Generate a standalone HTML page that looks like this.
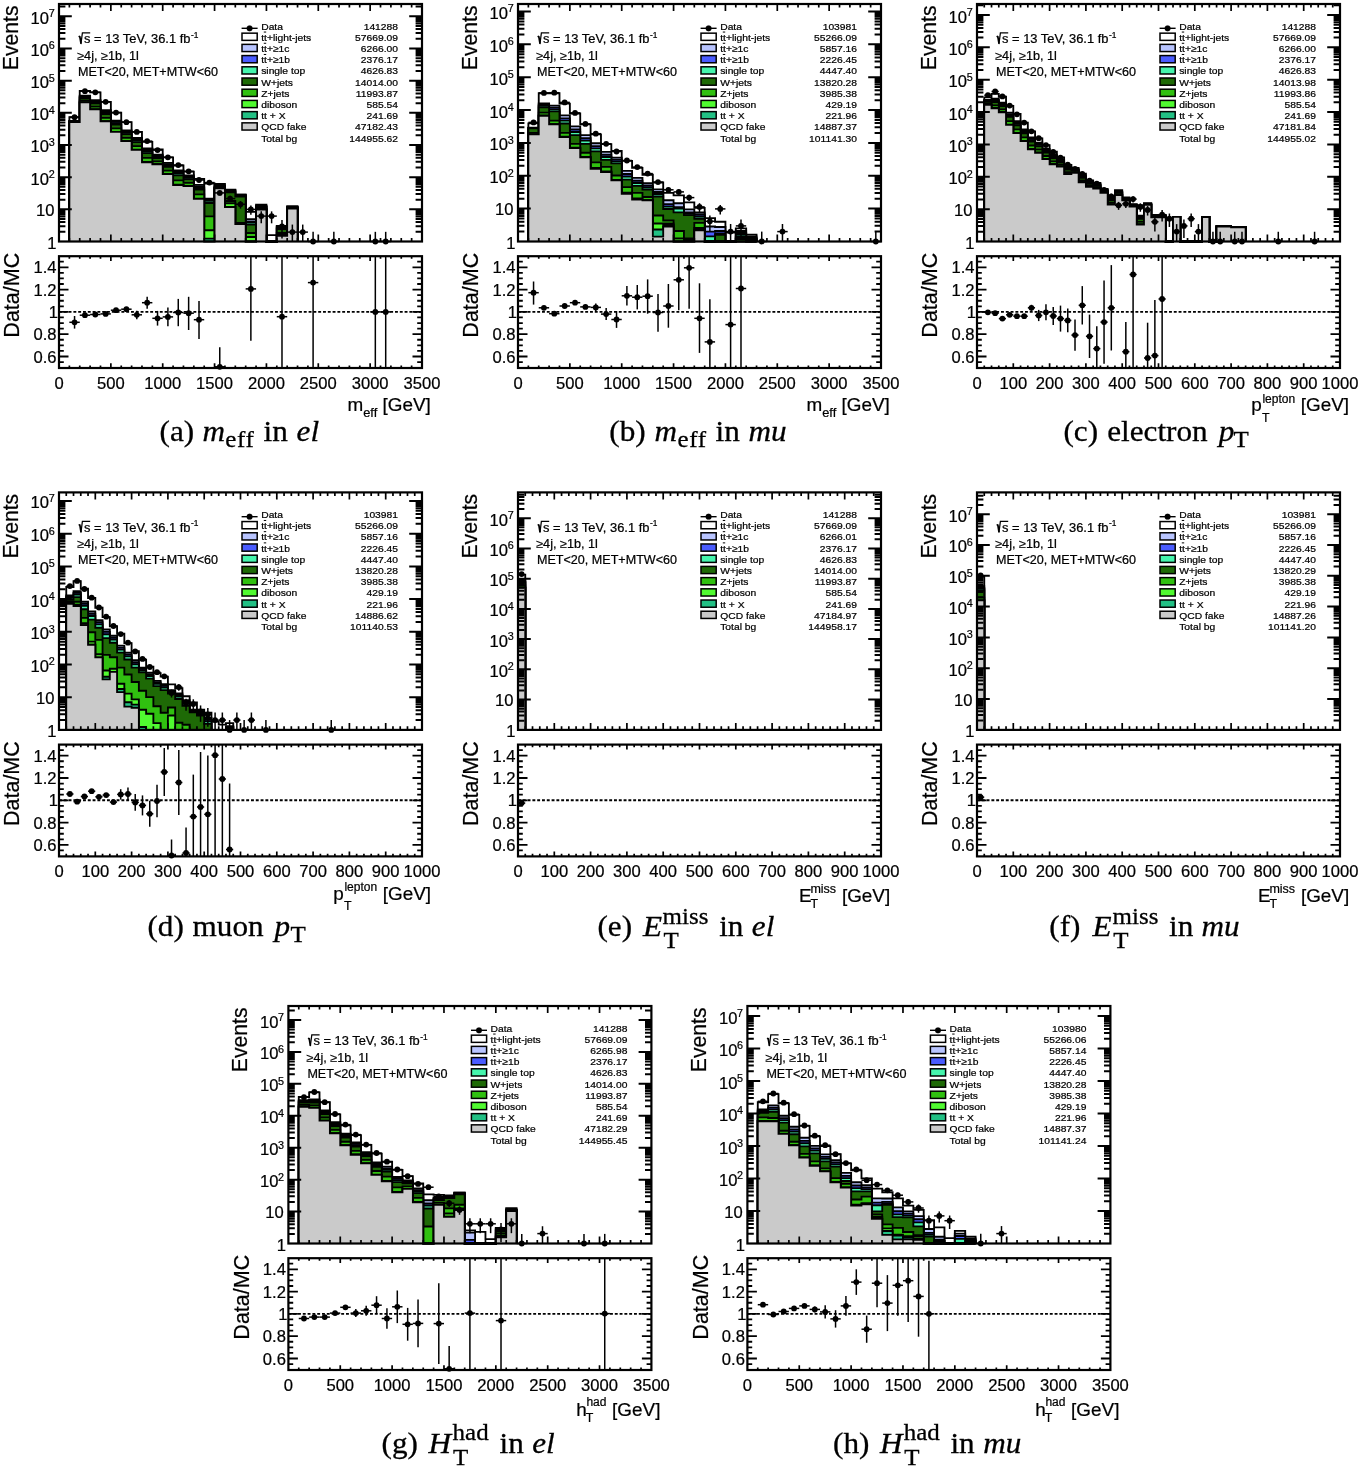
<!DOCTYPE html>
<html lang="en"><head><meta charset="utf-8"><title>Control region distributions</title>
<style>html,body{margin:0;padding:0;background:#fff}svg{display:block}</style></head>
<body>
<svg width="1358" height="1471" viewBox="0 0 1358 1471">
<rect width="1358" height="1471" fill="#fff"/>
<g transform="translate(0,0)">
<g stroke="#000" stroke-width="1.85" stroke-linejoin="miter">
<path d="M69.37 241.5 V117.2 H79.74 V90.9 H90.11 V92.4 H100.49 V101.9 H110.86 V112.6 H121.23 V122.1 H131.6 V131.9 H141.97 V141.8 H152.34 V149.3 H162.71 V157.4 H173.09 V165.5 H183.46 V171.6 H193.83 V178.8 H204.2 V183.5 H214.57 V184 H224.94 V189.7 H235.31 V194.6 H245.69 V211.8 H256.06 V204.7 H266.43 V235.1 H276.8 V225.8 H287.17 V206.2 H297.54 V241.5" fill="#ffffff"/>
<path d="M69.37 241.5 V121 H79.74 V95.6 H90.11 V100.2 H100.49 V110.2 H110.86 V120.6 H121.23 V130.5 H131.6 V138 H141.97 V148.4 H152.34 V154.7 H162.71 V162.8 H173.09 V170.3 H183.46 V175.5 H193.83 V184.8 H204.2 V198.6 H214.57 V185.5 H224.94 V190 H235.31 V194.6 H245.69 V219.2 H256.06 V206 H266.43 V241.5 H276.8 V226.2 H287.17 V207 H297.54 V241.5" fill="#b8c4ff"/>
<path d="M69.37 241.5 V121.22 H79.74 V96.45 H90.11 V101.3 H100.49 V111.52 H110.86 V121.94 H121.23 V131.76 H131.6 V139.4 H141.97 V150.02 H152.34 V155.84 H162.71 V164.14 H173.09 V172.03 H183.46 V176.75 H193.83 V186.45 H204.2 V200 H214.57 V185.92 H224.94 V190.8 H235.31 V195.2 H245.69 V221.6 H256.06 V206.5 H266.43 V241.5 H276.8 V227 H287.17 V207.26 H297.54 V241.5" fill="#4a5cff"/>
<path d="M69.37 241.5 V121.42 H79.74 V97.22 H90.11 V102.3 H100.49 V112.72 H110.86 V123.16 H121.23 V132.91 H131.6 V140.67 H141.97 V151.49 H152.34 V156.88 H162.71 V165.36 H173.09 V173.6 H183.46 V177.89 H193.83 V187.95 H204.2 V200.8 H214.57 V186.3 H224.94 V191.4 H235.31 V195.8 H245.69 V222.6 H256.06 V206.94 H266.43 V241.5 H276.8 V228 H287.17 V207.5 H297.54 V241.5" fill="#45f5ad"/>
<path d="M69.37 241.5 V121.64 H79.74 V98.06 H90.11 V103.4 H100.49 V114.04 H110.86 V124.5 H121.23 V134.18 H131.6 V142.06 H141.97 V153.1 H152.34 V158.03 H162.71 V166.7 H173.09 V175.32 H183.46 V179.15 H193.83 V189.6 H204.2 V203 H214.57 V186.72 H224.94 V192.2 H235.31 V196.5 H245.69 V224.6 H256.06 V207.44 H266.43 V241.5 H276.8 V229 H287.17 V207.77 H297.54 V241.5" fill="#1e6a06"/>
<path d="M69.37 241.5 V122.1 H79.74 V100.53 H90.11 V106.6 H100.49 V117.88 H110.86 V128.41 H121.23 V137.86 H131.6 V146.13 H141.97 V157.81 H152.34 V161.36 H162.71 V170.61 H173.09 V180.35 H183.46 V182.8 H193.83 V194.4 H204.2 V216.4 H214.57 V187.93 H224.94 V201 H235.31 V223 H245.69 V233 H256.06 V208.88 H266.43 V241.5 H276.8 V233 H287.17 V208.5 H297.54 V241.5" fill="#30c010"/>
<path d="M69.37 241.5 V122.1 H79.74 V102.4 H90.11 V109.3 H100.49 V121.24 H110.86 V131.82 H121.23 V141.08 H131.6 V149.68 H141.97 V161.92 H152.34 V164.2 H162.71 V174.02 H173.09 V184.74 H183.46 V185.99 H193.83 V198.6 H204.2 V230.2 H214.57 V188.4 H224.94 V203.2 H235.31 V224 H245.69 V237 H256.06 V209.6 H266.43 V241.5 H276.8 V235 H287.17 V208.5 H297.54 V241.5" fill="#50fa30"/>
<path d="M69.37 241.5 V122.1 H79.74 V102.4 H90.11 V109.3 H100.49 V121.3 H110.86 V131.9 H121.23 V141.1 H131.6 V149.8 H141.97 V162.2 H152.34 V164.2 H162.71 V174.1 H173.09 V185.1 H183.46 V186 H193.83 V198.9 H204.2 V238.6 H214.57 V188.4 H224.94 V207 H235.31 V224 H245.69 V241.5 H256.06 V209.6 H266.43 V241.5 H276.8 V235.9 H287.17 V208.5 H297.54 V241.5" fill="#22c084"/>
<path d="M69.37 241.5 V122.1 H79.74 V102.4 H90.11 V109.3 H100.49 V121.3 H110.86 V131.9 H121.23 V141.1 H131.6 V149.8 H141.97 V162.2 H152.34 V164.2 H162.71 V174.1 H173.09 V185.1 H183.46 V186 H193.83 V198.9 H204.2 V241.5 H214.57 V188.4 H224.94 V207 H235.31 V224 H245.69 V241.5 H256.06 V209.6 H266.43 V241.5 H276.8 V235.9 H287.17 V208.5 H297.54 V241.5" fill="#cacaca"/>
</g>
<g stroke="#000" stroke-width="1.5" fill="#000">
<path d="M69.36 117.2H79.76"/>
<circle cx="74.56" cy="117.2" r="2.9" stroke="none"/>
<path d="M79.73 91.2H90.13"/>
<circle cx="84.93" cy="91.2" r="2.9" stroke="none"/>
<path d="M90.1 92.3H100.5"/>
<circle cx="95.3" cy="92.3" r="2.9" stroke="none"/>
<path d="M100.47 101.8H110.87"/>
<circle cx="105.67" cy="101.8" r="2.9" stroke="none"/>
<path d="M110.84 112.6H121.24"/>
<circle cx="116.04" cy="112.6" r="2.9" stroke="none"/>
<path d="M121.21 122.2H131.61"/>
<circle cx="126.41" cy="122.2" r="2.9" stroke="none"/>
<path d="M131.59 131.9H141.99"/>
<circle cx="136.79" cy="131.9" r="2.9" stroke="none"/>
<path d="M141.96 141.1H152.36"/>
<circle cx="147.16" cy="141.1" r="2.9" stroke="none"/>
<path d="M152.33 150.1H162.73"/>
<circle cx="157.53" cy="150.1" r="2.9" stroke="none"/>
<path d="M162.7 157.3H173.1"/>
<circle cx="167.9" cy="157.3" r="2.9" stroke="none"/>
<path d="M178.27 164.22V166.04"/>
<path d="M173.07 165.1H183.47"/>
<circle cx="178.27" cy="165.1" r="2.9" stroke="none"/>
<path d="M188.64 170.21V172.48"/>
<path d="M183.44 171.3H193.84"/>
<circle cx="188.64" cy="171.3" r="2.9" stroke="none"/>
<path d="M199.01 178.53V181.64"/>
<path d="M193.81 180H204.21"/>
<circle cx="199.01" cy="180" r="2.9" stroke="none"/>
<path d="M209.39 181V184.41"/>
<path d="M204.19 182.6H214.59"/>
<circle cx="209.39" cy="182.6" r="2.9" stroke="none"/>
<path d="M219.76 190.64V195.6"/>
<path d="M214.56 192.9H224.96"/>
<circle cx="219.76" cy="192.9" r="2.9" stroke="none"/>
<path d="M230.13 195.87V201.99"/>
<path d="M224.93 198.6H235.33"/>
<circle cx="230.13" cy="198.6" r="2.9" stroke="none"/>
<path d="M240.5 201.03V208.59"/>
<path d="M235.3 204.3H245.7"/>
<circle cx="240.5" cy="204.3" r="2.9" stroke="none"/>
<path d="M250.87 205.55V214.73"/>
<path d="M245.67 209.4H256.07"/>
<circle cx="250.87" cy="209.4" r="2.9" stroke="none"/>
<path d="M261.24 211.37V223.31"/>
<path d="M256.04 216.1H266.44"/>
<circle cx="261.24" cy="216.1" r="2.9" stroke="none"/>
<path d="M271.61 211.37V223.31"/>
<path d="M266.41 216.1H276.81"/>
<circle cx="271.61" cy="216.1" r="2.9" stroke="none"/>
<path d="M281.99 219.99V238.6"/>
<path d="M276.79 226.4H287.19"/>
<circle cx="281.99" cy="226.4" r="2.9" stroke="none"/>
<path d="M292.36 224.57V241.5"/>
<path d="M287.16 232.1H297.56"/>
<circle cx="292.36" cy="232.1" r="2.9" stroke="none"/>
<path d="M302.73 224.57V241.5"/>
<path d="M297.53 232.1H307.93"/>
<circle cx="302.73" cy="232.1" r="2.9" stroke="none"/>
<path d="M313.1 231.82V241.5"/>
<path d="M307.9 241.5H318.3"/>
<circle cx="313.1" cy="241.5" r="2.9" stroke="none"/>
<path d="M333.84 231.82V241.5"/>
<path d="M328.64 241.5H339.04"/>
<circle cx="333.84" cy="241.5" r="2.9" stroke="none"/>
<path d="M375.33 231.82V241.5"/>
<path d="M370.13 241.5H380.53"/>
<circle cx="375.33" cy="241.5" r="2.9" stroke="none"/>
<path d="M385.7 231.82V241.5"/>
<path d="M380.5 241.5H390.9"/>
<circle cx="385.7" cy="241.5" r="2.9" stroke="none"/>
</g>
<g stroke="#000" fill="none" stroke-width="2">
<rect x="59" y="4" width="363" height="237.5" stroke-width="2.2"/>
<path d="M59 231.81h6.4 M422 231.81h-6.4 M59 226.14h6.4 M422 226.14h-6.4 M59 222.12h6.4 M422 222.12h-6.4 M59 219h6.4 M422 219h-6.4 M59 216.46h6.4 M422 216.46h-6.4 M59 214.3h6.4 M422 214.3h-6.4 M59 212.44h6.4 M422 212.44h-6.4 M59 210.79h6.4 M422 210.79h-6.4 M59 209.32h12.8 M422 209.32h-12.8 M59 199.64h6.4 M422 199.64h-6.4 M59 193.97h6.4 M422 193.97h-6.4 M59 189.95h6.4 M422 189.95h-6.4 M59 186.83h6.4 M422 186.83h-6.4 M59 184.29h6.4 M422 184.29h-6.4 M59 182.13h6.4 M422 182.13h-6.4 M59 180.27h6.4 M422 180.27h-6.4 M59 178.62h6.4 M422 178.62h-6.4 M59 177.15h12.8 M422 177.15h-12.8 M59 167.47h6.4 M422 167.47h-6.4 M59 161.8h6.4 M422 161.8h-6.4 M59 157.78h6.4 M422 157.78h-6.4 M59 154.66h6.4 M422 154.66h-6.4 M59 152.12h6.4 M422 152.12h-6.4 M59 149.96h6.4 M422 149.96h-6.4 M59 148.1h6.4 M422 148.1h-6.4 M59 146.45h6.4 M422 146.45h-6.4 M59 144.98h12.8 M422 144.98h-12.8 M59 135.3h6.4 M422 135.3h-6.4 M59 129.63h6.4 M422 129.63h-6.4 M59 125.61h6.4 M422 125.61h-6.4 M59 122.49h6.4 M422 122.49h-6.4 M59 119.95h6.4 M422 119.95h-6.4 M59 117.79h6.4 M422 117.79h-6.4 M59 115.93h6.4 M422 115.93h-6.4 M59 114.28h6.4 M422 114.28h-6.4 M59 112.81h12.8 M422 112.81h-12.8 M59 103.13h6.4 M422 103.13h-6.4 M59 97.46h6.4 M422 97.46h-6.4 M59 93.44h6.4 M422 93.44h-6.4 M59 90.32h6.4 M422 90.32h-6.4 M59 87.78h6.4 M422 87.78h-6.4 M59 85.62h6.4 M422 85.62h-6.4 M59 83.76h6.4 M422 83.76h-6.4 M59 82.11h6.4 M422 82.11h-6.4 M59 80.64h12.8 M422 80.64h-12.8 M59 70.96h6.4 M422 70.96h-6.4 M59 65.29h6.4 M422 65.29h-6.4 M59 61.27h6.4 M422 61.27h-6.4 M59 58.15h6.4 M422 58.15h-6.4 M59 55.61h6.4 M422 55.61h-6.4 M59 53.45h6.4 M422 53.45h-6.4 M59 51.59h6.4 M422 51.59h-6.4 M59 49.94h6.4 M422 49.94h-6.4 M59 48.47h12.8 M422 48.47h-12.8 M59 38.79h6.4 M422 38.79h-6.4 M59 33.12h6.4 M422 33.12h-6.4 M59 29.1h6.4 M422 29.1h-6.4 M59 25.98h6.4 M422 25.98h-6.4 M59 23.44h6.4 M422 23.44h-6.4 M59 21.28h6.4 M422 21.28h-6.4 M59 19.42h6.4 M422 19.42h-6.4 M59 17.77h6.4 M422 17.77h-6.4 M59 16.3h12.8 M422 16.3h-12.8 M59 6.62h6.4 M422 6.62h-6.4"/>
<path d="M69.37 4v3.6 M69.37 241.5v-3.6 M79.74 4v3.6 M79.74 241.5v-3.6 M90.11 4v3.6 M90.11 241.5v-3.6 M100.49 4v3.6 M100.49 241.5v-3.6 M110.86 4v7 M110.86 241.5v-7 M121.23 4v3.6 M121.23 241.5v-3.6 M131.6 4v3.6 M131.6 241.5v-3.6 M141.97 4v3.6 M141.97 241.5v-3.6 M152.34 4v3.6 M152.34 241.5v-3.6 M162.71 4v7 M162.71 241.5v-7 M173.09 4v3.6 M173.09 241.5v-3.6 M183.46 4v3.6 M183.46 241.5v-3.6 M193.83 4v3.6 M193.83 241.5v-3.6 M204.2 4v3.6 M204.2 241.5v-3.6 M214.57 4v7 M214.57 241.5v-7 M224.94 4v3.6 M224.94 241.5v-3.6 M235.31 4v3.6 M235.31 241.5v-3.6 M245.69 4v3.6 M245.69 241.5v-3.6 M256.06 4v3.6 M256.06 241.5v-3.6 M266.43 4v7 M266.43 241.5v-7 M276.8 4v3.6 M276.8 241.5v-3.6 M287.17 4v3.6 M287.17 241.5v-3.6 M297.54 4v3.6 M297.54 241.5v-3.6 M307.91 4v3.6 M307.91 241.5v-3.6 M318.29 4v7 M318.29 241.5v-7 M328.66 4v3.6 M328.66 241.5v-3.6 M339.03 4v3.6 M339.03 241.5v-3.6 M349.4 4v3.6 M349.4 241.5v-3.6 M359.77 4v3.6 M359.77 241.5v-3.6 M370.14 4v7 M370.14 241.5v-7 M380.51 4v3.6 M380.51 241.5v-3.6 M390.89 4v3.6 M390.89 241.5v-3.6 M401.26 4v3.6 M401.26 241.5v-3.6 M411.63 4v3.6 M411.63 241.5v-3.6" stroke-width="1.7"/>
</g>
<g stroke="#000" fill="none" stroke-width="2">
<path d="M59 311.9H422" stroke-dasharray="2.9 1.9" stroke-width="1.9"/>
</g>
<g stroke="#000" stroke-width="1.5" fill="#000">
<path d="M74.56 316V328.6"/>
<path d="M69.36 322.3H79.76"/>
<circle cx="74.56" cy="322.3" r="2.9" stroke="none"/>
<path d="M79.73 315.2H90.13"/>
<circle cx="84.93" cy="315.2" r="2.9" stroke="none"/>
<path d="M90.1 314.5H100.5"/>
<circle cx="95.3" cy="314.5" r="2.9" stroke="none"/>
<path d="M100.47 313.9H110.87"/>
<circle cx="105.67" cy="313.9" r="2.9" stroke="none"/>
<path d="M110.84 310.2H121.24"/>
<circle cx="116.04" cy="310.2" r="2.9" stroke="none"/>
<path d="M121.21 309.2H131.61"/>
<circle cx="126.41" cy="309.2" r="2.9" stroke="none"/>
<path d="M136.79 310.8V319.3"/>
<path d="M131.59 314.8H141.99"/>
<circle cx="136.79" cy="314.8" r="2.9" stroke="none"/>
<path d="M147.16 296.7V308.7"/>
<path d="M141.96 302.7H152.36"/>
<circle cx="147.16" cy="302.7" r="2.9" stroke="none"/>
<path d="M157.53 310.9V325.6"/>
<path d="M152.33 318.3H162.73"/>
<circle cx="157.53" cy="318.3" r="2.9" stroke="none"/>
<path d="M167.9 307.4V326.3"/>
<path d="M162.7 316.9H173.1"/>
<circle cx="167.9" cy="316.9" r="2.9" stroke="none"/>
<path d="M178.27 298.9V326.2"/>
<path d="M173.07 312.5H183.47"/>
<circle cx="178.27" cy="312.5" r="2.9" stroke="none"/>
<path d="M188.64 296.8V330"/>
<path d="M183.44 313.2H193.84"/>
<circle cx="188.64" cy="313.2" r="2.9" stroke="none"/>
<path d="M199.01 301.1V338.9"/>
<path d="M193.81 319.7H204.21"/>
<circle cx="199.01" cy="319.7" r="2.9" stroke="none"/>
<path d="M219.76 347.2V368"/>
<path d="M214.56 366.8H224.96"/>
<circle cx="219.76" cy="366.8" r="2.9" stroke="none"/>
<path d="M250.87 256.2V340.7"/>
<path d="M245.67 288.9H256.07"/>
<circle cx="250.87" cy="288.9" r="2.9" stroke="none"/>
<path d="M281.99 256.2V368"/>
<path d="M276.79 316.7H287.19"/>
<circle cx="281.99" cy="316.7" r="2.9" stroke="none"/>
<path d="M313.1 256.2V368"/>
<path d="M307.9 282.6H318.3"/>
<circle cx="313.1" cy="282.6" r="2.9" stroke="none"/>
<path d="M375.33 256.2V368"/>
<path d="M370.13 311.9H380.53"/>
<circle cx="375.33" cy="311.9" r="2.9" stroke="none"/>
<path d="M385.7 256.2V368"/>
<path d="M380.5 311.9H390.9"/>
<circle cx="385.7" cy="311.9" r="2.9" stroke="none"/>
</g>
<g stroke="#000" fill="none" stroke-width="2">
<rect x="59" y="256.2" width="363" height="111.8" stroke-width="2.2"/>
<path d="M69.37 256.2v2.6 M69.37 368v-2.6 M79.74 256.2v2.6 M79.74 368v-2.6 M90.11 256.2v2.6 M90.11 368v-2.6 M100.49 256.2v2.6 M100.49 368v-2.6 M110.86 256.2v4.8 M110.86 368v-4.8 M121.23 256.2v2.6 M121.23 368v-2.6 M131.6 256.2v2.6 M131.6 368v-2.6 M141.97 256.2v2.6 M141.97 368v-2.6 M152.34 256.2v2.6 M152.34 368v-2.6 M162.71 256.2v4.8 M162.71 368v-4.8 M173.09 256.2v2.6 M173.09 368v-2.6 M183.46 256.2v2.6 M183.46 368v-2.6 M193.83 256.2v2.6 M193.83 368v-2.6 M204.2 256.2v2.6 M204.2 368v-2.6 M214.57 256.2v4.8 M214.57 368v-4.8 M224.94 256.2v2.6 M224.94 368v-2.6 M235.31 256.2v2.6 M235.31 368v-2.6 M245.69 256.2v2.6 M245.69 368v-2.6 M256.06 256.2v2.6 M256.06 368v-2.6 M266.43 256.2v4.8 M266.43 368v-4.8 M276.8 256.2v2.6 M276.8 368v-2.6 M287.17 256.2v2.6 M287.17 368v-2.6 M297.54 256.2v2.6 M297.54 368v-2.6 M307.91 256.2v2.6 M307.91 368v-2.6 M318.29 256.2v4.8 M318.29 368v-4.8 M328.66 256.2v2.6 M328.66 368v-2.6 M339.03 256.2v2.6 M339.03 368v-2.6 M349.4 256.2v2.6 M349.4 368v-2.6 M359.77 256.2v2.6 M359.77 368v-2.6 M370.14 256.2v4.8 M370.14 368v-4.8 M380.51 256.2v2.6 M380.51 368v-2.6 M390.89 256.2v2.6 M390.89 368v-2.6 M401.26 256.2v2.6 M401.26 368v-2.6 M411.63 256.2v2.6 M411.63 368v-2.6" stroke-width="1.7"/>
<path d="M59 362.07h4.8 M422 362.07h-4.8 M59 356.5h9.5 M422 356.5h-9.5 M59 350.92h4.8 M422 350.92h-4.8 M59 345.35h4.8 M422 345.35h-4.8 M59 339.77h4.8 M422 339.77h-4.8 M59 334.2h9.5 M422 334.2h-9.5 M59 328.62h4.8 M422 328.62h-4.8 M59 323.05h4.8 M422 323.05h-4.8 M59 317.47h4.8 M422 317.47h-4.8 M59 311.9h9.5 M422 311.9h-9.5 M59 306.32h4.8 M422 306.32h-4.8 M59 300.75h4.8 M422 300.75h-4.8 M59 295.18h4.8 M422 295.18h-4.8 M59 289.6h9.5 M422 289.6h-9.5 M59 284.02h4.8 M422 284.02h-4.8 M59 278.45h4.8 M422 278.45h-4.8 M59 272.87h4.8 M422 272.87h-4.8 M59 267.3h9.5 M422 267.3h-9.5 M59 261.72h4.8 M422 261.72h-4.8" stroke-width="1.8"/>
</g>
<g font-family='"Liberation Sans", Arial, Helvetica, sans-serif' fill="#000" stroke="#000" stroke-width="0.22">
<text x="56.6" y="248.69" font-size="16.6" text-anchor="end">1</text>
<text x="54.4" y="216.02" font-size="16.6" text-anchor="end">10</text>
<text x="49.0" y="184.65" font-size="16.6" text-anchor="end">10</text>
<text x="48.7" y="178.05" font-size="10.8">2</text>
<text x="49.0" y="152.48" font-size="16.6" text-anchor="end">10</text>
<text x="48.7" y="145.88" font-size="10.8">3</text>
<text x="49.0" y="120.31" font-size="16.6" text-anchor="end">10</text>
<text x="48.7" y="113.71" font-size="10.8">4</text>
<text x="49.0" y="88.14" font-size="16.6" text-anchor="end">10</text>
<text x="48.7" y="81.54" font-size="10.8">5</text>
<text x="49.0" y="55.97" font-size="16.6" text-anchor="end">10</text>
<text x="48.7" y="49.37" font-size="10.8">6</text>
<text x="49.0" y="23.8" font-size="16.6" text-anchor="end">10</text>
<text x="48.7" y="17.2" font-size="10.8">7</text>
<text x="56.5" y="273.3" font-size="16.6" text-anchor="end">1.4</text>
<text x="56.5" y="295.6" font-size="16.6" text-anchor="end">1.2</text>
<text x="58.0" y="317.9" font-size="16.6" text-anchor="end">1</text>
<text x="56.5" y="340.2" font-size="16.6" text-anchor="end">0.8</text>
<text x="56.5" y="362.5" font-size="16.6" text-anchor="end">0.6</text>
<text x="59" y="388.7" font-size="16.6" text-anchor="middle">0</text>
<text x="110.86" y="388.7" font-size="16.6" text-anchor="middle">500</text>
<text x="162.71" y="388.7" font-size="16.6" text-anchor="middle">1000</text>
<text x="214.57" y="388.7" font-size="16.6" text-anchor="middle">1500</text>
<text x="266.43" y="388.7" font-size="16.6" text-anchor="middle">2000</text>
<text x="318.29" y="388.7" font-size="16.6" text-anchor="middle">2500</text>
<text x="370.14" y="388.7" font-size="16.6" text-anchor="middle">3000</text>
<text x="422" y="388.7" font-size="16.6" text-anchor="middle">3500</text>
<text transform="translate(17.7,5.4) rotate(-90)" font-size="21.2" text-anchor="end">Events</text>
<text transform="translate(19.1,252.8) rotate(-90)" font-size="21.5" text-anchor="end">Data/MC</text>
<text x="430.8" y="411.4" font-size="18.9" text-anchor="end">m<tspan font-size="12.8" dy="5.2">eff</tspan><tspan dy="-5.2"> [GeV]</tspan></text>
<path d="M78.7 37l1.1 -0.7l1.2 7.4" fill="none" stroke="#000" stroke-width="1.7" stroke-linejoin="bevel"/><path d="M80.9 44.2l1.5 -11.3h7.8" fill="none" stroke="#000" stroke-width="1.25"/>
<text x="84" y="43.4" font-size="11.9" textLength="106.4" lengthAdjust="spacingAndGlyphs">s = 13 TeV, 36.1 fb</text>
<text x="190.9" y="38" font-size="8.4">-1</text>
<text x="77.2" y="59.6" font-size="11.9" textLength="61.6" lengthAdjust="spacingAndGlyphs">≥4j, ≥1b, 1l</text>
<text x="78" y="75.6" font-size="11.9" textLength="140" lengthAdjust="spacingAndGlyphs">MET&lt;20, MET+MTW&lt;60</text>
<path d="M241.6 28.3H257.6" stroke="#000" stroke-width="1.4"/><circle cx="249.6" cy="28.3" r="2.9"/>
<text transform="translate(261.2,29.55) scale(1.09,1)" font-size="9.45">Data</text>
<text transform="translate(398,29.55) scale(1.09,1)" font-size="9.45" text-anchor="end">141288</text>
<rect x="242" y="33.16" width="15.2" height="7.2" fill="#ffffff" stroke="#000" stroke-width="1.5"/>
<text transform="translate(261.2,40.76) scale(1.09,1)" font-size="9.45">tt+light-jets</text>
<path d="M263.8 32.06h2.4" stroke="#000" stroke-width="1"/>
<text transform="translate(398,40.76) scale(1.09,1)" font-size="9.45" text-anchor="end">57669.09</text>
<rect x="242" y="44.37" width="15.2" height="7.2" fill="#b8c4ff" stroke="#000" stroke-width="1.5"/>
<text transform="translate(261.2,51.97) scale(1.09,1)" font-size="9.45">tt+≥1c</text>
<path d="M263.8 43.27h2.4" stroke="#000" stroke-width="1"/>
<text transform="translate(398,51.97) scale(1.09,1)" font-size="9.45" text-anchor="end">6266.00</text>
<rect x="242" y="55.58" width="15.2" height="7.2" fill="#4a5cff" stroke="#000" stroke-width="1.5"/>
<text transform="translate(261.2,63.18) scale(1.09,1)" font-size="9.45">tt+≥1b</text>
<path d="M263.8 54.48h2.4" stroke="#000" stroke-width="1"/>
<text transform="translate(398,63.18) scale(1.09,1)" font-size="9.45" text-anchor="end">2376.17</text>
<rect x="242" y="66.79" width="15.2" height="7.2" fill="#45f5ad" stroke="#000" stroke-width="1.5"/>
<text transform="translate(261.2,74.39) scale(1.09,1)" font-size="9.45">single top</text>
<text transform="translate(398,74.39) scale(1.09,1)" font-size="9.45" text-anchor="end">4626.83</text>
<rect x="242" y="78" width="15.2" height="7.2" fill="#1e6a06" stroke="#000" stroke-width="1.5"/>
<text transform="translate(261.2,85.6) scale(1.09,1)" font-size="9.45">W+jets</text>
<text transform="translate(398,85.6) scale(1.09,1)" font-size="9.45" text-anchor="end">14014.00</text>
<rect x="242" y="89.21" width="15.2" height="7.2" fill="#30c010" stroke="#000" stroke-width="1.5"/>
<text transform="translate(261.2,96.81) scale(1.09,1)" font-size="9.45">Z+jets</text>
<text transform="translate(398,96.81) scale(1.09,1)" font-size="9.45" text-anchor="end">11993.87</text>
<rect x="242" y="100.42" width="15.2" height="7.2" fill="#50fa30" stroke="#000" stroke-width="1.5"/>
<text transform="translate(261.2,108.02) scale(1.09,1)" font-size="9.45">diboson</text>
<text transform="translate(398,108.02) scale(1.09,1)" font-size="9.45" text-anchor="end">585.54</text>
<rect x="242" y="111.63" width="15.2" height="7.2" fill="#22c084" stroke="#000" stroke-width="1.5"/>
<text transform="translate(261.2,119.23) scale(1.09,1)" font-size="9.45">tt + X</text>
<text transform="translate(398,119.23) scale(1.09,1)" font-size="9.45" text-anchor="end">241.69</text>
<rect x="242" y="122.84" width="15.2" height="7.2" fill="#cacaca" stroke="#000" stroke-width="1.5"/>
<text transform="translate(261.2,130.44) scale(1.09,1)" font-size="9.45">QCD fake</text>
<text transform="translate(398,130.44) scale(1.09,1)" font-size="9.45" text-anchor="end">47182.43</text>
<text transform="translate(261.2,141.65) scale(1.09,1)" font-size="9.45">Total bg</text>
<text transform="translate(398,141.65) scale(1.09,1)" font-size="9.45" text-anchor="end">144955.62</text>
</g>
</g>
<g font-family='"Liberation Serif", "Times New Roman", Times, serif' fill="#000" stroke="#000" stroke-width="0.3"><text transform="translate(159.6,441.1) scale(1.04,1)" font-size="30.0">(a)</text><text transform="translate(202.6,441.1) scale(1.04,1)" font-size="30.0" font-style="italic">m</text><text transform="translate(225.2,447.4) scale(1.04,1)" font-size="24.0" letter-spacing="0.7">eff</text><text transform="translate(263.6,441.1) scale(1.04,1)" font-size="30.0">in</text><text transform="translate(296.6,441.1) scale(1.04,1)" font-size="30.0" font-style="italic">el</text></g>
<g transform="translate(459,0)">
<g stroke="#000" stroke-width="1.85" stroke-linejoin="miter">
<path d="M69.37 241.5 V123.3 H79.74 V93.2 H90.11 V93.2 H100.49 V103.6 H110.86 V113.5 H121.23 V124.4 H131.6 V134.3 H141.97 V144.1 H152.34 V151 H162.71 V160.8 H173.09 V167.8 H183.46 V174.7 H193.83 V182.5 H204.2 V192.8 H214.57 V195.4 H224.94 V202.4 H235.31 V207.8 H245.69 V218.1 H256.06 V221.7 H266.43 V232.5 H276.8 V228.4 H287.17 V234.6 H297.54 V241.5" fill="#ffffff"/>
<path d="M69.37 241.5 V127.6 H79.74 V103.3 H90.11 V105.6 H100.49 V115.4 H110.86 V126.4 H121.23 V135.1 H131.6 V143.2 H141.97 V151.9 H152.34 V157.6 H162.71 V170.9 H173.09 V177.9 H183.46 V183.1 H193.83 V189.3 H204.2 V200.2 H214.57 V203.2 H224.94 V209.4 H235.31 V212.5 H245.69 V226.5 H256.06 V227 H266.43 V241.5 H276.8 V231 H287.17 V236.5 H297.54 V241.5" fill="#b8c4ff"/>
<path d="M69.37 241.5 V127.89 H79.74 V104.78 H90.11 V107.69 H100.49 V118.32 H110.86 V129.53 H121.23 V138.23 H131.6 V146.12 H141.97 V154.78 H152.34 V159.69 H162.71 V174.03 H173.09 V180.78 H183.46 V185.4 H193.83 V192 H204.2 V204.2 H214.57 V207.2 H224.94 V212.4 H235.31 V214.5 H245.69 V231.6 H256.06 V231 H266.43 V241.5 H276.8 V233 H287.17 V238 H297.54 V241.5" fill="#4a5cff"/>
<path d="M69.37 241.5 V128.11 H79.74 V105.92 H90.11 V109.31 H100.49 V120.58 H110.86 V131.97 H121.23 V140.67 H131.6 V148.38 H141.97 V157.02 H152.34 V161.31 H162.71 V176.47 H173.09 V183.02 H183.46 V187.2 H193.83 V194 H204.2 V206.6 H214.57 V208.5 H224.94 V213.8 H235.31 V216.5 H245.69 V236.3 H256.06 V233.5 H266.43 V241.5 H276.8 V234.5 H287.17 V239 H297.54 V241.5" fill="#45f5ad"/>
<path d="M69.37 241.5 V128.4 H79.74 V107.4 H90.11 V111.4 H100.49 V123.5 H110.86 V135.1 H121.23 V143.8 H131.6 V151.3 H141.97 V159.9 H152.34 V163.4 H162.71 V179.6 H173.09 V185.9 H183.46 V189.5 H193.83 V196.5 H204.2 V209 H214.57 V212.4 H224.94 V215.1 H235.31 V218.7 H245.69 V241.5 H256.06 V234.8 H266.43 V241.5 H276.8 V236.5 H287.17 V240 H297.54 V241.5" fill="#1e6a06"/>
<path d="M69.37 241.5 V132.8 H79.74 V112.6 H90.11 V120.6 H100.49 V132.8 H110.86 V143.8 H121.23 V152.7 H131.6 V162.3 H141.97 V166.9 H152.34 V175.5 H162.71 V187.1 H173.09 V192.9 H183.46 V197 H193.83 V215.5 H204.2 V220.5 H214.57 V231 H224.94 V238.5 H235.31 V222.8 H245.69 V241.5 H256.06 V241.5 H266.43 V241.5 H276.8 V237.6 H287.17 V241.5 H297.54 V241.5" fill="#30c010"/>
<path d="M69.37 241.5 V134.4 H79.74 V115.6 H90.11 V124.12 H100.49 V136.7 H110.86 V147.7 H121.23 V156.82 H131.6 V167.93 H141.97 V171.47 H152.34 V179.85 H162.71 V192.72 H173.09 V198.53 H183.46 V200.15 H193.83 V223.5 H204.2 V223.5 H214.57 V238.5 H224.94 V240 H235.31 V228 H245.69 V241.5 H256.06 V241.5 H266.43 V241.5 H276.8 V239 H287.17 V241.5 H297.54 V241.5" fill="#50fa30"/>
<path d="M69.37 241.5 V134.4 H79.74 V115.7 H90.11 V124.4 H100.49 V137.1 H110.86 V148.1 H121.23 V157.3 H131.6 V168.9 H141.97 V172.1 H152.34 V180.4 H162.71 V193.7 H173.09 V199.5 H183.46 V200.3 H193.83 V229.5 H204.2 V225 H214.57 V241.5 H224.94 V241.5 H235.31 V230 H245.69 V241.5 H256.06 V241.5 H266.43 V241.5 H276.8 V241.5 H287.17 V241.5 H297.54 V241.5" fill="#22c084"/>
<path d="M69.37 241.5 V134.4 H79.74 V115.7 H90.11 V124.4 H100.49 V137.1 H110.86 V148.1 H121.23 V157.3 H131.6 V168.9 H141.97 V172.1 H152.34 V180.4 H162.71 V193.7 H173.09 V199.5 H183.46 V200.3 H193.83 V236.6 H204.2 V226.6 H214.57 V241.5 H224.94 V241.5 H235.31 V230.2 H245.69 V241.5 H256.06 V241.5 H266.43 V241.5 H276.8 V241.5 H287.17 V241.5 H297.54 V241.5" fill="#cacaca"/>
</g>
<g stroke="#000" stroke-width="1.5" fill="#000">
<path d="M69.36 122.4H79.76"/>
<circle cx="74.56" cy="122.4" r="2.9" stroke="none"/>
<path d="M79.73 92.9H90.13"/>
<circle cx="84.93" cy="92.9" r="2.9" stroke="none"/>
<path d="M90.1 92.7H100.5"/>
<circle cx="95.3" cy="92.7" r="2.9" stroke="none"/>
<path d="M100.47 102.4H110.87"/>
<circle cx="105.67" cy="102.4" r="2.9" stroke="none"/>
<path d="M110.84 112.9H121.24"/>
<circle cx="116.04" cy="112.9" r="2.9" stroke="none"/>
<path d="M121.21 123.9H131.61"/>
<circle cx="126.41" cy="123.9" r="2.9" stroke="none"/>
<path d="M131.59 133.7H141.99"/>
<circle cx="136.79" cy="133.7" r="2.9" stroke="none"/>
<path d="M141.96 143.8H152.36"/>
<circle cx="147.16" cy="143.8" r="2.9" stroke="none"/>
<path d="M152.33 151.5H162.73"/>
<circle cx="157.53" cy="151.5" r="2.9" stroke="none"/>
<path d="M167.9 159.69V161.36"/>
<path d="M162.7 160.5H173.1"/>
<circle cx="167.9" cy="160.5" r="2.9" stroke="none"/>
<path d="M178.27 166.09V168.19"/>
<path d="M173.07 167.1H183.47"/>
<circle cx="178.27" cy="167.1" r="2.9" stroke="none"/>
<path d="M188.64 172.34V174.99"/>
<path d="M183.44 173.6H193.84"/>
<circle cx="188.64" cy="173.6" r="2.9" stroke="none"/>
<path d="M199.01 180.42V184"/>
<path d="M193.81 182.1H204.21"/>
<circle cx="199.01" cy="182.1" r="2.9" stroke="none"/>
<path d="M209.39 187.64V192.34"/>
<path d="M204.19 189.8H214.59"/>
<circle cx="209.39" cy="189.8" r="2.9" stroke="none"/>
<path d="M219.76 189.59V194.66"/>
<path d="M214.56 191.9H224.96"/>
<circle cx="219.76" cy="191.9" r="2.9" stroke="none"/>
<path d="M230.13 194.83V201.05"/>
<path d="M224.93 197.6H235.33"/>
<circle cx="230.13" cy="197.6" r="2.9" stroke="none"/>
<path d="M240.5 203.19V211.94"/>
<path d="M235.3 206.9H245.7"/>
<circle cx="240.5" cy="206.9" r="2.9" stroke="none"/>
<path d="M250.87 215.59V230.98"/>
<path d="M245.67 221.3H256.07"/>
<circle cx="250.87" cy="221.3" r="2.9" stroke="none"/>
<path d="M261.24 204.95V214.38"/>
<path d="M256.04 208.9H266.44"/>
<circle cx="261.24" cy="208.9" r="2.9" stroke="none"/>
<path d="M271.61 223.97V241.5"/>
<path d="M266.41 231.6H276.81"/>
<circle cx="271.61" cy="231.6" r="2.9" stroke="none"/>
<path d="M281.99 219.38V238.24"/>
<path d="M276.79 225.9H287.19"/>
<circle cx="281.99" cy="225.9" r="2.9" stroke="none"/>
<path d="M302.73 231.61V241.5"/>
<path d="M297.53 241.5H307.93"/>
<circle cx="302.73" cy="241.5" r="2.9" stroke="none"/>
<path d="M323.47 223.97V241.5"/>
<path d="M318.27 231.6H328.67"/>
<circle cx="323.47" cy="231.6" r="2.9" stroke="none"/>
<path d="M416.81 231.61V241.5"/>
<path d="M411.61 241.5H422.01"/>
<circle cx="416.81" cy="241.5" r="2.9" stroke="none"/>
</g>
<g stroke="#000" fill="none" stroke-width="2">
<rect x="59" y="4" width="363" height="237.5" stroke-width="2.2"/>
<path d="M59 231.56h6.4 M422 231.56h-6.4 M59 225.78h6.4 M422 225.78h-6.4 M59 221.67h6.4 M422 221.67h-6.4 M59 218.49h6.4 M422 218.49h-6.4 M59 215.89h6.4 M422 215.89h-6.4 M59 213.69h6.4 M422 213.69h-6.4 M59 211.78h6.4 M422 211.78h-6.4 M59 210.1h6.4 M422 210.1h-6.4 M59 208.6h12.8 M422 208.6h-12.8 M59 198.71h6.4 M422 198.71h-6.4 M59 192.93h6.4 M422 192.93h-6.4 M59 188.82h6.4 M422 188.82h-6.4 M59 185.64h6.4 M422 185.64h-6.4 M59 183.04h6.4 M422 183.04h-6.4 M59 180.84h6.4 M422 180.84h-6.4 M59 178.93h6.4 M422 178.93h-6.4 M59 177.25h6.4 M422 177.25h-6.4 M59 175.75h12.8 M422 175.75h-12.8 M59 165.86h6.4 M422 165.86h-6.4 M59 160.08h6.4 M422 160.08h-6.4 M59 155.97h6.4 M422 155.97h-6.4 M59 152.79h6.4 M422 152.79h-6.4 M59 150.19h6.4 M422 150.19h-6.4 M59 147.99h6.4 M422 147.99h-6.4 M59 146.08h6.4 M422 146.08h-6.4 M59 144.4h6.4 M422 144.4h-6.4 M59 142.9h12.8 M422 142.9h-12.8 M59 133.01h6.4 M422 133.01h-6.4 M59 127.23h6.4 M422 127.23h-6.4 M59 123.12h6.4 M422 123.12h-6.4 M59 119.94h6.4 M422 119.94h-6.4 M59 117.34h6.4 M422 117.34h-6.4 M59 115.14h6.4 M422 115.14h-6.4 M59 113.23h6.4 M422 113.23h-6.4 M59 111.55h6.4 M422 111.55h-6.4 M59 110.05h12.8 M422 110.05h-12.8 M59 100.16h6.4 M422 100.16h-6.4 M59 94.38h6.4 M422 94.38h-6.4 M59 90.27h6.4 M422 90.27h-6.4 M59 87.09h6.4 M422 87.09h-6.4 M59 84.49h6.4 M422 84.49h-6.4 M59 82.29h6.4 M422 82.29h-6.4 M59 80.38h6.4 M422 80.38h-6.4 M59 78.7h6.4 M422 78.7h-6.4 M59 77.2h12.8 M422 77.2h-12.8 M59 67.31h6.4 M422 67.31h-6.4 M59 61.53h6.4 M422 61.53h-6.4 M59 57.42h6.4 M422 57.42h-6.4 M59 54.24h6.4 M422 54.24h-6.4 M59 51.64h6.4 M422 51.64h-6.4 M59 49.44h6.4 M422 49.44h-6.4 M59 47.53h6.4 M422 47.53h-6.4 M59 45.85h6.4 M422 45.85h-6.4 M59 44.35h12.8 M422 44.35h-12.8 M59 34.46h6.4 M422 34.46h-6.4 M59 28.68h6.4 M422 28.68h-6.4 M59 24.57h6.4 M422 24.57h-6.4 M59 21.39h6.4 M422 21.39h-6.4 M59 18.79h6.4 M422 18.79h-6.4 M59 16.59h6.4 M422 16.59h-6.4 M59 14.68h6.4 M422 14.68h-6.4 M59 13h6.4 M422 13h-6.4 M59 11.5h12.8 M422 11.5h-12.8"/>
<path d="M69.37 4v3.6 M69.37 241.5v-3.6 M79.74 4v3.6 M79.74 241.5v-3.6 M90.11 4v3.6 M90.11 241.5v-3.6 M100.49 4v3.6 M100.49 241.5v-3.6 M110.86 4v7 M110.86 241.5v-7 M121.23 4v3.6 M121.23 241.5v-3.6 M131.6 4v3.6 M131.6 241.5v-3.6 M141.97 4v3.6 M141.97 241.5v-3.6 M152.34 4v3.6 M152.34 241.5v-3.6 M162.71 4v7 M162.71 241.5v-7 M173.09 4v3.6 M173.09 241.5v-3.6 M183.46 4v3.6 M183.46 241.5v-3.6 M193.83 4v3.6 M193.83 241.5v-3.6 M204.2 4v3.6 M204.2 241.5v-3.6 M214.57 4v7 M214.57 241.5v-7 M224.94 4v3.6 M224.94 241.5v-3.6 M235.31 4v3.6 M235.31 241.5v-3.6 M245.69 4v3.6 M245.69 241.5v-3.6 M256.06 4v3.6 M256.06 241.5v-3.6 M266.43 4v7 M266.43 241.5v-7 M276.8 4v3.6 M276.8 241.5v-3.6 M287.17 4v3.6 M287.17 241.5v-3.6 M297.54 4v3.6 M297.54 241.5v-3.6 M307.91 4v3.6 M307.91 241.5v-3.6 M318.29 4v7 M318.29 241.5v-7 M328.66 4v3.6 M328.66 241.5v-3.6 M339.03 4v3.6 M339.03 241.5v-3.6 M349.4 4v3.6 M349.4 241.5v-3.6 M359.77 4v3.6 M359.77 241.5v-3.6 M370.14 4v7 M370.14 241.5v-7 M380.51 4v3.6 M380.51 241.5v-3.6 M390.89 4v3.6 M390.89 241.5v-3.6 M401.26 4v3.6 M401.26 241.5v-3.6 M411.63 4v3.6 M411.63 241.5v-3.6" stroke-width="1.7"/>
</g>
<g stroke="#000" fill="none" stroke-width="2">
<path d="M59 311.9H422" stroke-dasharray="2.9 1.9" stroke-width="1.9"/>
</g>
<g stroke="#000" stroke-width="1.5" fill="#000">
<path d="M74.56 281.5V304.6"/>
<path d="M69.36 292.7H79.76"/>
<circle cx="74.56" cy="292.7" r="2.9" stroke="none"/>
<path d="M79.73 307.8H90.13"/>
<circle cx="84.93" cy="307.8" r="2.9" stroke="none"/>
<path d="M90.1 313.7H100.5"/>
<circle cx="95.3" cy="313.7" r="2.9" stroke="none"/>
<path d="M100.47 306H110.87"/>
<circle cx="105.67" cy="306" r="2.9" stroke="none"/>
<path d="M110.84 302.7H121.24"/>
<circle cx="116.04" cy="302.7" r="2.9" stroke="none"/>
<path d="M121.21 306.9H131.61"/>
<circle cx="126.41" cy="306.9" r="2.9" stroke="none"/>
<path d="M136.79 303.4V311.4"/>
<path d="M131.59 307.4H141.99"/>
<circle cx="136.79" cy="307.4" r="2.9" stroke="none"/>
<path d="M147.16 308.1V320.1"/>
<path d="M141.96 314.1H152.36"/>
<circle cx="147.16" cy="314.1" r="2.9" stroke="none"/>
<path d="M157.53 311.1V327.9"/>
<path d="M152.33 319.5H162.73"/>
<circle cx="157.53" cy="319.5" r="2.9" stroke="none"/>
<path d="M167.9 286V305.6"/>
<path d="M162.7 295.8H173.1"/>
<circle cx="167.9" cy="295.8" r="2.9" stroke="none"/>
<path d="M178.27 285V309.4"/>
<path d="M173.07 297.2H183.47"/>
<circle cx="178.27" cy="297.2" r="2.9" stroke="none"/>
<path d="M188.64 279.4V313.7"/>
<path d="M183.44 296.2H193.84"/>
<circle cx="188.64" cy="296.2" r="2.9" stroke="none"/>
<path d="M199.01 294V331.8"/>
<path d="M193.81 312.5H204.21"/>
<circle cx="199.01" cy="312.5" r="2.9" stroke="none"/>
<path d="M209.39 284V327.7"/>
<path d="M204.19 306H214.59"/>
<circle cx="209.39" cy="306" r="2.9" stroke="none"/>
<path d="M219.76 256.2V310.2"/>
<path d="M214.56 279.8H224.96"/>
<circle cx="219.76" cy="279.8" r="2.9" stroke="none"/>
<path d="M230.13 256.2V308.8"/>
<path d="M224.93 267.8H235.33"/>
<circle cx="230.13" cy="267.8" r="2.9" stroke="none"/>
<path d="M240.5 283.3V352.9"/>
<path d="M235.3 318.3H245.7"/>
<circle cx="240.5" cy="318.3" r="2.9" stroke="none"/>
<path d="M250.87 299.2V368"/>
<path d="M245.67 341.9H256.07"/>
<circle cx="250.87" cy="341.9" r="2.9" stroke="none"/>
<path d="M271.61 256.2V368"/>
<path d="M266.41 324.6H276.81"/>
<circle cx="271.61" cy="324.6" r="2.9" stroke="none"/>
<path d="M281.99 256.2V368"/>
<path d="M276.79 288.5H287.19"/>
<circle cx="281.99" cy="288.5" r="2.9" stroke="none"/>
</g>
<g stroke="#000" fill="none" stroke-width="2">
<rect x="59" y="256.2" width="363" height="111.8" stroke-width="2.2"/>
<path d="M69.37 256.2v2.6 M69.37 368v-2.6 M79.74 256.2v2.6 M79.74 368v-2.6 M90.11 256.2v2.6 M90.11 368v-2.6 M100.49 256.2v2.6 M100.49 368v-2.6 M110.86 256.2v4.8 M110.86 368v-4.8 M121.23 256.2v2.6 M121.23 368v-2.6 M131.6 256.2v2.6 M131.6 368v-2.6 M141.97 256.2v2.6 M141.97 368v-2.6 M152.34 256.2v2.6 M152.34 368v-2.6 M162.71 256.2v4.8 M162.71 368v-4.8 M173.09 256.2v2.6 M173.09 368v-2.6 M183.46 256.2v2.6 M183.46 368v-2.6 M193.83 256.2v2.6 M193.83 368v-2.6 M204.2 256.2v2.6 M204.2 368v-2.6 M214.57 256.2v4.8 M214.57 368v-4.8 M224.94 256.2v2.6 M224.94 368v-2.6 M235.31 256.2v2.6 M235.31 368v-2.6 M245.69 256.2v2.6 M245.69 368v-2.6 M256.06 256.2v2.6 M256.06 368v-2.6 M266.43 256.2v4.8 M266.43 368v-4.8 M276.8 256.2v2.6 M276.8 368v-2.6 M287.17 256.2v2.6 M287.17 368v-2.6 M297.54 256.2v2.6 M297.54 368v-2.6 M307.91 256.2v2.6 M307.91 368v-2.6 M318.29 256.2v4.8 M318.29 368v-4.8 M328.66 256.2v2.6 M328.66 368v-2.6 M339.03 256.2v2.6 M339.03 368v-2.6 M349.4 256.2v2.6 M349.4 368v-2.6 M359.77 256.2v2.6 M359.77 368v-2.6 M370.14 256.2v4.8 M370.14 368v-4.8 M380.51 256.2v2.6 M380.51 368v-2.6 M390.89 256.2v2.6 M390.89 368v-2.6 M401.26 256.2v2.6 M401.26 368v-2.6 M411.63 256.2v2.6 M411.63 368v-2.6" stroke-width="1.7"/>
<path d="M59 362.07h4.8 M422 362.07h-4.8 M59 356.5h9.5 M422 356.5h-9.5 M59 350.92h4.8 M422 350.92h-4.8 M59 345.35h4.8 M422 345.35h-4.8 M59 339.77h4.8 M422 339.77h-4.8 M59 334.2h9.5 M422 334.2h-9.5 M59 328.62h4.8 M422 328.62h-4.8 M59 323.05h4.8 M422 323.05h-4.8 M59 317.47h4.8 M422 317.47h-4.8 M59 311.9h9.5 M422 311.9h-9.5 M59 306.32h4.8 M422 306.32h-4.8 M59 300.75h4.8 M422 300.75h-4.8 M59 295.18h4.8 M422 295.18h-4.8 M59 289.6h9.5 M422 289.6h-9.5 M59 284.02h4.8 M422 284.02h-4.8 M59 278.45h4.8 M422 278.45h-4.8 M59 272.87h4.8 M422 272.87h-4.8 M59 267.3h9.5 M422 267.3h-9.5 M59 261.72h4.8 M422 261.72h-4.8" stroke-width="1.8"/>
</g>
<g font-family='"Liberation Sans", Arial, Helvetica, sans-serif' fill="#000" stroke="#000" stroke-width="0.22">
<text x="56.6" y="248.65" font-size="16.6" text-anchor="end">1</text>
<text x="54.4" y="215.3" font-size="16.6" text-anchor="end">10</text>
<text x="49.0" y="183.25" font-size="16.6" text-anchor="end">10</text>
<text x="48.7" y="176.65" font-size="10.8">2</text>
<text x="49.0" y="150.4" font-size="16.6" text-anchor="end">10</text>
<text x="48.7" y="143.8" font-size="10.8">3</text>
<text x="49.0" y="117.55" font-size="16.6" text-anchor="end">10</text>
<text x="48.7" y="110.95" font-size="10.8">4</text>
<text x="49.0" y="84.7" font-size="16.6" text-anchor="end">10</text>
<text x="48.7" y="78.1" font-size="10.8">5</text>
<text x="49.0" y="51.85" font-size="16.6" text-anchor="end">10</text>
<text x="48.7" y="45.25" font-size="10.8">6</text>
<text x="49.0" y="19" font-size="16.6" text-anchor="end">10</text>
<text x="48.7" y="12.4" font-size="10.8">7</text>
<text x="56.5" y="273.3" font-size="16.6" text-anchor="end">1.4</text>
<text x="56.5" y="295.6" font-size="16.6" text-anchor="end">1.2</text>
<text x="58.0" y="317.9" font-size="16.6" text-anchor="end">1</text>
<text x="56.5" y="340.2" font-size="16.6" text-anchor="end">0.8</text>
<text x="56.5" y="362.5" font-size="16.6" text-anchor="end">0.6</text>
<text x="59" y="388.7" font-size="16.6" text-anchor="middle">0</text>
<text x="110.86" y="388.7" font-size="16.6" text-anchor="middle">500</text>
<text x="162.71" y="388.7" font-size="16.6" text-anchor="middle">1000</text>
<text x="214.57" y="388.7" font-size="16.6" text-anchor="middle">1500</text>
<text x="266.43" y="388.7" font-size="16.6" text-anchor="middle">2000</text>
<text x="318.29" y="388.7" font-size="16.6" text-anchor="middle">2500</text>
<text x="370.14" y="388.7" font-size="16.6" text-anchor="middle">3000</text>
<text x="422" y="388.7" font-size="16.6" text-anchor="middle">3500</text>
<text transform="translate(17.7,5.4) rotate(-90)" font-size="21.2" text-anchor="end">Events</text>
<text transform="translate(19.1,252.8) rotate(-90)" font-size="21.5" text-anchor="end">Data/MC</text>
<text x="430.8" y="411.4" font-size="18.9" text-anchor="end">m<tspan font-size="12.8" dy="5.2">eff</tspan><tspan dy="-5.2"> [GeV]</tspan></text>
<path d="M78.7 37l1.1 -0.7l1.2 7.4" fill="none" stroke="#000" stroke-width="1.7" stroke-linejoin="bevel"/><path d="M80.9 44.2l1.5 -11.3h7.8" fill="none" stroke="#000" stroke-width="1.25"/>
<text x="84" y="43.4" font-size="11.9" textLength="106.4" lengthAdjust="spacingAndGlyphs">s = 13 TeV, 36.1 fb</text>
<text x="190.9" y="38" font-size="8.4">-1</text>
<text x="77.2" y="59.6" font-size="11.9" textLength="61.6" lengthAdjust="spacingAndGlyphs">≥4j, ≥1b, 1l</text>
<text x="78" y="75.6" font-size="11.9" textLength="140" lengthAdjust="spacingAndGlyphs">MET&lt;20, MET+MTW&lt;60</text>
<path d="M241.6 28.3H257.6" stroke="#000" stroke-width="1.4"/><circle cx="249.6" cy="28.3" r="2.9"/>
<text transform="translate(261.2,29.55) scale(1.09,1)" font-size="9.45">Data</text>
<text transform="translate(398,29.55) scale(1.09,1)" font-size="9.45" text-anchor="end">103981</text>
<rect x="242" y="33.16" width="15.2" height="7.2" fill="#ffffff" stroke="#000" stroke-width="1.5"/>
<text transform="translate(261.2,40.76) scale(1.09,1)" font-size="9.45">tt+light-jets</text>
<path d="M263.8 32.06h2.4" stroke="#000" stroke-width="1"/>
<text transform="translate(398,40.76) scale(1.09,1)" font-size="9.45" text-anchor="end">55266.09</text>
<rect x="242" y="44.37" width="15.2" height="7.2" fill="#b8c4ff" stroke="#000" stroke-width="1.5"/>
<text transform="translate(261.2,51.97) scale(1.09,1)" font-size="9.45">tt+≥1c</text>
<path d="M263.8 43.27h2.4" stroke="#000" stroke-width="1"/>
<text transform="translate(398,51.97) scale(1.09,1)" font-size="9.45" text-anchor="end">5857.16</text>
<rect x="242" y="55.58" width="15.2" height="7.2" fill="#4a5cff" stroke="#000" stroke-width="1.5"/>
<text transform="translate(261.2,63.18) scale(1.09,1)" font-size="9.45">tt+≥1b</text>
<path d="M263.8 54.48h2.4" stroke="#000" stroke-width="1"/>
<text transform="translate(398,63.18) scale(1.09,1)" font-size="9.45" text-anchor="end">2226.45</text>
<rect x="242" y="66.79" width="15.2" height="7.2" fill="#45f5ad" stroke="#000" stroke-width="1.5"/>
<text transform="translate(261.2,74.39) scale(1.09,1)" font-size="9.45">single top</text>
<text transform="translate(398,74.39) scale(1.09,1)" font-size="9.45" text-anchor="end">4447.40</text>
<rect x="242" y="78" width="15.2" height="7.2" fill="#1e6a06" stroke="#000" stroke-width="1.5"/>
<text transform="translate(261.2,85.6) scale(1.09,1)" font-size="9.45">W+jets</text>
<text transform="translate(398,85.6) scale(1.09,1)" font-size="9.45" text-anchor="end">13820.28</text>
<rect x="242" y="89.21" width="15.2" height="7.2" fill="#30c010" stroke="#000" stroke-width="1.5"/>
<text transform="translate(261.2,96.81) scale(1.09,1)" font-size="9.45">Z+jets</text>
<text transform="translate(398,96.81) scale(1.09,1)" font-size="9.45" text-anchor="end">3985.38</text>
<rect x="242" y="100.42" width="15.2" height="7.2" fill="#50fa30" stroke="#000" stroke-width="1.5"/>
<text transform="translate(261.2,108.02) scale(1.09,1)" font-size="9.45">diboson</text>
<text transform="translate(398,108.02) scale(1.09,1)" font-size="9.45" text-anchor="end">429.19</text>
<rect x="242" y="111.63" width="15.2" height="7.2" fill="#22c084" stroke="#000" stroke-width="1.5"/>
<text transform="translate(261.2,119.23) scale(1.09,1)" font-size="9.45">tt + X</text>
<text transform="translate(398,119.23) scale(1.09,1)" font-size="9.45" text-anchor="end">221.96</text>
<rect x="242" y="122.84" width="15.2" height="7.2" fill="#cacaca" stroke="#000" stroke-width="1.5"/>
<text transform="translate(261.2,130.44) scale(1.09,1)" font-size="9.45">QCD fake</text>
<text transform="translate(398,130.44) scale(1.09,1)" font-size="9.45" text-anchor="end">14887.37</text>
<text transform="translate(261.2,141.65) scale(1.09,1)" font-size="9.45">Total bg</text>
<text transform="translate(398,141.65) scale(1.09,1)" font-size="9.45" text-anchor="end">101141.30</text>
</g>
</g>
<g font-family='"Liberation Serif", "Times New Roman", Times, serif' fill="#000" stroke="#000" stroke-width="0.3"><text transform="translate(609.3,441.1) scale(1.04,1)" font-size="30.0">(b)</text><text transform="translate(654.6,441.1) scale(1.04,1)" font-size="30.0" font-style="italic">m</text><text transform="translate(677.4,447.4) scale(1.04,1)" font-size="24.0" letter-spacing="0.7">eff</text><text transform="translate(715.6,441.1) scale(1.04,1)" font-size="30.0">in</text><text transform="translate(748.4,441.1) scale(1.04,1)" font-size="30.0" font-style="italic">mu</text></g>
<g transform="translate(918,0)">
<g stroke="#000" stroke-width="1.85" stroke-linejoin="miter">
<path d="M66.26 241.5 V97.3 H73.52 V93.8 H80.78 V96.7 H88.04 V105.9 H95.3 V114 H102.56 V122.7 H109.82 V131.4 H117.08 V138.3 H124.34 V145.2 H131.6 V151.6 H138.86 V157.4 H146.12 V164.9 H153.38 V167.8 H160.64 V173.6 H167.9 V180.5 H175.16 V182.8 H182.42 V188.9 H189.68 V195.9 H196.94 V190.2 H204.2 V197.4 H211.46 V204.1 H218.72 V205.2 H225.98 V203.1 H233.24 V214.9 H240.5 V214.9 H247.76 V241.5 H255.02 V216.9 H262.28 V241.5 H269.54 V241.5 H276.8 V241.5 H284.06 V217 H291.32 V241.5 H298.58 V226.5 H305.84 V226.5 H313.1 V227.2 H320.36 V227.2 H327.62 V241.5" fill="#ffffff"/>
<path d="M66.26 241.5 V100 H73.52 V98.7 H80.78 V102.7 H88.04 V112.6 H95.3 V121.2 H102.56 V129.3 H109.82 V137.4 H117.08 V142.6 H124.34 V149 H131.6 V154.7 H138.86 V159.9 H146.12 V166.9 H153.38 V169.2 H160.64 V175.5 H167.9 V181.9 H175.16 V184.2 H182.42 V190 H189.68 V197.5 H196.94 V191.5 H204.2 V198 H211.46 V204.6 H218.72 V215.6 H225.98 V203.6 H233.24 V215.5 H240.5 V215.5 H247.76 V241.5 H255.02 V216.9 H262.28 V241.5 H269.54 V241.5 H276.8 V241.5 H284.06 V217 H291.32 V241.5 H298.58 V226.5 H305.84 V226.5 H313.1 V227.2 H320.36 V227.2 H327.62 V241.5" fill="#b8c4ff"/>
<path d="M66.26 241.5 V100.62 H73.52 V99.84 H80.78 V103.84 H88.04 V114.05 H95.3 V122.6 H102.56 V130.7 H109.82 V138.8 H117.08 V143.81 H124.34 V150.2 H131.6 V155.84 H138.86 V160.74 H146.12 V167.79 H153.38 V169.71 H160.64 V176.34 H167.9 V182.54 H175.16 V184.77 H182.42 V190.42 H189.68 V198.37 H196.94 V192 H204.2 V198.35 H211.46 V204.91 H218.72 V216.68 H225.98 V203.84 H233.24 V215.8 H240.5 V215.8 H247.76 V241.5 H255.02 V216.9 H262.28 V241.5 H269.54 V241.5 H276.8 V241.5 H284.06 V217 H291.32 V241.5 H298.58 V226.5 H305.84 V226.5 H313.1 V227.2 H320.36 V227.2 H327.62 V241.5" fill="#4a5cff"/>
<path d="M66.26 241.5 V101.18 H73.52 V100.88 H80.78 V104.88 H88.04 V115.37 H95.3 V123.87 H102.56 V131.97 H109.82 V140.07 H117.08 V144.91 H124.34 V151.29 H131.6 V156.88 H138.86 V161.5 H146.12 V168.6 H153.38 V170.17 H160.64 V177.1 H167.9 V183.12 H175.16 V185.29 H182.42 V190.8 H189.68 V199.16 H196.94 V192.44 H204.2 V198.67 H211.46 V205.19 H218.72 V217.66 H225.98 V204.06 H233.24 V216.07 H240.5 V216.07 H247.76 V241.5 H255.02 V216.9 H262.28 V241.5 H269.54 V241.5 H276.8 V241.5 H284.06 V217 H291.32 V241.5 H298.58 V226.5 H305.84 V226.5 H313.1 V227.2 H320.36 V227.2 H327.62 V241.5" fill="#45f5ad"/>
<path d="M66.26 241.5 V101.79 H73.52 V102.03 H80.78 V106.03 H88.04 V116.82 H95.3 V125.26 H102.56 V133.36 H109.82 V141.46 H117.08 V146.12 H124.34 V152.49 H131.6 V158.03 H138.86 V162.33 H146.12 V169.49 H153.38 V170.67 H160.64 V177.93 H167.9 V183.76 H175.16 V185.86 H182.42 V191.22 H189.68 V200.03 H196.94 V192.94 H204.2 V199.02 H211.46 V205.5 H218.72 V218.74 H225.98 V204.3 H233.24 V216.36 H240.5 V216.36 H247.76 V241.5 H255.02 V216.9 H262.28 V241.5 H269.54 V241.5 H276.8 V241.5 H284.06 V217 H291.32 V241.5 H298.58 V226.5 H305.84 V226.5 H313.1 V227.2 H320.36 V227.2 H327.62 V241.5" fill="#1e6a06"/>
<path d="M66.26 241.5 V103.58 H73.52 V105.36 H80.78 V109.36 H88.04 V121.05 H95.3 V129.33 H102.56 V137.43 H109.82 V145.53 H117.08 V149.64 H124.34 V155.98 H131.6 V161.36 H138.86 V164.76 H146.12 V172.08 H153.38 V172.14 H160.64 V180.36 H167.9 V185.61 H175.16 V187.53 H182.42 V192.43 H189.68 V202.56 H196.94 V194.38 H204.2 V200.05 H211.46 V206.39 H218.72 V221.87 H225.98 V204.9 H233.24 V217.23 H240.5 V217.23 H247.76 V241.5 H255.02 V216.9 H262.28 V241.5 H269.54 V241.5 H276.8 V241.5 H284.06 V217 H291.32 V241.5 H298.58 V226.5 H305.84 V226.5 H313.1 V227.2 H320.36 V227.2 H327.62 V241.5" fill="#30c010"/>
<path d="M66.26 241.5 V104.7 H73.52 V108.2 H80.78 V112.2 H88.04 V124.74 H95.3 V132.88 H102.56 V140.98 H109.82 V149.08 H117.08 V152.7 H124.34 V159 H131.6 V164.2 H138.86 V166.6 H146.12 V174.1 H153.38 V172.9 H160.64 V182.2 H167.9 V186.8 H175.16 V188.5 H182.42 V192.9 H189.68 V204.5 H196.94 V195.1 H204.2 V200.3 H211.46 V206.5 H218.72 V224.5 H225.98 V204.9 H233.24 V217.3 H240.5 V217.3 H247.76 V241.5 H255.02 V216.9 H262.28 V241.5 H269.54 V241.5 H276.8 V241.5 H284.06 V217 H291.32 V241.5 H298.58 V226.5 H305.84 V226.5 H313.1 V227.2 H320.36 V227.2 H327.62 V241.5" fill="#50fa30"/>
<path d="M66.26 241.5 V104.7 H73.52 V108.2 H80.78 V112.2 H88.04 V124.9 H95.3 V133 H102.56 V141.1 H109.82 V149.2 H117.08 V152.7 H124.34 V159 H131.6 V164.2 H138.86 V166.6 H146.12 V174.1 H153.38 V172.9 H160.64 V182.2 H167.9 V186.8 H175.16 V188.5 H182.42 V192.9 H189.68 V204.5 H196.94 V195.1 H204.2 V200.3 H211.46 V206.5 H218.72 V224.5 H225.98 V204.9 H233.24 V217.3 H240.5 V217.3 H247.76 V241.5 H255.02 V216.9 H262.28 V241.5 H269.54 V241.5 H276.8 V241.5 H284.06 V217 H291.32 V241.5 H298.58 V226.5 H305.84 V226.5 H313.1 V227.2 H320.36 V227.2 H327.62 V241.5" fill="#22c084"/>
<path d="M66.26 241.5 V104.7 H73.52 V108.2 H80.78 V112.2 H88.04 V124.9 H95.3 V133 H102.56 V141.1 H109.82 V149.2 H117.08 V152.7 H124.34 V159 H131.6 V164.2 H138.86 V166.6 H146.12 V174.1 H153.38 V172.9 H160.64 V182.2 H167.9 V186.8 H175.16 V188.5 H182.42 V192.9 H189.68 V204.5 H196.94 V195.1 H204.2 V200.3 H211.46 V206.5 H218.72 V224.5 H225.98 V204.9 H233.24 V217.3 H240.5 V217.3 H247.76 V241.5 H255.02 V216.9 H262.28 V241.5 H269.54 V241.5 H276.8 V241.5 H284.06 V217 H291.32 V241.5 H298.58 V226.5 H305.84 V226.5 H313.1 V227.2 H320.36 V227.2 H327.62 V241.5" fill="#cacaca"/>
</g>
<g stroke="#000" stroke-width="1.5" fill="#000">
<path d="M66.29 95.2H73.49"/>
<circle cx="69.89" cy="95.2" r="2.9" stroke="none"/>
<path d="M73.55 91.5H80.75"/>
<circle cx="77.15" cy="91.5" r="2.9" stroke="none"/>
<path d="M80.81 96.4H88.01"/>
<circle cx="84.41" cy="96.4" r="2.9" stroke="none"/>
<path d="M88.07 105.6H95.27"/>
<circle cx="91.67" cy="105.6" r="2.9" stroke="none"/>
<path d="M95.33 114.3H102.53"/>
<circle cx="98.93" cy="114.3" r="2.9" stroke="none"/>
<path d="M102.59 122.6H109.79"/>
<circle cx="106.19" cy="122.6" r="2.9" stroke="none"/>
<path d="M109.85 131.3H117.05"/>
<circle cx="113.45" cy="131.3" r="2.9" stroke="none"/>
<path d="M117.11 138.2H124.31"/>
<circle cx="120.71" cy="138.2" r="2.9" stroke="none"/>
<path d="M124.37 145.1H131.57"/>
<circle cx="127.97" cy="145.1" r="2.9" stroke="none"/>
<path d="M131.63 151.9H138.83"/>
<circle cx="135.23" cy="151.9" r="2.9" stroke="none"/>
<path d="M142.49 156.91V158.33"/>
<path d="M138.89 157.6H146.09"/>
<circle cx="142.49" cy="157.6" r="2.9" stroke="none"/>
<path d="M149.75 163.72V165.54"/>
<path d="M146.15 164.6H153.35"/>
<circle cx="149.75" cy="164.6" r="2.9" stroke="none"/>
<path d="M157.01 167.78V169.9"/>
<path d="M153.41 168.8H160.61"/>
<circle cx="157.01" cy="168.8" r="2.9" stroke="none"/>
<path d="M164.27 172.59V175.12"/>
<path d="M160.67 173.8H167.87"/>
<circle cx="164.27" cy="173.8" r="2.9" stroke="none"/>
<path d="M171.53 179.17V182.42"/>
<path d="M167.93 180.7H175.13"/>
<circle cx="171.53" cy="180.7" r="2.9" stroke="none"/>
<path d="M178.79 181.91V185.52"/>
<path d="M175.19 183.6H182.39"/>
<circle cx="178.79" cy="183.6" r="2.9" stroke="none"/>
<path d="M186.05 187.91V192.45"/>
<path d="M182.45 190H189.65"/>
<circle cx="186.05" cy="190" r="2.9" stroke="none"/>
<path d="M193.31 193.73V199.44"/>
<path d="M189.71 196.3H196.91"/>
<circle cx="193.31" cy="196.3" r="2.9" stroke="none"/>
<path d="M200.57 201.88V209.84"/>
<path d="M196.97 205.3H204.17"/>
<circle cx="200.57" cy="205.3" r="2.9" stroke="none"/>
<path d="M207.83 200.54V208.06"/>
<path d="M204.23 203.8H211.43"/>
<circle cx="207.83" cy="203.8" r="2.9" stroke="none"/>
<path d="M215.09 196.29V202.61"/>
<path d="M211.49 199.1H218.69"/>
<circle cx="215.09" cy="199.1" r="2.9" stroke="none"/>
<path d="M222.35 203.3V211.75"/>
<path d="M218.75 206.9H225.95"/>
<circle cx="222.35" cy="206.9" r="2.9" stroke="none"/>
<path d="M229.61 206.03V215.55"/>
<path d="M226.01 210H233.21"/>
<circle cx="229.61" cy="210" r="2.9" stroke="none"/>
<path d="M236.87 216.14V231.43"/>
<path d="M233.27 221.8H240.47"/>
<circle cx="236.87" cy="221.8" r="2.9" stroke="none"/>
<path d="M244.13 210.03V221.41"/>
<path d="M240.53 214.6H247.73"/>
<circle cx="244.13" cy="214.6" r="2.9" stroke="none"/>
<path d="M251.39 213.53V226.96"/>
<path d="M247.79 218.7H254.99"/>
<circle cx="251.39" cy="218.7" r="2.9" stroke="none"/>
<path d="M258.65 224.12V241.5"/>
<path d="M255.05 231.6H262.25"/>
<circle cx="258.65" cy="231.6" r="2.9" stroke="none"/>
<path d="M265.91 219.52V237.89"/>
<path d="M262.31 225.9H269.51"/>
<circle cx="265.91" cy="225.9" r="2.9" stroke="none"/>
<path d="M273.17 213.53V226.96"/>
<path d="M269.57 218.7H276.77"/>
<circle cx="273.17" cy="218.7" r="2.9" stroke="none"/>
<path d="M280.43 224.12V241.5"/>
<path d="M276.83 231.6H284.03"/>
<circle cx="280.43" cy="231.6" r="2.9" stroke="none"/>
<path d="M294.95 231.76V241.5"/>
<path d="M291.35 241.5H298.55"/>
<circle cx="294.95" cy="241.5" r="2.9" stroke="none"/>
<path d="M302.21 231.76V241.5"/>
<path d="M298.61 241.5H305.81"/>
<circle cx="302.21" cy="241.5" r="2.9" stroke="none"/>
<path d="M316.73 231.76V241.5"/>
<path d="M313.13 241.5H320.33"/>
<circle cx="316.73" cy="241.5" r="2.9" stroke="none"/>
<path d="M323.99 231.76V241.5"/>
<path d="M320.39 241.5H327.59"/>
<circle cx="323.99" cy="241.5" r="2.9" stroke="none"/>
<path d="M360.29 231.76V241.5"/>
<path d="M356.69 241.5H363.89"/>
<circle cx="360.29" cy="241.5" r="2.9" stroke="none"/>
<path d="M396.59 231.76V241.5"/>
<path d="M392.99 241.5H400.19"/>
<circle cx="396.59" cy="241.5" r="2.9" stroke="none"/>
</g>
<g stroke="#000" fill="none" stroke-width="2">
<rect x="59" y="4" width="363" height="237.5" stroke-width="2.2"/>
<path d="M59 231.78h6.4 M422 231.78h-6.4 M59 226.08h6.4 M422 226.08h-6.4 M59 222.04h6.4 M422 222.04h-6.4 M59 218.9h6.4 M422 218.9h-6.4 M59 216.34h6.4 M422 216.34h-6.4 M59 214.17h6.4 M422 214.17h-6.4 M59 212.3h6.4 M422 212.3h-6.4 M59 210.64h6.4 M422 210.64h-6.4 M59 209.16h12.8 M422 209.16h-12.8 M59 199.42h6.4 M422 199.42h-6.4 M59 193.72h6.4 M422 193.72h-6.4 M59 189.68h6.4 M422 189.68h-6.4 M59 186.54h6.4 M422 186.54h-6.4 M59 183.98h6.4 M422 183.98h-6.4 M59 181.81h6.4 M422 181.81h-6.4 M59 179.94h6.4 M422 179.94h-6.4 M59 178.28h6.4 M422 178.28h-6.4 M59 176.8h12.8 M422 176.8h-12.8 M59 167.06h6.4 M422 167.06h-6.4 M59 161.36h6.4 M422 161.36h-6.4 M59 157.32h6.4 M422 157.32h-6.4 M59 154.18h6.4 M422 154.18h-6.4 M59 151.62h6.4 M422 151.62h-6.4 M59 149.45h6.4 M422 149.45h-6.4 M59 147.58h6.4 M422 147.58h-6.4 M59 145.92h6.4 M422 145.92h-6.4 M59 144.44h12.8 M422 144.44h-12.8 M59 134.7h6.4 M422 134.7h-6.4 M59 129h6.4 M422 129h-6.4 M59 124.96h6.4 M422 124.96h-6.4 M59 121.82h6.4 M422 121.82h-6.4 M59 119.26h6.4 M422 119.26h-6.4 M59 117.09h6.4 M422 117.09h-6.4 M59 115.22h6.4 M422 115.22h-6.4 M59 113.56h6.4 M422 113.56h-6.4 M59 112.08h12.8 M422 112.08h-12.8 M59 102.34h6.4 M422 102.34h-6.4 M59 96.64h6.4 M422 96.64h-6.4 M59 92.6h6.4 M422 92.6h-6.4 M59 89.46h6.4 M422 89.46h-6.4 M59 86.9h6.4 M422 86.9h-6.4 M59 84.73h6.4 M422 84.73h-6.4 M59 82.86h6.4 M422 82.86h-6.4 M59 81.2h6.4 M422 81.2h-6.4 M59 79.72h12.8 M422 79.72h-12.8 M59 69.98h6.4 M422 69.98h-6.4 M59 64.28h6.4 M422 64.28h-6.4 M59 60.24h6.4 M422 60.24h-6.4 M59 57.1h6.4 M422 57.1h-6.4 M59 54.54h6.4 M422 54.54h-6.4 M59 52.37h6.4 M422 52.37h-6.4 M59 50.5h6.4 M422 50.5h-6.4 M59 48.84h6.4 M422 48.84h-6.4 M59 47.36h12.8 M422 47.36h-12.8 M59 37.62h6.4 M422 37.62h-6.4 M59 31.92h6.4 M422 31.92h-6.4 M59 27.88h6.4 M422 27.88h-6.4 M59 24.74h6.4 M422 24.74h-6.4 M59 22.18h6.4 M422 22.18h-6.4 M59 20.01h6.4 M422 20.01h-6.4 M59 18.14h6.4 M422 18.14h-6.4 M59 16.48h6.4 M422 16.48h-6.4 M59 15h12.8 M422 15h-12.8 M59 5.26h6.4 M422 5.26h-6.4"/>
<path d="M66.26 4v3.6 M66.26 241.5v-3.6 M73.52 4v3.6 M73.52 241.5v-3.6 M80.78 4v3.6 M80.78 241.5v-3.6 M88.04 4v3.6 M88.04 241.5v-3.6 M95.3 4v7 M95.3 241.5v-7 M102.56 4v3.6 M102.56 241.5v-3.6 M109.82 4v3.6 M109.82 241.5v-3.6 M117.08 4v3.6 M117.08 241.5v-3.6 M124.34 4v3.6 M124.34 241.5v-3.6 M131.6 4v7 M131.6 241.5v-7 M138.86 4v3.6 M138.86 241.5v-3.6 M146.12 4v3.6 M146.12 241.5v-3.6 M153.38 4v3.6 M153.38 241.5v-3.6 M160.64 4v3.6 M160.64 241.5v-3.6 M167.9 4v7 M167.9 241.5v-7 M175.16 4v3.6 M175.16 241.5v-3.6 M182.42 4v3.6 M182.42 241.5v-3.6 M189.68 4v3.6 M189.68 241.5v-3.6 M196.94 4v3.6 M196.94 241.5v-3.6 M204.2 4v7 M204.2 241.5v-7 M211.46 4v3.6 M211.46 241.5v-3.6 M218.72 4v3.6 M218.72 241.5v-3.6 M225.98 4v3.6 M225.98 241.5v-3.6 M233.24 4v3.6 M233.24 241.5v-3.6 M240.5 4v7 M240.5 241.5v-7 M247.76 4v3.6 M247.76 241.5v-3.6 M255.02 4v3.6 M255.02 241.5v-3.6 M262.28 4v3.6 M262.28 241.5v-3.6 M269.54 4v3.6 M269.54 241.5v-3.6 M276.8 4v7 M276.8 241.5v-7 M284.06 4v3.6 M284.06 241.5v-3.6 M291.32 4v3.6 M291.32 241.5v-3.6 M298.58 4v3.6 M298.58 241.5v-3.6 M305.84 4v3.6 M305.84 241.5v-3.6 M313.1 4v7 M313.1 241.5v-7 M320.36 4v3.6 M320.36 241.5v-3.6 M327.62 4v3.6 M327.62 241.5v-3.6 M334.88 4v3.6 M334.88 241.5v-3.6 M342.14 4v3.6 M342.14 241.5v-3.6 M349.4 4v7 M349.4 241.5v-7 M356.66 4v3.6 M356.66 241.5v-3.6 M363.92 4v3.6 M363.92 241.5v-3.6 M371.18 4v3.6 M371.18 241.5v-3.6 M378.44 4v3.6 M378.44 241.5v-3.6 M385.7 4v7 M385.7 241.5v-7 M392.96 4v3.6 M392.96 241.5v-3.6 M400.22 4v3.6 M400.22 241.5v-3.6 M407.48 4v3.6 M407.48 241.5v-3.6 M414.74 4v3.6 M414.74 241.5v-3.6" stroke-width="1.7"/>
</g>
<g stroke="#000" fill="none" stroke-width="2">
<path d="M59 311.9H422" stroke-dasharray="2.9 1.9" stroke-width="1.9"/>
</g>
<g stroke="#000" stroke-width="1.5" fill="#000">
<path d="M66.29 312.3H73.49"/>
<circle cx="69.89" cy="312.3" r="2.9" stroke="none"/>
<path d="M73.55 313.2H80.75"/>
<circle cx="77.15" cy="313.2" r="2.9" stroke="none"/>
<path d="M80.81 318.6H88.01"/>
<circle cx="84.41" cy="318.6" r="2.9" stroke="none"/>
<path d="M88.07 314.8H95.27"/>
<circle cx="91.67" cy="314.8" r="2.9" stroke="none"/>
<path d="M95.33 316.2H102.53"/>
<circle cx="98.93" cy="316.2" r="2.9" stroke="none"/>
<path d="M102.59 316.2H109.79"/>
<circle cx="106.19" cy="316.2" r="2.9" stroke="none"/>
<path d="M113.45 304.8V310.8"/>
<path d="M109.85 307.8H117.05"/>
<circle cx="113.45" cy="307.8" r="2.9" stroke="none"/>
<path d="M120.71 309.9V321.1"/>
<path d="M117.11 315.5H124.31"/>
<circle cx="120.71" cy="315.5" r="2.9" stroke="none"/>
<path d="M127.97 304.3V320.3"/>
<path d="M124.37 312.3H131.57"/>
<circle cx="127.97" cy="312.3" r="2.9" stroke="none"/>
<path d="M135.23 307.1V324.9"/>
<path d="M131.63 316H138.83"/>
<circle cx="135.23" cy="316" r="2.9" stroke="none"/>
<path d="M142.49 305.6V331.6"/>
<path d="M138.89 318.6H146.09"/>
<circle cx="142.49" cy="318.6" r="2.9" stroke="none"/>
<path d="M149.75 308.5V332.3"/>
<path d="M146.15 320.4H153.35"/>
<circle cx="149.75" cy="320.4" r="2.9" stroke="none"/>
<path d="M157.01 319.4V350.8"/>
<path d="M153.41 335.1H160.61"/>
<circle cx="157.01" cy="335.1" r="2.9" stroke="none"/>
<path d="M164.27 286.1V324.5"/>
<path d="M160.67 305.3H167.87"/>
<circle cx="164.27" cy="305.3" r="2.9" stroke="none"/>
<path d="M171.53 314.6V358"/>
<path d="M167.93 336.3H175.13"/>
<circle cx="171.53" cy="336.3" r="2.9" stroke="none"/>
<path d="M178.79 326.2V368"/>
<path d="M175.19 348.6H182.39"/>
<circle cx="178.79" cy="348.6" r="2.9" stroke="none"/>
<path d="M186.05 280.5V363.7"/>
<path d="M182.45 322.1H189.65"/>
<circle cx="186.05" cy="322.1" r="2.9" stroke="none"/>
<path d="M193.31 265.1V350.5"/>
<path d="M189.71 307.8H196.91"/>
<circle cx="193.31" cy="307.8" r="2.9" stroke="none"/>
<path d="M207.83 322V368"/>
<path d="M204.23 351.7H211.43"/>
<circle cx="207.83" cy="351.7" r="2.9" stroke="none"/>
<path d="M215.09 256.2V368"/>
<path d="M211.49 274.5H218.69"/>
<circle cx="215.09" cy="274.5" r="2.9" stroke="none"/>
<path d="M229.61 322.7V368"/>
<path d="M226.01 358H233.21"/>
<circle cx="229.61" cy="358" r="2.9" stroke="none"/>
<path d="M236.87 300.1V368"/>
<path d="M233.27 355.6H240.47"/>
<circle cx="236.87" cy="355.6" r="2.9" stroke="none"/>
<path d="M244.13 256.2V368"/>
<path d="M240.53 299H247.73"/>
<circle cx="244.13" cy="299" r="2.9" stroke="none"/>
</g>
<g stroke="#000" fill="none" stroke-width="2">
<rect x="59" y="256.2" width="363" height="111.8" stroke-width="2.2"/>
<path d="M66.26 256.2v2.6 M66.26 368v-2.6 M73.52 256.2v2.6 M73.52 368v-2.6 M80.78 256.2v2.6 M80.78 368v-2.6 M88.04 256.2v2.6 M88.04 368v-2.6 M95.3 256.2v4.8 M95.3 368v-4.8 M102.56 256.2v2.6 M102.56 368v-2.6 M109.82 256.2v2.6 M109.82 368v-2.6 M117.08 256.2v2.6 M117.08 368v-2.6 M124.34 256.2v2.6 M124.34 368v-2.6 M131.6 256.2v4.8 M131.6 368v-4.8 M138.86 256.2v2.6 M138.86 368v-2.6 M146.12 256.2v2.6 M146.12 368v-2.6 M153.38 256.2v2.6 M153.38 368v-2.6 M160.64 256.2v2.6 M160.64 368v-2.6 M167.9 256.2v4.8 M167.9 368v-4.8 M175.16 256.2v2.6 M175.16 368v-2.6 M182.42 256.2v2.6 M182.42 368v-2.6 M189.68 256.2v2.6 M189.68 368v-2.6 M196.94 256.2v2.6 M196.94 368v-2.6 M204.2 256.2v4.8 M204.2 368v-4.8 M211.46 256.2v2.6 M211.46 368v-2.6 M218.72 256.2v2.6 M218.72 368v-2.6 M225.98 256.2v2.6 M225.98 368v-2.6 M233.24 256.2v2.6 M233.24 368v-2.6 M240.5 256.2v4.8 M240.5 368v-4.8 M247.76 256.2v2.6 M247.76 368v-2.6 M255.02 256.2v2.6 M255.02 368v-2.6 M262.28 256.2v2.6 M262.28 368v-2.6 M269.54 256.2v2.6 M269.54 368v-2.6 M276.8 256.2v4.8 M276.8 368v-4.8 M284.06 256.2v2.6 M284.06 368v-2.6 M291.32 256.2v2.6 M291.32 368v-2.6 M298.58 256.2v2.6 M298.58 368v-2.6 M305.84 256.2v2.6 M305.84 368v-2.6 M313.1 256.2v4.8 M313.1 368v-4.8 M320.36 256.2v2.6 M320.36 368v-2.6 M327.62 256.2v2.6 M327.62 368v-2.6 M334.88 256.2v2.6 M334.88 368v-2.6 M342.14 256.2v2.6 M342.14 368v-2.6 M349.4 256.2v4.8 M349.4 368v-4.8 M356.66 256.2v2.6 M356.66 368v-2.6 M363.92 256.2v2.6 M363.92 368v-2.6 M371.18 256.2v2.6 M371.18 368v-2.6 M378.44 256.2v2.6 M378.44 368v-2.6 M385.7 256.2v4.8 M385.7 368v-4.8 M392.96 256.2v2.6 M392.96 368v-2.6 M400.22 256.2v2.6 M400.22 368v-2.6 M407.48 256.2v2.6 M407.48 368v-2.6 M414.74 256.2v2.6 M414.74 368v-2.6" stroke-width="1.7"/>
<path d="M59 362.07h4.8 M422 362.07h-4.8 M59 356.5h9.5 M422 356.5h-9.5 M59 350.92h4.8 M422 350.92h-4.8 M59 345.35h4.8 M422 345.35h-4.8 M59 339.77h4.8 M422 339.77h-4.8 M59 334.2h9.5 M422 334.2h-9.5 M59 328.62h4.8 M422 328.62h-4.8 M59 323.05h4.8 M422 323.05h-4.8 M59 317.47h4.8 M422 317.47h-4.8 M59 311.9h9.5 M422 311.9h-9.5 M59 306.32h4.8 M422 306.32h-4.8 M59 300.75h4.8 M422 300.75h-4.8 M59 295.18h4.8 M422 295.18h-4.8 M59 289.6h9.5 M422 289.6h-9.5 M59 284.02h4.8 M422 284.02h-4.8 M59 278.45h4.8 M422 278.45h-4.8 M59 272.87h4.8 M422 272.87h-4.8 M59 267.3h9.5 M422 267.3h-9.5 M59 261.72h4.8 M422 261.72h-4.8" stroke-width="1.8"/>
</g>
<g font-family='"Liberation Sans", Arial, Helvetica, sans-serif' fill="#000" stroke="#000" stroke-width="0.22">
<text x="56.6" y="248.72" font-size="16.6" text-anchor="end">1</text>
<text x="54.4" y="215.86" font-size="16.6" text-anchor="end">10</text>
<text x="49.0" y="184.3" font-size="16.6" text-anchor="end">10</text>
<text x="48.7" y="177.7" font-size="10.8">2</text>
<text x="49.0" y="151.94" font-size="16.6" text-anchor="end">10</text>
<text x="48.7" y="145.34" font-size="10.8">3</text>
<text x="49.0" y="119.58" font-size="16.6" text-anchor="end">10</text>
<text x="48.7" y="112.98" font-size="10.8">4</text>
<text x="49.0" y="87.22" font-size="16.6" text-anchor="end">10</text>
<text x="48.7" y="80.62" font-size="10.8">5</text>
<text x="49.0" y="54.86" font-size="16.6" text-anchor="end">10</text>
<text x="48.7" y="48.26" font-size="10.8">6</text>
<text x="49.0" y="22.5" font-size="16.6" text-anchor="end">10</text>
<text x="48.7" y="15.9" font-size="10.8">7</text>
<text x="56.5" y="273.3" font-size="16.6" text-anchor="end">1.4</text>
<text x="56.5" y="295.6" font-size="16.6" text-anchor="end">1.2</text>
<text x="58.0" y="317.9" font-size="16.6" text-anchor="end">1</text>
<text x="56.5" y="340.2" font-size="16.6" text-anchor="end">0.8</text>
<text x="56.5" y="362.5" font-size="16.6" text-anchor="end">0.6</text>
<text x="59" y="388.7" font-size="16.6" text-anchor="middle">0</text>
<text x="95.3" y="388.7" font-size="16.6" text-anchor="middle">100</text>
<text x="131.6" y="388.7" font-size="16.6" text-anchor="middle">200</text>
<text x="167.9" y="388.7" font-size="16.6" text-anchor="middle">300</text>
<text x="204.2" y="388.7" font-size="16.6" text-anchor="middle">400</text>
<text x="240.5" y="388.7" font-size="16.6" text-anchor="middle">500</text>
<text x="276.8" y="388.7" font-size="16.6" text-anchor="middle">600</text>
<text x="313.1" y="388.7" font-size="16.6" text-anchor="middle">700</text>
<text x="349.4" y="388.7" font-size="16.6" text-anchor="middle">800</text>
<text x="385.7" y="388.7" font-size="16.6" text-anchor="middle">900</text>
<text x="422" y="388.7" font-size="16.6" text-anchor="middle">1000</text>
<text transform="translate(17.7,5.4) rotate(-90)" font-size="21.2" text-anchor="end">Events</text>
<text transform="translate(19.1,252.8) rotate(-90)" font-size="21.5" text-anchor="end">Data/MC</text>
<text x="333.2" y="411.3" font-size="18.9">p</text><text x="344.4" y="402.6" font-size="12">lepton</text><text x="344.1" y="421.8" font-size="12.4">T</text><text x="431" y="411.3" font-size="18.9" text-anchor="end">[GeV]</text>
<path d="M78.7 37l1.1 -0.7l1.2 7.4" fill="none" stroke="#000" stroke-width="1.7" stroke-linejoin="bevel"/><path d="M80.9 44.2l1.5 -11.3h7.8" fill="none" stroke="#000" stroke-width="1.25"/>
<text x="84" y="43.4" font-size="11.9" textLength="106.4" lengthAdjust="spacingAndGlyphs">s = 13 TeV, 36.1 fb</text>
<text x="190.9" y="38" font-size="8.4">-1</text>
<text x="77.2" y="59.6" font-size="11.9" textLength="61.6" lengthAdjust="spacingAndGlyphs">≥4j, ≥1b, 1l</text>
<text x="78" y="75.6" font-size="11.9" textLength="140" lengthAdjust="spacingAndGlyphs">MET&lt;20, MET+MTW&lt;60</text>
<path d="M241.6 28.3H257.6" stroke="#000" stroke-width="1.4"/><circle cx="249.6" cy="28.3" r="2.9"/>
<text transform="translate(261.2,29.55) scale(1.09,1)" font-size="9.45">Data</text>
<text transform="translate(398,29.55) scale(1.09,1)" font-size="9.45" text-anchor="end">141288</text>
<rect x="242" y="33.16" width="15.2" height="7.2" fill="#ffffff" stroke="#000" stroke-width="1.5"/>
<text transform="translate(261.2,40.76) scale(1.09,1)" font-size="9.45">tt+light-jets</text>
<path d="M263.8 32.06h2.4" stroke="#000" stroke-width="1"/>
<text transform="translate(398,40.76) scale(1.09,1)" font-size="9.45" text-anchor="end">57669.09</text>
<rect x="242" y="44.37" width="15.2" height="7.2" fill="#b8c4ff" stroke="#000" stroke-width="1.5"/>
<text transform="translate(261.2,51.97) scale(1.09,1)" font-size="9.45">tt+≥1c</text>
<path d="M263.8 43.27h2.4" stroke="#000" stroke-width="1"/>
<text transform="translate(398,51.97) scale(1.09,1)" font-size="9.45" text-anchor="end">6266.00</text>
<rect x="242" y="55.58" width="15.2" height="7.2" fill="#4a5cff" stroke="#000" stroke-width="1.5"/>
<text transform="translate(261.2,63.18) scale(1.09,1)" font-size="9.45">tt+≥1b</text>
<path d="M263.8 54.48h2.4" stroke="#000" stroke-width="1"/>
<text transform="translate(398,63.18) scale(1.09,1)" font-size="9.45" text-anchor="end">2376.17</text>
<rect x="242" y="66.79" width="15.2" height="7.2" fill="#45f5ad" stroke="#000" stroke-width="1.5"/>
<text transform="translate(261.2,74.39) scale(1.09,1)" font-size="9.45">single top</text>
<text transform="translate(398,74.39) scale(1.09,1)" font-size="9.45" text-anchor="end">4626.83</text>
<rect x="242" y="78" width="15.2" height="7.2" fill="#1e6a06" stroke="#000" stroke-width="1.5"/>
<text transform="translate(261.2,85.6) scale(1.09,1)" font-size="9.45">W+jets</text>
<text transform="translate(398,85.6) scale(1.09,1)" font-size="9.45" text-anchor="end">14013.98</text>
<rect x="242" y="89.21" width="15.2" height="7.2" fill="#30c010" stroke="#000" stroke-width="1.5"/>
<text transform="translate(261.2,96.81) scale(1.09,1)" font-size="9.45">Z+jets</text>
<text transform="translate(398,96.81) scale(1.09,1)" font-size="9.45" text-anchor="end">11993.86</text>
<rect x="242" y="100.42" width="15.2" height="7.2" fill="#50fa30" stroke="#000" stroke-width="1.5"/>
<text transform="translate(261.2,108.02) scale(1.09,1)" font-size="9.45">diboson</text>
<text transform="translate(398,108.02) scale(1.09,1)" font-size="9.45" text-anchor="end">585.54</text>
<rect x="242" y="111.63" width="15.2" height="7.2" fill="#22c084" stroke="#000" stroke-width="1.5"/>
<text transform="translate(261.2,119.23) scale(1.09,1)" font-size="9.45">tt + X</text>
<text transform="translate(398,119.23) scale(1.09,1)" font-size="9.45" text-anchor="end">241.69</text>
<rect x="242" y="122.84" width="15.2" height="7.2" fill="#cacaca" stroke="#000" stroke-width="1.5"/>
<text transform="translate(261.2,130.44) scale(1.09,1)" font-size="9.45">QCD fake</text>
<text transform="translate(398,130.44) scale(1.09,1)" font-size="9.45" text-anchor="end">47181.84</text>
<text transform="translate(261.2,141.65) scale(1.09,1)" font-size="9.45">Total bg</text>
<text transform="translate(398,141.65) scale(1.09,1)" font-size="9.45" text-anchor="end">144955.02</text>
</g>
</g>
<g font-family='"Liberation Serif", "Times New Roman", Times, serif' fill="#000" stroke="#000" stroke-width="0.3"><text transform="translate(1063.4,441.1) scale(1.04,1)" font-size="30.0">(c)</text><text transform="translate(1107.2,441.1) scale(1.04,1)" font-size="30.0">electron</text><text transform="translate(1218.8,441.1) scale(1.04,1)" font-size="30.0" font-style="italic">p</text><text transform="translate(1233.6,447.4) scale(1.04,1)" font-size="24.0">T</text></g>
<g transform="translate(0,488.4)">
<g stroke="#000" stroke-width="1.85" stroke-linejoin="miter">
<path d="M66.26 241.5 V98.6 H73.52 V92.8 H80.78 V100.3 H88.04 V109.6 H95.3 V119.4 H102.56 V128.7 H109.82 V137.9 H117.08 V145.4 H124.34 V154.7 H131.6 V162.8 H138.86 V171.4 H146.12 V178.4 H153.38 V184.7 H160.64 V188.2 H167.9 V196 H175.16 V199.9 H182.42 V207.9 H189.68 V214.1 H196.94 V221.3 H204.2 V224.4 H211.46 V233.1 H218.72 V236.2 H225.98 V234.7 H233.24 V241.5" fill="#ffffff"/>
<path d="M66.26 241.5 V107 H73.52 V102.9 H80.78 V113.3 H88.04 V123.1 H95.3 V131.8 H102.56 V141.1 H109.82 V147.4 H117.08 V157.2 H124.34 V164.2 H131.6 V171.7 H138.86 V179.2 H146.12 V184.4 H153.38 V192.5 H160.64 V195.9 H167.9 V201.7 H175.16 V205.1 H182.42 V211.9 H189.68 V221.4 H196.94 V224.6 H204.2 V229.6 H211.46 V241.5 H218.72 V241.5 H225.98 V237.8 H233.24 V241.5" fill="#b8c4ff"/>
<path d="M66.26 241.5 V108.23 H73.52 V104.52 H80.78 V115.4 H88.04 V125.37 H95.3 V133.9 H102.56 V143.51 H109.82 V149.33 H117.08 V159.16 H124.34 V166.13 H131.6 V173.8 H138.86 V180.49 H146.12 V186.02 H153.38 V193.96 H160.64 V197.52 H167.9 V202.68 H175.16 V206.64 H182.42 V213.41 H189.68 V222.13 H196.94 V225.3 H204.2 V231.2 H211.46 V241.5 H218.72 V241.5 H225.98 V238.6 H233.24 V241.5" fill="#4a5cff"/>
<path d="M66.26 241.5 V109.42 H73.52 V106.09 H80.78 V117.43 H88.04 V127.56 H95.3 V135.93 H102.56 V145.83 H109.82 V151.2 H117.08 V161.05 H124.34 V168 H131.6 V175.83 H138.86 V181.73 H146.12 V187.59 H153.38 V195.36 H160.64 V199.09 H167.9 V203.62 H175.16 V208.12 H182.42 V214.87 H189.68 V222.83 H196.94 V225.98 H204.2 V232.74 H211.46 V241.5 H218.72 V241.5 H225.98 V239.4 H233.24 V241.5" fill="#45f5ad"/>
<path d="M66.26 241.5 V111.4 H73.52 V108.7 H80.78 V120.8 H88.04 V131.2 H95.3 V139.3 H102.56 V149.7 H109.82 V154.3 H117.08 V164.2 H124.34 V171.1 H131.6 V179.2 H138.86 V183.8 H146.12 V190.2 H153.38 V197.7 H160.64 V201.7 H167.9 V205.2 H175.16 V210.6 H182.42 V217.3 H189.68 V224 H196.94 V227.1 H204.2 V235.3 H211.46 V241.5 H218.72 V241.5 H225.98 V241.5 H233.24 V241.5" fill="#1e6a06"/>
<path d="M66.26 241.5 V113.3 H73.52 V113.3 H80.78 V129.5 H88.04 V143.9 H95.3 V151.5 H102.56 V166.5 H109.82 V168.8 H117.08 V179.2 H124.34 V186.1 H131.6 V193.6 H138.86 V202.3 H146.12 V208.7 H153.38 V217.9 H160.64 V224.3 H167.9 V219.1 H175.16 V234.3 H182.42 V236.4 H189.68 V241.5 H196.94 V241.5 H204.2 V241.5 H211.46 V241.5 H218.72 V241.5 H225.98 V241.5 H233.24 V241.5" fill="#30c010"/>
<path d="M66.26 241.5 V114.2 H73.52 V116.2 H80.78 V134.7 H88.04 V153.2 H95.3 V165.9 H102.56 V182.1 H109.82 V180.3 H117.08 V195.4 H124.34 V205.2 H131.6 V211 H138.86 V221.4 H146.12 V225.4 H153.38 V234.7 H160.64 V241.5 H167.9 V227.1 H175.16 V241.5 H182.42 V241.5 H189.68 V241.5 H196.94 V241.5 H204.2 V241.5 H211.46 V241.5 H218.72 V241.5 H225.98 V241.5 H233.24 V241.5" fill="#50fa30"/>
<path d="M66.26 241.5 V115.3 H73.52 V117.6 H80.78 V136.7 H88.04 V156.3 H95.3 V169 H102.56 V188.4 H109.82 V183.5 H117.08 V200.6 H124.34 V213.9 H131.6 V216.2 H138.86 V238.6 H146.12 V241.5 H153.38 V241.5 H160.64 V241.5 H167.9 V241.5 H175.16 V241.5 H182.42 V241.5 H189.68 V241.5 H196.94 V241.5 H204.2 V241.5 H211.46 V241.5 H218.72 V241.5 H225.98 V241.5 H233.24 V241.5" fill="#22c084"/>
<path d="M66.26 241.5 V115.3 H73.52 V117.6 H80.78 V136.7 H88.04 V156.3 H95.3 V169 H102.56 V191 H109.82 V183.5 H117.08 V203.7 H124.34 V218.2 H131.6 V219.3 H138.86 V241.5 H146.12 V241.5 H153.38 V241.5 H160.64 V241.5 H167.9 V241.5 H175.16 V241.5 H182.42 V241.5 H189.68 V241.5 H196.94 V241.5 H204.2 V241.5 H211.46 V241.5 H218.72 V241.5 H225.98 V241.5 H233.24 V241.5" fill="#cacaca"/>
</g>
<g stroke="#000" stroke-width="1.5" fill="#000">
<path d="M66.29 97.7H73.49"/>
<circle cx="69.89" cy="97.7" r="2.9" stroke="none"/>
<path d="M73.55 92.5H80.75"/>
<circle cx="77.15" cy="92.5" r="2.9" stroke="none"/>
<path d="M80.81 100.6H88.01"/>
<circle cx="84.41" cy="100.6" r="2.9" stroke="none"/>
<path d="M88.07 109.3H95.27"/>
<circle cx="91.67" cy="109.3" r="2.9" stroke="none"/>
<path d="M95.33 119.1H102.53"/>
<circle cx="98.93" cy="119.1" r="2.9" stroke="none"/>
<path d="M102.59 128.3H109.79"/>
<circle cx="106.19" cy="128.3" r="2.9" stroke="none"/>
<path d="M109.85 137.6H117.05"/>
<circle cx="113.45" cy="137.6" r="2.9" stroke="none"/>
<path d="M117.11 145.7H124.31"/>
<circle cx="120.71" cy="145.7" r="2.9" stroke="none"/>
<path d="M124.37 154.3H131.57"/>
<circle cx="127.97" cy="154.3" r="2.9" stroke="none"/>
<path d="M135.23 162.13V163.92"/>
<path d="M131.63 163H138.83"/>
<circle cx="135.23" cy="163" r="2.9" stroke="none"/>
<path d="M142.49 169.38V171.72"/>
<path d="M138.89 170.5H146.09"/>
<circle cx="142.49" cy="170.5" r="2.9" stroke="none"/>
<path d="M149.75 177.13V180.24"/>
<path d="M146.15 178.6H153.35"/>
<circle cx="149.75" cy="178.6" r="2.9" stroke="none"/>
<path d="M157.01 182.05V185.8"/>
<path d="M153.41 183.8H160.61"/>
<circle cx="157.01" cy="183.8" r="2.9" stroke="none"/>
<path d="M164.27 185.9V190.23"/>
<path d="M160.67 187.9H167.87"/>
<circle cx="164.27" cy="187.9" r="2.9" stroke="none"/>
<path d="M171.53 201.17V209.12"/>
<path d="M167.93 204.6H175.13"/>
<circle cx="171.53" cy="204.6" r="2.9" stroke="none"/>
<path d="M178.79 195.86V202.26"/>
<path d="M175.19 198.7H182.39"/>
<circle cx="178.79" cy="198.7" r="2.9" stroke="none"/>
<path d="M186.05 210.46V222.36"/>
<path d="M182.45 215.2H189.65"/>
<circle cx="186.05" cy="215.2" r="2.9" stroke="none"/>
<path d="M193.31 210.89V223.03"/>
<path d="M189.71 215.7H196.91"/>
<circle cx="193.31" cy="215.7" r="2.9" stroke="none"/>
<path d="M200.57 217.04V233.46"/>
<path d="M196.97 223H204.17"/>
<circle cx="200.57" cy="223" r="2.9" stroke="none"/>
<path d="M207.83 219.51V238.3"/>
<path d="M204.23 226H211.43"/>
<circle cx="207.83" cy="226" r="2.9" stroke="none"/>
<path d="M215.09 224.1V241.5"/>
<path d="M211.49 231.7H218.69"/>
<circle cx="215.09" cy="231.7" r="2.9" stroke="none"/>
<path d="M222.35 224.1V241.5"/>
<path d="M218.75 231.7H225.95"/>
<circle cx="222.35" cy="231.7" r="2.9" stroke="none"/>
<path d="M229.61 231.66V241.5"/>
<path d="M226.01 241.5H233.21"/>
<circle cx="229.61" cy="241.5" r="2.9" stroke="none"/>
<path d="M236.87 224.1V241.5"/>
<path d="M233.27 231.7H240.47"/>
<circle cx="236.87" cy="231.7" r="2.9" stroke="none"/>
<path d="M244.13 231.66V241.5"/>
<path d="M240.53 241.5H247.73"/>
<circle cx="244.13" cy="241.5" r="2.9" stroke="none"/>
<path d="M251.39 224.1V241.5"/>
<path d="M247.79 231.7H254.99"/>
<circle cx="251.39" cy="231.7" r="2.9" stroke="none"/>
<path d="M265.91 231.66V241.5"/>
<path d="M262.31 241.5H269.51"/>
<circle cx="265.91" cy="241.5" r="2.9" stroke="none"/>
<path d="M331.25 231.66V241.5"/>
<path d="M327.65 241.5H334.85"/>
<circle cx="331.25" cy="241.5" r="2.9" stroke="none"/>
</g>
<g stroke="#000" fill="none" stroke-width="2">
<rect x="59" y="4" width="363" height="237.5" stroke-width="2.2"/>
<path d="M59 231.66h6.4 M422 231.66h-6.4 M59 225.9h6.4 M422 225.9h-6.4 M59 221.81h6.4 M422 221.81h-6.4 M59 218.64h6.4 M422 218.64h-6.4 M59 216.05h6.4 M422 216.05h-6.4 M59 213.87h6.4 M422 213.87h-6.4 M59 211.97h6.4 M422 211.97h-6.4 M59 210.3h6.4 M422 210.3h-6.4 M59 208.8h12.8 M422 208.8h-12.8 M59 198.96h6.4 M422 198.96h-6.4 M59 193.2h6.4 M422 193.2h-6.4 M59 189.11h6.4 M422 189.11h-6.4 M59 185.94h6.4 M422 185.94h-6.4 M59 183.35h6.4 M422 183.35h-6.4 M59 181.17h6.4 M422 181.17h-6.4 M59 179.27h6.4 M422 179.27h-6.4 M59 177.6h6.4 M422 177.6h-6.4 M59 176.1h12.8 M422 176.1h-12.8 M59 166.26h6.4 M422 166.26h-6.4 M59 160.5h6.4 M422 160.5h-6.4 M59 156.41h6.4 M422 156.41h-6.4 M59 153.24h6.4 M422 153.24h-6.4 M59 150.65h6.4 M422 150.65h-6.4 M59 148.47h6.4 M422 148.47h-6.4 M59 146.57h6.4 M422 146.57h-6.4 M59 144.9h6.4 M422 144.9h-6.4 M59 143.4h12.8 M422 143.4h-12.8 M59 133.56h6.4 M422 133.56h-6.4 M59 127.8h6.4 M422 127.8h-6.4 M59 123.71h6.4 M422 123.71h-6.4 M59 120.54h6.4 M422 120.54h-6.4 M59 117.95h6.4 M422 117.95h-6.4 M59 115.77h6.4 M422 115.77h-6.4 M59 113.87h6.4 M422 113.87h-6.4 M59 112.2h6.4 M422 112.2h-6.4 M59 110.7h12.8 M422 110.7h-12.8 M59 100.86h6.4 M422 100.86h-6.4 M59 95.1h6.4 M422 95.1h-6.4 M59 91.01h6.4 M422 91.01h-6.4 M59 87.84h6.4 M422 87.84h-6.4 M59 85.25h6.4 M422 85.25h-6.4 M59 83.07h6.4 M422 83.07h-6.4 M59 81.17h6.4 M422 81.17h-6.4 M59 79.5h6.4 M422 79.5h-6.4 M59 78h12.8 M422 78h-12.8 M59 68.16h6.4 M422 68.16h-6.4 M59 62.4h6.4 M422 62.4h-6.4 M59 58.31h6.4 M422 58.31h-6.4 M59 55.14h6.4 M422 55.14h-6.4 M59 52.55h6.4 M422 52.55h-6.4 M59 50.37h6.4 M422 50.37h-6.4 M59 48.47h6.4 M422 48.47h-6.4 M59 46.8h6.4 M422 46.8h-6.4 M59 45.3h12.8 M422 45.3h-12.8 M59 35.46h6.4 M422 35.46h-6.4 M59 29.7h6.4 M422 29.7h-6.4 M59 25.61h6.4 M422 25.61h-6.4 M59 22.44h6.4 M422 22.44h-6.4 M59 19.85h6.4 M422 19.85h-6.4 M59 17.67h6.4 M422 17.67h-6.4 M59 15.77h6.4 M422 15.77h-6.4 M59 14.1h6.4 M422 14.1h-6.4 M59 12.6h12.8 M422 12.6h-12.8"/>
<path d="M66.26 4v3.6 M66.26 241.5v-3.6 M73.52 4v3.6 M73.52 241.5v-3.6 M80.78 4v3.6 M80.78 241.5v-3.6 M88.04 4v3.6 M88.04 241.5v-3.6 M95.3 4v7 M95.3 241.5v-7 M102.56 4v3.6 M102.56 241.5v-3.6 M109.82 4v3.6 M109.82 241.5v-3.6 M117.08 4v3.6 M117.08 241.5v-3.6 M124.34 4v3.6 M124.34 241.5v-3.6 M131.6 4v7 M131.6 241.5v-7 M138.86 4v3.6 M138.86 241.5v-3.6 M146.12 4v3.6 M146.12 241.5v-3.6 M153.38 4v3.6 M153.38 241.5v-3.6 M160.64 4v3.6 M160.64 241.5v-3.6 M167.9 4v7 M167.9 241.5v-7 M175.16 4v3.6 M175.16 241.5v-3.6 M182.42 4v3.6 M182.42 241.5v-3.6 M189.68 4v3.6 M189.68 241.5v-3.6 M196.94 4v3.6 M196.94 241.5v-3.6 M204.2 4v7 M204.2 241.5v-7 M211.46 4v3.6 M211.46 241.5v-3.6 M218.72 4v3.6 M218.72 241.5v-3.6 M225.98 4v3.6 M225.98 241.5v-3.6 M233.24 4v3.6 M233.24 241.5v-3.6 M240.5 4v7 M240.5 241.5v-7 M247.76 4v3.6 M247.76 241.5v-3.6 M255.02 4v3.6 M255.02 241.5v-3.6 M262.28 4v3.6 M262.28 241.5v-3.6 M269.54 4v3.6 M269.54 241.5v-3.6 M276.8 4v7 M276.8 241.5v-7 M284.06 4v3.6 M284.06 241.5v-3.6 M291.32 4v3.6 M291.32 241.5v-3.6 M298.58 4v3.6 M298.58 241.5v-3.6 M305.84 4v3.6 M305.84 241.5v-3.6 M313.1 4v7 M313.1 241.5v-7 M320.36 4v3.6 M320.36 241.5v-3.6 M327.62 4v3.6 M327.62 241.5v-3.6 M334.88 4v3.6 M334.88 241.5v-3.6 M342.14 4v3.6 M342.14 241.5v-3.6 M349.4 4v7 M349.4 241.5v-7 M356.66 4v3.6 M356.66 241.5v-3.6 M363.92 4v3.6 M363.92 241.5v-3.6 M371.18 4v3.6 M371.18 241.5v-3.6 M378.44 4v3.6 M378.44 241.5v-3.6 M385.7 4v7 M385.7 241.5v-7 M392.96 4v3.6 M392.96 241.5v-3.6 M400.22 4v3.6 M400.22 241.5v-3.6 M407.48 4v3.6 M407.48 241.5v-3.6 M414.74 4v3.6 M414.74 241.5v-3.6" stroke-width="1.7"/>
</g>
<g stroke="#000" fill="none" stroke-width="2">
<path d="M59 311.9H422" stroke-dasharray="2.9 1.9" stroke-width="1.9"/>
</g>
<g stroke="#000" stroke-width="1.5" fill="#000">
<path d="M66.29 305.6H73.49"/>
<circle cx="69.89" cy="305.6" r="2.9" stroke="none"/>
<path d="M73.55 313.3H80.75"/>
<circle cx="77.15" cy="313.3" r="2.9" stroke="none"/>
<path d="M80.81 308.1H88.01"/>
<circle cx="84.41" cy="308.1" r="2.9" stroke="none"/>
<path d="M88.07 302.8H95.27"/>
<circle cx="91.67" cy="302.8" r="2.9" stroke="none"/>
<path d="M95.33 308.4H102.53"/>
<circle cx="98.93" cy="308.4" r="2.9" stroke="none"/>
<path d="M102.59 306.7H109.79"/>
<circle cx="106.19" cy="306.7" r="2.9" stroke="none"/>
<path d="M109.85 313.7H117.05"/>
<circle cx="113.45" cy="313.7" r="2.9" stroke="none"/>
<path d="M120.71 300.8V311.2"/>
<path d="M117.11 306H124.31"/>
<circle cx="120.71" cy="306" r="2.9" stroke="none"/>
<path d="M127.97 299.1V312.1"/>
<path d="M124.37 305.6H131.57"/>
<circle cx="127.97" cy="305.6" r="2.9" stroke="none"/>
<path d="M135.23 305.6V322.4"/>
<path d="M131.63 314H138.83"/>
<circle cx="135.23" cy="314" r="2.9" stroke="none"/>
<path d="M142.49 307V327"/>
<path d="M138.89 317H146.09"/>
<circle cx="142.49" cy="317" r="2.9" stroke="none"/>
<path d="M149.75 312.4V338.4"/>
<path d="M146.15 325.4H153.35"/>
<circle cx="149.75" cy="325.4" r="2.9" stroke="none"/>
<path d="M157.01 296.4V328.8"/>
<path d="M153.41 312.6H160.61"/>
<circle cx="157.01" cy="312.6" r="2.9" stroke="none"/>
<path d="M164.27 259.6V307.6"/>
<path d="M160.67 283.6H167.87"/>
<circle cx="164.27" cy="283.6" r="2.9" stroke="none"/>
<path d="M171.53 351.1V368"/>
<path d="M167.93 367.1H175.13"/>
<circle cx="171.53" cy="367.1" r="2.9" stroke="none"/>
<path d="M178.79 261.7V326.5"/>
<path d="M175.19 294.1H182.39"/>
<circle cx="178.79" cy="294.1" r="2.9" stroke="none"/>
<path d="M186.05 339.1V368"/>
<path d="M182.45 364.6H189.65"/>
<circle cx="186.05" cy="364.6" r="2.9" stroke="none"/>
<path d="M193.31 286.2V368"/>
<path d="M189.71 328.2H196.91"/>
<circle cx="193.31" cy="328.2" r="2.9" stroke="none"/>
<path d="M200.57 263.6V368"/>
<path d="M196.97 318.6H204.17"/>
<circle cx="200.57" cy="318.6" r="2.9" stroke="none"/>
<path d="M207.83 267.1V368"/>
<path d="M204.23 325.9H211.43"/>
<circle cx="207.83" cy="325.9" r="2.9" stroke="none"/>
<path d="M215.09 256.2V368"/>
<path d="M211.49 266.8H218.69"/>
<circle cx="215.09" cy="266.8" r="2.9" stroke="none"/>
<path d="M222.35 256.2V368"/>
<path d="M218.75 290.6H225.95"/>
<circle cx="222.35" cy="290.6" r="2.9" stroke="none"/>
<path d="M229.61 295.1V368"/>
<path d="M226.01 361.1H233.21"/>
<circle cx="229.61" cy="361.1" r="2.9" stroke="none"/>
</g>
<g stroke="#000" fill="none" stroke-width="2">
<rect x="59" y="256.2" width="363" height="111.8" stroke-width="2.2"/>
<path d="M66.26 256.2v2.6 M66.26 368v-2.6 M73.52 256.2v2.6 M73.52 368v-2.6 M80.78 256.2v2.6 M80.78 368v-2.6 M88.04 256.2v2.6 M88.04 368v-2.6 M95.3 256.2v4.8 M95.3 368v-4.8 M102.56 256.2v2.6 M102.56 368v-2.6 M109.82 256.2v2.6 M109.82 368v-2.6 M117.08 256.2v2.6 M117.08 368v-2.6 M124.34 256.2v2.6 M124.34 368v-2.6 M131.6 256.2v4.8 M131.6 368v-4.8 M138.86 256.2v2.6 M138.86 368v-2.6 M146.12 256.2v2.6 M146.12 368v-2.6 M153.38 256.2v2.6 M153.38 368v-2.6 M160.64 256.2v2.6 M160.64 368v-2.6 M167.9 256.2v4.8 M167.9 368v-4.8 M175.16 256.2v2.6 M175.16 368v-2.6 M182.42 256.2v2.6 M182.42 368v-2.6 M189.68 256.2v2.6 M189.68 368v-2.6 M196.94 256.2v2.6 M196.94 368v-2.6 M204.2 256.2v4.8 M204.2 368v-4.8 M211.46 256.2v2.6 M211.46 368v-2.6 M218.72 256.2v2.6 M218.72 368v-2.6 M225.98 256.2v2.6 M225.98 368v-2.6 M233.24 256.2v2.6 M233.24 368v-2.6 M240.5 256.2v4.8 M240.5 368v-4.8 M247.76 256.2v2.6 M247.76 368v-2.6 M255.02 256.2v2.6 M255.02 368v-2.6 M262.28 256.2v2.6 M262.28 368v-2.6 M269.54 256.2v2.6 M269.54 368v-2.6 M276.8 256.2v4.8 M276.8 368v-4.8 M284.06 256.2v2.6 M284.06 368v-2.6 M291.32 256.2v2.6 M291.32 368v-2.6 M298.58 256.2v2.6 M298.58 368v-2.6 M305.84 256.2v2.6 M305.84 368v-2.6 M313.1 256.2v4.8 M313.1 368v-4.8 M320.36 256.2v2.6 M320.36 368v-2.6 M327.62 256.2v2.6 M327.62 368v-2.6 M334.88 256.2v2.6 M334.88 368v-2.6 M342.14 256.2v2.6 M342.14 368v-2.6 M349.4 256.2v4.8 M349.4 368v-4.8 M356.66 256.2v2.6 M356.66 368v-2.6 M363.92 256.2v2.6 M363.92 368v-2.6 M371.18 256.2v2.6 M371.18 368v-2.6 M378.44 256.2v2.6 M378.44 368v-2.6 M385.7 256.2v4.8 M385.7 368v-4.8 M392.96 256.2v2.6 M392.96 368v-2.6 M400.22 256.2v2.6 M400.22 368v-2.6 M407.48 256.2v2.6 M407.48 368v-2.6 M414.74 256.2v2.6 M414.74 368v-2.6" stroke-width="1.7"/>
<path d="M59 362.07h4.8 M422 362.07h-4.8 M59 356.5h9.5 M422 356.5h-9.5 M59 350.92h4.8 M422 350.92h-4.8 M59 345.35h4.8 M422 345.35h-4.8 M59 339.77h4.8 M422 339.77h-4.8 M59 334.2h9.5 M422 334.2h-9.5 M59 328.62h4.8 M422 328.62h-4.8 M59 323.05h4.8 M422 323.05h-4.8 M59 317.47h4.8 M422 317.47h-4.8 M59 311.9h9.5 M422 311.9h-9.5 M59 306.32h4.8 M422 306.32h-4.8 M59 300.75h4.8 M422 300.75h-4.8 M59 295.18h4.8 M422 295.18h-4.8 M59 289.6h9.5 M422 289.6h-9.5 M59 284.02h4.8 M422 284.02h-4.8 M59 278.45h4.8 M422 278.45h-4.8 M59 272.87h4.8 M422 272.87h-4.8 M59 267.3h9.5 M422 267.3h-9.5 M59 261.72h4.8 M422 261.72h-4.8" stroke-width="1.8"/>
</g>
<g font-family='"Liberation Sans", Arial, Helvetica, sans-serif' fill="#000" stroke="#000" stroke-width="0.22">
<text x="56.6" y="248.7" font-size="16.6" text-anchor="end">1</text>
<text x="54.4" y="215.5" font-size="16.6" text-anchor="end">10</text>
<text x="49.0" y="183.6" font-size="16.6" text-anchor="end">10</text>
<text x="48.7" y="177" font-size="10.8">2</text>
<text x="49.0" y="150.9" font-size="16.6" text-anchor="end">10</text>
<text x="48.7" y="144.3" font-size="10.8">3</text>
<text x="49.0" y="118.2" font-size="16.6" text-anchor="end">10</text>
<text x="48.7" y="111.6" font-size="10.8">4</text>
<text x="49.0" y="85.5" font-size="16.6" text-anchor="end">10</text>
<text x="48.7" y="78.9" font-size="10.8">5</text>
<text x="49.0" y="52.8" font-size="16.6" text-anchor="end">10</text>
<text x="48.7" y="46.2" font-size="10.8">6</text>
<text x="49.0" y="20.1" font-size="16.6" text-anchor="end">10</text>
<text x="48.7" y="13.5" font-size="10.8">7</text>
<text x="56.5" y="273.3" font-size="16.6" text-anchor="end">1.4</text>
<text x="56.5" y="295.6" font-size="16.6" text-anchor="end">1.2</text>
<text x="58.0" y="317.9" font-size="16.6" text-anchor="end">1</text>
<text x="56.5" y="340.2" font-size="16.6" text-anchor="end">0.8</text>
<text x="56.5" y="362.5" font-size="16.6" text-anchor="end">0.6</text>
<text x="59" y="388.7" font-size="16.6" text-anchor="middle">0</text>
<text x="95.3" y="388.7" font-size="16.6" text-anchor="middle">100</text>
<text x="131.6" y="388.7" font-size="16.6" text-anchor="middle">200</text>
<text x="167.9" y="388.7" font-size="16.6" text-anchor="middle">300</text>
<text x="204.2" y="388.7" font-size="16.6" text-anchor="middle">400</text>
<text x="240.5" y="388.7" font-size="16.6" text-anchor="middle">500</text>
<text x="276.8" y="388.7" font-size="16.6" text-anchor="middle">600</text>
<text x="313.1" y="388.7" font-size="16.6" text-anchor="middle">700</text>
<text x="349.4" y="388.7" font-size="16.6" text-anchor="middle">800</text>
<text x="385.7" y="388.7" font-size="16.6" text-anchor="middle">900</text>
<text x="422" y="388.7" font-size="16.6" text-anchor="middle">1000</text>
<text transform="translate(17.7,5.4) rotate(-90)" font-size="21.2" text-anchor="end">Events</text>
<text transform="translate(19.1,252.8) rotate(-90)" font-size="21.5" text-anchor="end">Data/MC</text>
<text x="333.2" y="411.3" font-size="18.9">p</text><text x="344.4" y="402.6" font-size="12">lepton</text><text x="344.1" y="421.8" font-size="12.4">T</text><text x="431" y="411.3" font-size="18.9" text-anchor="end">[GeV]</text>
<path d="M78.7 37l1.1 -0.7l1.2 7.4" fill="none" stroke="#000" stroke-width="1.7" stroke-linejoin="bevel"/><path d="M80.9 44.2l1.5 -11.3h7.8" fill="none" stroke="#000" stroke-width="1.25"/>
<text x="84" y="43.4" font-size="11.9" textLength="106.4" lengthAdjust="spacingAndGlyphs">s = 13 TeV, 36.1 fb</text>
<text x="190.9" y="38" font-size="8.4">-1</text>
<text x="77.2" y="59.6" font-size="11.9" textLength="61.6" lengthAdjust="spacingAndGlyphs">≥4j, ≥1b, 1l</text>
<text x="78" y="75.6" font-size="11.9" textLength="140" lengthAdjust="spacingAndGlyphs">MET&lt;20, MET+MTW&lt;60</text>
<path d="M241.6 28.3H257.6" stroke="#000" stroke-width="1.4"/><circle cx="249.6" cy="28.3" r="2.9"/>
<text transform="translate(261.2,29.55) scale(1.09,1)" font-size="9.45">Data</text>
<text transform="translate(398,29.55) scale(1.09,1)" font-size="9.45" text-anchor="end">103981</text>
<rect x="242" y="33.16" width="15.2" height="7.2" fill="#ffffff" stroke="#000" stroke-width="1.5"/>
<text transform="translate(261.2,40.76) scale(1.09,1)" font-size="9.45">tt+light-jets</text>
<path d="M263.8 32.06h2.4" stroke="#000" stroke-width="1"/>
<text transform="translate(398,40.76) scale(1.09,1)" font-size="9.45" text-anchor="end">55266.09</text>
<rect x="242" y="44.37" width="15.2" height="7.2" fill="#b8c4ff" stroke="#000" stroke-width="1.5"/>
<text transform="translate(261.2,51.97) scale(1.09,1)" font-size="9.45">tt+≥1c</text>
<path d="M263.8 43.27h2.4" stroke="#000" stroke-width="1"/>
<text transform="translate(398,51.97) scale(1.09,1)" font-size="9.45" text-anchor="end">5857.16</text>
<rect x="242" y="55.58" width="15.2" height="7.2" fill="#4a5cff" stroke="#000" stroke-width="1.5"/>
<text transform="translate(261.2,63.18) scale(1.09,1)" font-size="9.45">tt+≥1b</text>
<path d="M263.8 54.48h2.4" stroke="#000" stroke-width="1"/>
<text transform="translate(398,63.18) scale(1.09,1)" font-size="9.45" text-anchor="end">2226.45</text>
<rect x="242" y="66.79" width="15.2" height="7.2" fill="#45f5ad" stroke="#000" stroke-width="1.5"/>
<text transform="translate(261.2,74.39) scale(1.09,1)" font-size="9.45">single top</text>
<text transform="translate(398,74.39) scale(1.09,1)" font-size="9.45" text-anchor="end">4447.40</text>
<rect x="242" y="78" width="15.2" height="7.2" fill="#1e6a06" stroke="#000" stroke-width="1.5"/>
<text transform="translate(261.2,85.6) scale(1.09,1)" font-size="9.45">W+jets</text>
<text transform="translate(398,85.6) scale(1.09,1)" font-size="9.45" text-anchor="end">13820.28</text>
<rect x="242" y="89.21" width="15.2" height="7.2" fill="#30c010" stroke="#000" stroke-width="1.5"/>
<text transform="translate(261.2,96.81) scale(1.09,1)" font-size="9.45">Z+jets</text>
<text transform="translate(398,96.81) scale(1.09,1)" font-size="9.45" text-anchor="end">3985.38</text>
<rect x="242" y="100.42" width="15.2" height="7.2" fill="#50fa30" stroke="#000" stroke-width="1.5"/>
<text transform="translate(261.2,108.02) scale(1.09,1)" font-size="9.45">diboson</text>
<text transform="translate(398,108.02) scale(1.09,1)" font-size="9.45" text-anchor="end">429.19</text>
<rect x="242" y="111.63" width="15.2" height="7.2" fill="#22c084" stroke="#000" stroke-width="1.5"/>
<text transform="translate(261.2,119.23) scale(1.09,1)" font-size="9.45">tt + X</text>
<text transform="translate(398,119.23) scale(1.09,1)" font-size="9.45" text-anchor="end">221.96</text>
<rect x="242" y="122.84" width="15.2" height="7.2" fill="#cacaca" stroke="#000" stroke-width="1.5"/>
<text transform="translate(261.2,130.44) scale(1.09,1)" font-size="9.45">QCD fake</text>
<text transform="translate(398,130.44) scale(1.09,1)" font-size="9.45" text-anchor="end">14886.62</text>
<text transform="translate(261.2,141.65) scale(1.09,1)" font-size="9.45">Total bg</text>
<text transform="translate(398,141.65) scale(1.09,1)" font-size="9.45" text-anchor="end">101140.53</text>
</g>
</g>
<g font-family='"Liberation Serif", "Times New Roman", Times, serif' fill="#000" stroke="#000" stroke-width="0.3"><text transform="translate(147.4,935.6) scale(1.04,1)" font-size="30.0">(d)</text><text transform="translate(192.6,935.6) scale(1.04,1)" font-size="30.0">muon</text><text transform="translate(274.6,935.6) scale(1.04,1)" font-size="30.0" font-style="italic">p</text><text transform="translate(290.4,941.9) scale(1.04,1)" font-size="24.0">T</text></g>
<g transform="translate(459,488.4)">
<g stroke="#000" stroke-width="1.85" stroke-linejoin="miter">
<path d="M59 241.5 V86.29 H66.26 V241.5" fill="#ffffff"/>
<path d="M59 241.5 V92.04 H66.26 V241.5" fill="#b8c4ff"/>
<path d="M59 241.5 V93.02 H66.26 V241.5" fill="#4a5cff"/>
<path d="M59 241.5 V93.41 H66.26 V241.5" fill="#45f5ad"/>
<path d="M59 241.5 V94.21 H66.26 V241.5" fill="#1e6a06"/>
<path d="M59 241.5 V96.97 H66.26 V241.5" fill="#30c010"/>
<path d="M59 241.5 V99.22 H66.26 V241.5" fill="#50fa30"/>
<path d="M59 241.5 V99.22 H66.26 V241.5" fill="#22c084"/>
<path d="M59 241.5 V99.22 H66.26 V241.5" fill="#cacaca"/>
</g>
<g stroke="#000" stroke-width="1.5" fill="#000">
<circle cx="62.63" cy="85.72" r="2.9" stroke="none"/>
</g>
<g stroke="#000" fill="none" stroke-width="2">
<rect x="59" y="4" width="363" height="237.5" stroke-width="2.2"/>
<path d="M59 232.31h6.4 M422 232.31h-6.4 M59 226.99h6.4 M422 226.99h-6.4 M59 223.21h6.4 M422 223.21h-6.4 M59 220.28h6.4 M422 220.28h-6.4 M59 217.89h6.4 M422 217.89h-6.4 M59 215.86h6.4 M422 215.86h-6.4 M59 214.11h6.4 M422 214.11h-6.4 M59 212.56h6.4 M422 212.56h-6.4 M59 211.18h12.8 M422 211.18h-12.8 M59 202.08h6.4 M422 202.08h-6.4 M59 196.76h6.4 M422 196.76h-6.4 M59 192.98h6.4 M422 192.98h-6.4 M59 190.05h6.4 M422 190.05h-6.4 M59 187.66h6.4 M422 187.66h-6.4 M59 185.63h6.4 M422 185.63h-6.4 M59 183.88h6.4 M422 183.88h-6.4 M59 182.33h6.4 M422 182.33h-6.4 M59 180.95h12.8 M422 180.95h-12.8 M59 171.85h6.4 M422 171.85h-6.4 M59 166.53h6.4 M422 166.53h-6.4 M59 162.75h6.4 M422 162.75h-6.4 M59 159.82h6.4 M422 159.82h-6.4 M59 157.43h6.4 M422 157.43h-6.4 M59 155.4h6.4 M422 155.4h-6.4 M59 153.65h6.4 M422 153.65h-6.4 M59 152.1h6.4 M422 152.1h-6.4 M59 150.72h12.8 M422 150.72h-12.8 M59 141.62h6.4 M422 141.62h-6.4 M59 136.3h6.4 M422 136.3h-6.4 M59 132.52h6.4 M422 132.52h-6.4 M59 129.59h6.4 M422 129.59h-6.4 M59 127.2h6.4 M422 127.2h-6.4 M59 125.17h6.4 M422 125.17h-6.4 M59 123.42h6.4 M422 123.42h-6.4 M59 121.87h6.4 M422 121.87h-6.4 M59 120.49h12.8 M422 120.49h-12.8 M59 111.39h6.4 M422 111.39h-6.4 M59 106.07h6.4 M422 106.07h-6.4 M59 102.29h6.4 M422 102.29h-6.4 M59 99.36h6.4 M422 99.36h-6.4 M59 96.97h6.4 M422 96.97h-6.4 M59 94.94h6.4 M422 94.94h-6.4 M59 93.19h6.4 M422 93.19h-6.4 M59 91.64h6.4 M422 91.64h-6.4 M59 90.26h12.8 M422 90.26h-12.8 M59 81.16h6.4 M422 81.16h-6.4 M59 75.84h6.4 M422 75.84h-6.4 M59 72.06h6.4 M422 72.06h-6.4 M59 69.13h6.4 M422 69.13h-6.4 M59 66.74h6.4 M422 66.74h-6.4 M59 64.71h6.4 M422 64.71h-6.4 M59 62.96h6.4 M422 62.96h-6.4 M59 61.41h6.4 M422 61.41h-6.4 M59 60.03h12.8 M422 60.03h-12.8 M59 50.93h6.4 M422 50.93h-6.4 M59 45.61h6.4 M422 45.61h-6.4 M59 41.83h6.4 M422 41.83h-6.4 M59 38.9h6.4 M422 38.9h-6.4 M59 36.51h6.4 M422 36.51h-6.4 M59 34.48h6.4 M422 34.48h-6.4 M59 32.73h6.4 M422 32.73h-6.4 M59 31.18h6.4 M422 31.18h-6.4 M59 29.8h12.8 M422 29.8h-12.8 M59 20.7h6.4 M422 20.7h-6.4 M59 15.38h6.4 M422 15.38h-6.4 M59 11.6h6.4 M422 11.6h-6.4 M59 8.67h6.4 M422 8.67h-6.4 M59 6.28h6.4 M422 6.28h-6.4"/>
<path d="M66.26 4v3.6 M66.26 241.5v-3.6 M73.52 4v3.6 M73.52 241.5v-3.6 M80.78 4v3.6 M80.78 241.5v-3.6 M88.04 4v3.6 M88.04 241.5v-3.6 M95.3 4v7 M95.3 241.5v-7 M102.56 4v3.6 M102.56 241.5v-3.6 M109.82 4v3.6 M109.82 241.5v-3.6 M117.08 4v3.6 M117.08 241.5v-3.6 M124.34 4v3.6 M124.34 241.5v-3.6 M131.6 4v7 M131.6 241.5v-7 M138.86 4v3.6 M138.86 241.5v-3.6 M146.12 4v3.6 M146.12 241.5v-3.6 M153.38 4v3.6 M153.38 241.5v-3.6 M160.64 4v3.6 M160.64 241.5v-3.6 M167.9 4v7 M167.9 241.5v-7 M175.16 4v3.6 M175.16 241.5v-3.6 M182.42 4v3.6 M182.42 241.5v-3.6 M189.68 4v3.6 M189.68 241.5v-3.6 M196.94 4v3.6 M196.94 241.5v-3.6 M204.2 4v7 M204.2 241.5v-7 M211.46 4v3.6 M211.46 241.5v-3.6 M218.72 4v3.6 M218.72 241.5v-3.6 M225.98 4v3.6 M225.98 241.5v-3.6 M233.24 4v3.6 M233.24 241.5v-3.6 M240.5 4v7 M240.5 241.5v-7 M247.76 4v3.6 M247.76 241.5v-3.6 M255.02 4v3.6 M255.02 241.5v-3.6 M262.28 4v3.6 M262.28 241.5v-3.6 M269.54 4v3.6 M269.54 241.5v-3.6 M276.8 4v7 M276.8 241.5v-7 M284.06 4v3.6 M284.06 241.5v-3.6 M291.32 4v3.6 M291.32 241.5v-3.6 M298.58 4v3.6 M298.58 241.5v-3.6 M305.84 4v3.6 M305.84 241.5v-3.6 M313.1 4v7 M313.1 241.5v-7 M320.36 4v3.6 M320.36 241.5v-3.6 M327.62 4v3.6 M327.62 241.5v-3.6 M334.88 4v3.6 M334.88 241.5v-3.6 M342.14 4v3.6 M342.14 241.5v-3.6 M349.4 4v7 M349.4 241.5v-7 M356.66 4v3.6 M356.66 241.5v-3.6 M363.92 4v3.6 M363.92 241.5v-3.6 M371.18 4v3.6 M371.18 241.5v-3.6 M378.44 4v3.6 M378.44 241.5v-3.6 M385.7 4v7 M385.7 241.5v-7 M392.96 4v3.6 M392.96 241.5v-3.6 M400.22 4v3.6 M400.22 241.5v-3.6 M407.48 4v3.6 M407.48 241.5v-3.6 M414.74 4v3.6 M414.74 241.5v-3.6" stroke-width="1.7"/>
</g>
<g stroke="#000" fill="none" stroke-width="2">
<path d="M59 311.9H422" stroke-dasharray="2.9 1.9" stroke-width="1.9"/>
</g>
<g stroke="#000" stroke-width="1.5" fill="#000">
<path d="M59.03 314.72H66.23"/>
<circle cx="62.63" cy="314.72" r="2.9" stroke="none"/>
</g>
<g stroke="#000" fill="none" stroke-width="2">
<rect x="59" y="256.2" width="363" height="111.8" stroke-width="2.2"/>
<path d="M66.26 256.2v2.6 M66.26 368v-2.6 M73.52 256.2v2.6 M73.52 368v-2.6 M80.78 256.2v2.6 M80.78 368v-2.6 M88.04 256.2v2.6 M88.04 368v-2.6 M95.3 256.2v4.8 M95.3 368v-4.8 M102.56 256.2v2.6 M102.56 368v-2.6 M109.82 256.2v2.6 M109.82 368v-2.6 M117.08 256.2v2.6 M117.08 368v-2.6 M124.34 256.2v2.6 M124.34 368v-2.6 M131.6 256.2v4.8 M131.6 368v-4.8 M138.86 256.2v2.6 M138.86 368v-2.6 M146.12 256.2v2.6 M146.12 368v-2.6 M153.38 256.2v2.6 M153.38 368v-2.6 M160.64 256.2v2.6 M160.64 368v-2.6 M167.9 256.2v4.8 M167.9 368v-4.8 M175.16 256.2v2.6 M175.16 368v-2.6 M182.42 256.2v2.6 M182.42 368v-2.6 M189.68 256.2v2.6 M189.68 368v-2.6 M196.94 256.2v2.6 M196.94 368v-2.6 M204.2 256.2v4.8 M204.2 368v-4.8 M211.46 256.2v2.6 M211.46 368v-2.6 M218.72 256.2v2.6 M218.72 368v-2.6 M225.98 256.2v2.6 M225.98 368v-2.6 M233.24 256.2v2.6 M233.24 368v-2.6 M240.5 256.2v4.8 M240.5 368v-4.8 M247.76 256.2v2.6 M247.76 368v-2.6 M255.02 256.2v2.6 M255.02 368v-2.6 M262.28 256.2v2.6 M262.28 368v-2.6 M269.54 256.2v2.6 M269.54 368v-2.6 M276.8 256.2v4.8 M276.8 368v-4.8 M284.06 256.2v2.6 M284.06 368v-2.6 M291.32 256.2v2.6 M291.32 368v-2.6 M298.58 256.2v2.6 M298.58 368v-2.6 M305.84 256.2v2.6 M305.84 368v-2.6 M313.1 256.2v4.8 M313.1 368v-4.8 M320.36 256.2v2.6 M320.36 368v-2.6 M327.62 256.2v2.6 M327.62 368v-2.6 M334.88 256.2v2.6 M334.88 368v-2.6 M342.14 256.2v2.6 M342.14 368v-2.6 M349.4 256.2v4.8 M349.4 368v-4.8 M356.66 256.2v2.6 M356.66 368v-2.6 M363.92 256.2v2.6 M363.92 368v-2.6 M371.18 256.2v2.6 M371.18 368v-2.6 M378.44 256.2v2.6 M378.44 368v-2.6 M385.7 256.2v4.8 M385.7 368v-4.8 M392.96 256.2v2.6 M392.96 368v-2.6 M400.22 256.2v2.6 M400.22 368v-2.6 M407.48 256.2v2.6 M407.48 368v-2.6 M414.74 256.2v2.6 M414.74 368v-2.6" stroke-width="1.7"/>
<path d="M59 362.07h4.8 M422 362.07h-4.8 M59 356.5h9.5 M422 356.5h-9.5 M59 350.92h4.8 M422 350.92h-4.8 M59 345.35h4.8 M422 345.35h-4.8 M59 339.77h4.8 M422 339.77h-4.8 M59 334.2h9.5 M422 334.2h-9.5 M59 328.62h4.8 M422 328.62h-4.8 M59 323.05h4.8 M422 323.05h-4.8 M59 317.47h4.8 M422 317.47h-4.8 M59 311.9h9.5 M422 311.9h-9.5 M59 306.32h4.8 M422 306.32h-4.8 M59 300.75h4.8 M422 300.75h-4.8 M59 295.18h4.8 M422 295.18h-4.8 M59 289.6h9.5 M422 289.6h-9.5 M59 284.02h4.8 M422 284.02h-4.8 M59 278.45h4.8 M422 278.45h-4.8 M59 272.87h4.8 M422 272.87h-4.8 M59 267.3h9.5 M422 267.3h-9.5 M59 261.72h4.8 M422 261.72h-4.8" stroke-width="1.8"/>
</g>
<g font-family='"Liberation Sans", Arial, Helvetica, sans-serif' fill="#000" stroke="#000" stroke-width="0.22">
<text x="56.6" y="248.61" font-size="16.6" text-anchor="end">1</text>
<text x="54.4" y="217.88" font-size="16.6" text-anchor="end">10</text>
<text x="49.0" y="188.45" font-size="16.6" text-anchor="end">10</text>
<text x="48.7" y="181.85" font-size="10.8">2</text>
<text x="49.0" y="158.22" font-size="16.6" text-anchor="end">10</text>
<text x="48.7" y="151.62" font-size="10.8">3</text>
<text x="49.0" y="127.99" font-size="16.6" text-anchor="end">10</text>
<text x="48.7" y="121.39" font-size="10.8">4</text>
<text x="49.0" y="97.76" font-size="16.6" text-anchor="end">10</text>
<text x="48.7" y="91.16" font-size="10.8">5</text>
<text x="49.0" y="67.53" font-size="16.6" text-anchor="end">10</text>
<text x="48.7" y="60.93" font-size="10.8">6</text>
<text x="49.0" y="37.3" font-size="16.6" text-anchor="end">10</text>
<text x="48.7" y="30.7" font-size="10.8">7</text>
<text x="56.5" y="273.3" font-size="16.6" text-anchor="end">1.4</text>
<text x="56.5" y="295.6" font-size="16.6" text-anchor="end">1.2</text>
<text x="58.0" y="317.9" font-size="16.6" text-anchor="end">1</text>
<text x="56.5" y="340.2" font-size="16.6" text-anchor="end">0.8</text>
<text x="56.5" y="362.5" font-size="16.6" text-anchor="end">0.6</text>
<text x="59" y="388.7" font-size="16.6" text-anchor="middle">0</text>
<text x="95.3" y="388.7" font-size="16.6" text-anchor="middle">100</text>
<text x="131.6" y="388.7" font-size="16.6" text-anchor="middle">200</text>
<text x="167.9" y="388.7" font-size="16.6" text-anchor="middle">300</text>
<text x="204.2" y="388.7" font-size="16.6" text-anchor="middle">400</text>
<text x="240.5" y="388.7" font-size="16.6" text-anchor="middle">500</text>
<text x="276.8" y="388.7" font-size="16.6" text-anchor="middle">600</text>
<text x="313.1" y="388.7" font-size="16.6" text-anchor="middle">700</text>
<text x="349.4" y="388.7" font-size="16.6" text-anchor="middle">800</text>
<text x="385.7" y="388.7" font-size="16.6" text-anchor="middle">900</text>
<text x="422" y="388.7" font-size="16.6" text-anchor="middle">1000</text>
<text transform="translate(17.7,5.4) rotate(-90)" font-size="21.2" text-anchor="end">Events</text>
<text transform="translate(19.1,252.8) rotate(-90)" font-size="21.5" text-anchor="end">Data/MC</text>
<text x="339.9" y="413.2" font-size="18.9">E</text><text x="351.4" y="404.3" font-size="12.5">miss</text><text x="351.5" y="419.7" font-size="12.4">T</text><text x="431.2" y="413.2" font-size="18.9" text-anchor="end">[GeV]</text>
<path d="M78.7 37l1.1 -0.7l1.2 7.4" fill="none" stroke="#000" stroke-width="1.7" stroke-linejoin="bevel"/><path d="M80.9 44.2l1.5 -11.3h7.8" fill="none" stroke="#000" stroke-width="1.25"/>
<text x="84" y="43.4" font-size="11.9" textLength="106.4" lengthAdjust="spacingAndGlyphs">s = 13 TeV, 36.1 fb</text>
<text x="190.9" y="38" font-size="8.4">-1</text>
<text x="77.2" y="59.6" font-size="11.9" textLength="61.6" lengthAdjust="spacingAndGlyphs">≥4j, ≥1b, 1l</text>
<text x="78" y="75.6" font-size="11.9" textLength="140" lengthAdjust="spacingAndGlyphs">MET&lt;20, MET+MTW&lt;60</text>
<path d="M241.6 28.3H257.6" stroke="#000" stroke-width="1.4"/><circle cx="249.6" cy="28.3" r="2.9"/>
<text transform="translate(261.2,29.55) scale(1.09,1)" font-size="9.45">Data</text>
<text transform="translate(398,29.55) scale(1.09,1)" font-size="9.45" text-anchor="end">141288</text>
<rect x="242" y="33.16" width="15.2" height="7.2" fill="#ffffff" stroke="#000" stroke-width="1.5"/>
<text transform="translate(261.2,40.76) scale(1.09,1)" font-size="9.45">tt+light-jets</text>
<path d="M263.8 32.06h2.4" stroke="#000" stroke-width="1"/>
<text transform="translate(398,40.76) scale(1.09,1)" font-size="9.45" text-anchor="end">57669.09</text>
<rect x="242" y="44.37" width="15.2" height="7.2" fill="#b8c4ff" stroke="#000" stroke-width="1.5"/>
<text transform="translate(261.2,51.97) scale(1.09,1)" font-size="9.45">tt+≥1c</text>
<path d="M263.8 43.27h2.4" stroke="#000" stroke-width="1"/>
<text transform="translate(398,51.97) scale(1.09,1)" font-size="9.45" text-anchor="end">6266.01</text>
<rect x="242" y="55.58" width="15.2" height="7.2" fill="#4a5cff" stroke="#000" stroke-width="1.5"/>
<text transform="translate(261.2,63.18) scale(1.09,1)" font-size="9.45">tt+≥1b</text>
<path d="M263.8 54.48h2.4" stroke="#000" stroke-width="1"/>
<text transform="translate(398,63.18) scale(1.09,1)" font-size="9.45" text-anchor="end">2376.17</text>
<rect x="242" y="66.79" width="15.2" height="7.2" fill="#45f5ad" stroke="#000" stroke-width="1.5"/>
<text transform="translate(261.2,74.39) scale(1.09,1)" font-size="9.45">single top</text>
<text transform="translate(398,74.39) scale(1.09,1)" font-size="9.45" text-anchor="end">4626.83</text>
<rect x="242" y="78" width="15.2" height="7.2" fill="#1e6a06" stroke="#000" stroke-width="1.5"/>
<text transform="translate(261.2,85.6) scale(1.09,1)" font-size="9.45">W+jets</text>
<text transform="translate(398,85.6) scale(1.09,1)" font-size="9.45" text-anchor="end">14014.00</text>
<rect x="242" y="89.21" width="15.2" height="7.2" fill="#30c010" stroke="#000" stroke-width="1.5"/>
<text transform="translate(261.2,96.81) scale(1.09,1)" font-size="9.45">Z+jets</text>
<text transform="translate(398,96.81) scale(1.09,1)" font-size="9.45" text-anchor="end">11993.87</text>
<rect x="242" y="100.42" width="15.2" height="7.2" fill="#50fa30" stroke="#000" stroke-width="1.5"/>
<text transform="translate(261.2,108.02) scale(1.09,1)" font-size="9.45">diboson</text>
<text transform="translate(398,108.02) scale(1.09,1)" font-size="9.45" text-anchor="end">585.54</text>
<rect x="242" y="111.63" width="15.2" height="7.2" fill="#22c084" stroke="#000" stroke-width="1.5"/>
<text transform="translate(261.2,119.23) scale(1.09,1)" font-size="9.45">tt + X</text>
<text transform="translate(398,119.23) scale(1.09,1)" font-size="9.45" text-anchor="end">241.69</text>
<rect x="242" y="122.84" width="15.2" height="7.2" fill="#cacaca" stroke="#000" stroke-width="1.5"/>
<text transform="translate(261.2,130.44) scale(1.09,1)" font-size="9.45">QCD fake</text>
<text transform="translate(398,130.44) scale(1.09,1)" font-size="9.45" text-anchor="end">47184.97</text>
<text transform="translate(261.2,141.65) scale(1.09,1)" font-size="9.45">Total bg</text>
<text transform="translate(398,141.65) scale(1.09,1)" font-size="9.45" text-anchor="end">144958.17</text>
</g>
</g>
<g font-family='"Liberation Serif", "Times New Roman", Times, serif' fill="#000" stroke="#000" stroke-width="0.3"><text transform="translate(597.4,936.0) scale(1.04,1)" font-size="30.0">(e)</text><text transform="translate(643.0,936.0) scale(1.04,1)" font-size="30.0" font-style="italic">E</text><text transform="translate(662.6,923.5) scale(1.04,1)" font-size="24.0">miss</text><text transform="translate(663.4,948.2) scale(1.04,1)" font-size="24.0">T</text><text transform="translate(719.2,936.0) scale(1.04,1)" font-size="30.0">in</text><text transform="translate(751.8,936.0) scale(1.04,1)" font-size="30.0" font-style="italic">el</text></g>
<g transform="translate(918,488.4)">
<g stroke="#000" stroke-width="1.85" stroke-linejoin="miter">
<path d="M59 241.5 V88.15 H66.26 V241.5" fill="#ffffff"/>
<path d="M59 241.5 V97.82 H66.26 V241.5" fill="#b8c4ff"/>
<path d="M59 241.5 V99.65 H66.26 V241.5" fill="#4a5cff"/>
<path d="M59 241.5 V100.42 H66.26 V241.5" fill="#45f5ad"/>
<path d="M59 241.5 V102.09 H66.26 V241.5" fill="#1e6a06"/>
<path d="M59 241.5 V109.25 H66.26 V241.5" fill="#30c010"/>
<path d="M59 241.5 V111.98 H66.26 V241.5" fill="#50fa30"/>
<path d="M59 241.5 V111.98 H66.26 V241.5" fill="#22c084"/>
<path d="M59 241.5 V111.98 H66.26 V241.5" fill="#cacaca"/>
</g>
<g stroke="#000" stroke-width="1.5" fill="#000">
<circle cx="62.63" cy="86.88" r="2.9" stroke="none"/>
</g>
<g stroke="#000" fill="none" stroke-width="2">
<rect x="59" y="4" width="363" height="237.5" stroke-width="2.2"/>
<path d="M59 232.13h6.4 M422 232.13h-6.4 M59 226.7h6.4 M422 226.7h-6.4 M59 222.86h6.4 M422 222.86h-6.4 M59 219.87h6.4 M422 219.87h-6.4 M59 217.43h6.4 M422 217.43h-6.4 M59 215.37h6.4 M422 215.37h-6.4 M59 213.58h6.4 M422 213.58h-6.4 M59 212.01h6.4 M422 212.01h-6.4 M59 210.6h12.8 M422 210.6h-12.8 M59 201.33h6.4 M422 201.33h-6.4 M59 195.9h6.4 M422 195.9h-6.4 M59 192.06h6.4 M422 192.06h-6.4 M59 189.07h6.4 M422 189.07h-6.4 M59 186.63h6.4 M422 186.63h-6.4 M59 184.57h6.4 M422 184.57h-6.4 M59 182.78h6.4 M422 182.78h-6.4 M59 181.21h6.4 M422 181.21h-6.4 M59 179.8h12.8 M422 179.8h-12.8 M59 170.53h6.4 M422 170.53h-6.4 M59 165.1h6.4 M422 165.1h-6.4 M59 161.26h6.4 M422 161.26h-6.4 M59 158.27h6.4 M422 158.27h-6.4 M59 155.83h6.4 M422 155.83h-6.4 M59 153.77h6.4 M422 153.77h-6.4 M59 151.98h6.4 M422 151.98h-6.4 M59 150.41h6.4 M422 150.41h-6.4 M59 149h12.8 M422 149h-12.8 M59 139.73h6.4 M422 139.73h-6.4 M59 134.3h6.4 M422 134.3h-6.4 M59 130.46h6.4 M422 130.46h-6.4 M59 127.47h6.4 M422 127.47h-6.4 M59 125.03h6.4 M422 125.03h-6.4 M59 122.97h6.4 M422 122.97h-6.4 M59 121.18h6.4 M422 121.18h-6.4 M59 119.61h6.4 M422 119.61h-6.4 M59 118.2h12.8 M422 118.2h-12.8 M59 108.93h6.4 M422 108.93h-6.4 M59 103.5h6.4 M422 103.5h-6.4 M59 99.66h6.4 M422 99.66h-6.4 M59 96.67h6.4 M422 96.67h-6.4 M59 94.23h6.4 M422 94.23h-6.4 M59 92.17h6.4 M422 92.17h-6.4 M59 90.38h6.4 M422 90.38h-6.4 M59 88.81h6.4 M422 88.81h-6.4 M59 87.4h12.8 M422 87.4h-12.8 M59 78.13h6.4 M422 78.13h-6.4 M59 72.7h6.4 M422 72.7h-6.4 M59 68.86h6.4 M422 68.86h-6.4 M59 65.87h6.4 M422 65.87h-6.4 M59 63.43h6.4 M422 63.43h-6.4 M59 61.37h6.4 M422 61.37h-6.4 M59 59.58h6.4 M422 59.58h-6.4 M59 58.01h6.4 M422 58.01h-6.4 M59 56.6h12.8 M422 56.6h-12.8 M59 47.33h6.4 M422 47.33h-6.4 M59 41.9h6.4 M422 41.9h-6.4 M59 38.06h6.4 M422 38.06h-6.4 M59 35.07h6.4 M422 35.07h-6.4 M59 32.63h6.4 M422 32.63h-6.4 M59 30.57h6.4 M422 30.57h-6.4 M59 28.78h6.4 M422 28.78h-6.4 M59 27.21h6.4 M422 27.21h-6.4 M59 25.8h12.8 M422 25.8h-12.8 M59 16.53h6.4 M422 16.53h-6.4 M59 11.1h6.4 M422 11.1h-6.4 M59 7.26h6.4 M422 7.26h-6.4"/>
<path d="M66.26 4v3.6 M66.26 241.5v-3.6 M73.52 4v3.6 M73.52 241.5v-3.6 M80.78 4v3.6 M80.78 241.5v-3.6 M88.04 4v3.6 M88.04 241.5v-3.6 M95.3 4v7 M95.3 241.5v-7 M102.56 4v3.6 M102.56 241.5v-3.6 M109.82 4v3.6 M109.82 241.5v-3.6 M117.08 4v3.6 M117.08 241.5v-3.6 M124.34 4v3.6 M124.34 241.5v-3.6 M131.6 4v7 M131.6 241.5v-7 M138.86 4v3.6 M138.86 241.5v-3.6 M146.12 4v3.6 M146.12 241.5v-3.6 M153.38 4v3.6 M153.38 241.5v-3.6 M160.64 4v3.6 M160.64 241.5v-3.6 M167.9 4v7 M167.9 241.5v-7 M175.16 4v3.6 M175.16 241.5v-3.6 M182.42 4v3.6 M182.42 241.5v-3.6 M189.68 4v3.6 M189.68 241.5v-3.6 M196.94 4v3.6 M196.94 241.5v-3.6 M204.2 4v7 M204.2 241.5v-7 M211.46 4v3.6 M211.46 241.5v-3.6 M218.72 4v3.6 M218.72 241.5v-3.6 M225.98 4v3.6 M225.98 241.5v-3.6 M233.24 4v3.6 M233.24 241.5v-3.6 M240.5 4v7 M240.5 241.5v-7 M247.76 4v3.6 M247.76 241.5v-3.6 M255.02 4v3.6 M255.02 241.5v-3.6 M262.28 4v3.6 M262.28 241.5v-3.6 M269.54 4v3.6 M269.54 241.5v-3.6 M276.8 4v7 M276.8 241.5v-7 M284.06 4v3.6 M284.06 241.5v-3.6 M291.32 4v3.6 M291.32 241.5v-3.6 M298.58 4v3.6 M298.58 241.5v-3.6 M305.84 4v3.6 M305.84 241.5v-3.6 M313.1 4v7 M313.1 241.5v-7 M320.36 4v3.6 M320.36 241.5v-3.6 M327.62 4v3.6 M327.62 241.5v-3.6 M334.88 4v3.6 M334.88 241.5v-3.6 M342.14 4v3.6 M342.14 241.5v-3.6 M349.4 4v7 M349.4 241.5v-7 M356.66 4v3.6 M356.66 241.5v-3.6 M363.92 4v3.6 M363.92 241.5v-3.6 M371.18 4v3.6 M371.18 241.5v-3.6 M378.44 4v3.6 M378.44 241.5v-3.6 M385.7 4v7 M385.7 241.5v-7 M392.96 4v3.6 M392.96 241.5v-3.6 M400.22 4v3.6 M400.22 241.5v-3.6 M407.48 4v3.6 M407.48 241.5v-3.6 M414.74 4v3.6 M414.74 241.5v-3.6" stroke-width="1.7"/>
</g>
<g stroke="#000" fill="none" stroke-width="2">
<path d="M59 311.9H422" stroke-dasharray="2.9 1.9" stroke-width="1.9"/>
</g>
<g stroke="#000" stroke-width="1.5" fill="#000">
<path d="M59.03 308.77H66.23"/>
<circle cx="62.63" cy="308.77" r="2.9" stroke="none"/>
</g>
<g stroke="#000" fill="none" stroke-width="2">
<rect x="59" y="256.2" width="363" height="111.8" stroke-width="2.2"/>
<path d="M66.26 256.2v2.6 M66.26 368v-2.6 M73.52 256.2v2.6 M73.52 368v-2.6 M80.78 256.2v2.6 M80.78 368v-2.6 M88.04 256.2v2.6 M88.04 368v-2.6 M95.3 256.2v4.8 M95.3 368v-4.8 M102.56 256.2v2.6 M102.56 368v-2.6 M109.82 256.2v2.6 M109.82 368v-2.6 M117.08 256.2v2.6 M117.08 368v-2.6 M124.34 256.2v2.6 M124.34 368v-2.6 M131.6 256.2v4.8 M131.6 368v-4.8 M138.86 256.2v2.6 M138.86 368v-2.6 M146.12 256.2v2.6 M146.12 368v-2.6 M153.38 256.2v2.6 M153.38 368v-2.6 M160.64 256.2v2.6 M160.64 368v-2.6 M167.9 256.2v4.8 M167.9 368v-4.8 M175.16 256.2v2.6 M175.16 368v-2.6 M182.42 256.2v2.6 M182.42 368v-2.6 M189.68 256.2v2.6 M189.68 368v-2.6 M196.94 256.2v2.6 M196.94 368v-2.6 M204.2 256.2v4.8 M204.2 368v-4.8 M211.46 256.2v2.6 M211.46 368v-2.6 M218.72 256.2v2.6 M218.72 368v-2.6 M225.98 256.2v2.6 M225.98 368v-2.6 M233.24 256.2v2.6 M233.24 368v-2.6 M240.5 256.2v4.8 M240.5 368v-4.8 M247.76 256.2v2.6 M247.76 368v-2.6 M255.02 256.2v2.6 M255.02 368v-2.6 M262.28 256.2v2.6 M262.28 368v-2.6 M269.54 256.2v2.6 M269.54 368v-2.6 M276.8 256.2v4.8 M276.8 368v-4.8 M284.06 256.2v2.6 M284.06 368v-2.6 M291.32 256.2v2.6 M291.32 368v-2.6 M298.58 256.2v2.6 M298.58 368v-2.6 M305.84 256.2v2.6 M305.84 368v-2.6 M313.1 256.2v4.8 M313.1 368v-4.8 M320.36 256.2v2.6 M320.36 368v-2.6 M327.62 256.2v2.6 M327.62 368v-2.6 M334.88 256.2v2.6 M334.88 368v-2.6 M342.14 256.2v2.6 M342.14 368v-2.6 M349.4 256.2v4.8 M349.4 368v-4.8 M356.66 256.2v2.6 M356.66 368v-2.6 M363.92 256.2v2.6 M363.92 368v-2.6 M371.18 256.2v2.6 M371.18 368v-2.6 M378.44 256.2v2.6 M378.44 368v-2.6 M385.7 256.2v4.8 M385.7 368v-4.8 M392.96 256.2v2.6 M392.96 368v-2.6 M400.22 256.2v2.6 M400.22 368v-2.6 M407.48 256.2v2.6 M407.48 368v-2.6 M414.74 256.2v2.6 M414.74 368v-2.6" stroke-width="1.7"/>
<path d="M59 362.07h4.8 M422 362.07h-4.8 M59 356.5h9.5 M422 356.5h-9.5 M59 350.92h4.8 M422 350.92h-4.8 M59 345.35h4.8 M422 345.35h-4.8 M59 339.77h4.8 M422 339.77h-4.8 M59 334.2h9.5 M422 334.2h-9.5 M59 328.62h4.8 M422 328.62h-4.8 M59 323.05h4.8 M422 323.05h-4.8 M59 317.47h4.8 M422 317.47h-4.8 M59 311.9h9.5 M422 311.9h-9.5 M59 306.32h4.8 M422 306.32h-4.8 M59 300.75h4.8 M422 300.75h-4.8 M59 295.18h4.8 M422 295.18h-4.8 M59 289.6h9.5 M422 289.6h-9.5 M59 284.02h4.8 M422 284.02h-4.8 M59 278.45h4.8 M422 278.45h-4.8 M59 272.87h4.8 M422 272.87h-4.8 M59 267.3h9.5 M422 267.3h-9.5 M59 261.72h4.8 M422 261.72h-4.8" stroke-width="1.8"/>
</g>
<g font-family='"Liberation Sans", Arial, Helvetica, sans-serif' fill="#000" stroke="#000" stroke-width="0.22">
<text x="56.6" y="248.6" font-size="16.6" text-anchor="end">1</text>
<text x="54.4" y="217.3" font-size="16.6" text-anchor="end">10</text>
<text x="49.0" y="187.3" font-size="16.6" text-anchor="end">10</text>
<text x="48.7" y="180.7" font-size="10.8">2</text>
<text x="49.0" y="156.5" font-size="16.6" text-anchor="end">10</text>
<text x="48.7" y="149.9" font-size="10.8">3</text>
<text x="49.0" y="125.7" font-size="16.6" text-anchor="end">10</text>
<text x="48.7" y="119.1" font-size="10.8">4</text>
<text x="49.0" y="94.9" font-size="16.6" text-anchor="end">10</text>
<text x="48.7" y="88.3" font-size="10.8">5</text>
<text x="49.0" y="64.1" font-size="16.6" text-anchor="end">10</text>
<text x="48.7" y="57.5" font-size="10.8">6</text>
<text x="49.0" y="33.3" font-size="16.6" text-anchor="end">10</text>
<text x="48.7" y="26.7" font-size="10.8">7</text>
<text x="56.5" y="273.3" font-size="16.6" text-anchor="end">1.4</text>
<text x="56.5" y="295.6" font-size="16.6" text-anchor="end">1.2</text>
<text x="58.0" y="317.9" font-size="16.6" text-anchor="end">1</text>
<text x="56.5" y="340.2" font-size="16.6" text-anchor="end">0.8</text>
<text x="56.5" y="362.5" font-size="16.6" text-anchor="end">0.6</text>
<text x="59" y="388.7" font-size="16.6" text-anchor="middle">0</text>
<text x="95.3" y="388.7" font-size="16.6" text-anchor="middle">100</text>
<text x="131.6" y="388.7" font-size="16.6" text-anchor="middle">200</text>
<text x="167.9" y="388.7" font-size="16.6" text-anchor="middle">300</text>
<text x="204.2" y="388.7" font-size="16.6" text-anchor="middle">400</text>
<text x="240.5" y="388.7" font-size="16.6" text-anchor="middle">500</text>
<text x="276.8" y="388.7" font-size="16.6" text-anchor="middle">600</text>
<text x="313.1" y="388.7" font-size="16.6" text-anchor="middle">700</text>
<text x="349.4" y="388.7" font-size="16.6" text-anchor="middle">800</text>
<text x="385.7" y="388.7" font-size="16.6" text-anchor="middle">900</text>
<text x="422" y="388.7" font-size="16.6" text-anchor="middle">1000</text>
<text transform="translate(17.7,5.4) rotate(-90)" font-size="21.2" text-anchor="end">Events</text>
<text transform="translate(19.1,252.8) rotate(-90)" font-size="21.5" text-anchor="end">Data/MC</text>
<text x="339.9" y="413.2" font-size="18.9">E</text><text x="351.4" y="404.3" font-size="12.5">miss</text><text x="351.5" y="419.7" font-size="12.4">T</text><text x="431.2" y="413.2" font-size="18.9" text-anchor="end">[GeV]</text>
<path d="M78.7 37l1.1 -0.7l1.2 7.4" fill="none" stroke="#000" stroke-width="1.7" stroke-linejoin="bevel"/><path d="M80.9 44.2l1.5 -11.3h7.8" fill="none" stroke="#000" stroke-width="1.25"/>
<text x="84" y="43.4" font-size="11.9" textLength="106.4" lengthAdjust="spacingAndGlyphs">s = 13 TeV, 36.1 fb</text>
<text x="190.9" y="38" font-size="8.4">-1</text>
<text x="77.2" y="59.6" font-size="11.9" textLength="61.6" lengthAdjust="spacingAndGlyphs">≥4j, ≥1b, 1l</text>
<text x="78" y="75.6" font-size="11.9" textLength="140" lengthAdjust="spacingAndGlyphs">MET&lt;20, MET+MTW&lt;60</text>
<path d="M241.6 28.3H257.6" stroke="#000" stroke-width="1.4"/><circle cx="249.6" cy="28.3" r="2.9"/>
<text transform="translate(261.2,29.55) scale(1.09,1)" font-size="9.45">Data</text>
<text transform="translate(398,29.55) scale(1.09,1)" font-size="9.45" text-anchor="end">103981</text>
<rect x="242" y="33.16" width="15.2" height="7.2" fill="#ffffff" stroke="#000" stroke-width="1.5"/>
<text transform="translate(261.2,40.76) scale(1.09,1)" font-size="9.45">tt+light-jets</text>
<path d="M263.8 32.06h2.4" stroke="#000" stroke-width="1"/>
<text transform="translate(398,40.76) scale(1.09,1)" font-size="9.45" text-anchor="end">55266.09</text>
<rect x="242" y="44.37" width="15.2" height="7.2" fill="#b8c4ff" stroke="#000" stroke-width="1.5"/>
<text transform="translate(261.2,51.97) scale(1.09,1)" font-size="9.45">tt+≥1c</text>
<path d="M263.8 43.27h2.4" stroke="#000" stroke-width="1"/>
<text transform="translate(398,51.97) scale(1.09,1)" font-size="9.45" text-anchor="end">5857.16</text>
<rect x="242" y="55.58" width="15.2" height="7.2" fill="#4a5cff" stroke="#000" stroke-width="1.5"/>
<text transform="translate(261.2,63.18) scale(1.09,1)" font-size="9.45">tt+≥1b</text>
<path d="M263.8 54.48h2.4" stroke="#000" stroke-width="1"/>
<text transform="translate(398,63.18) scale(1.09,1)" font-size="9.45" text-anchor="end">2226.45</text>
<rect x="242" y="66.79" width="15.2" height="7.2" fill="#45f5ad" stroke="#000" stroke-width="1.5"/>
<text transform="translate(261.2,74.39) scale(1.09,1)" font-size="9.45">single top</text>
<text transform="translate(398,74.39) scale(1.09,1)" font-size="9.45" text-anchor="end">4447.40</text>
<rect x="242" y="78" width="15.2" height="7.2" fill="#1e6a06" stroke="#000" stroke-width="1.5"/>
<text transform="translate(261.2,85.6) scale(1.09,1)" font-size="9.45">W+jets</text>
<text transform="translate(398,85.6) scale(1.09,1)" font-size="9.45" text-anchor="end">13820.29</text>
<rect x="242" y="89.21" width="15.2" height="7.2" fill="#30c010" stroke="#000" stroke-width="1.5"/>
<text transform="translate(261.2,96.81) scale(1.09,1)" font-size="9.45">Z+jets</text>
<text transform="translate(398,96.81) scale(1.09,1)" font-size="9.45" text-anchor="end">3985.38</text>
<rect x="242" y="100.42" width="15.2" height="7.2" fill="#50fa30" stroke="#000" stroke-width="1.5"/>
<text transform="translate(261.2,108.02) scale(1.09,1)" font-size="9.45">diboson</text>
<text transform="translate(398,108.02) scale(1.09,1)" font-size="9.45" text-anchor="end">429.19</text>
<rect x="242" y="111.63" width="15.2" height="7.2" fill="#22c084" stroke="#000" stroke-width="1.5"/>
<text transform="translate(261.2,119.23) scale(1.09,1)" font-size="9.45">tt + X</text>
<text transform="translate(398,119.23) scale(1.09,1)" font-size="9.45" text-anchor="end">221.96</text>
<rect x="242" y="122.84" width="15.2" height="7.2" fill="#cacaca" stroke="#000" stroke-width="1.5"/>
<text transform="translate(261.2,130.44) scale(1.09,1)" font-size="9.45">QCD fake</text>
<text transform="translate(398,130.44) scale(1.09,1)" font-size="9.45" text-anchor="end">14887.26</text>
<text transform="translate(261.2,141.65) scale(1.09,1)" font-size="9.45">Total bg</text>
<text transform="translate(398,141.65) scale(1.09,1)" font-size="9.45" text-anchor="end">101141.20</text>
</g>
</g>
<g font-family='"Liberation Serif", "Times New Roman", Times, serif' fill="#000" stroke="#000" stroke-width="0.3"><text transform="translate(1049.3,936.0) scale(1.04,1)" font-size="30.0">(f)</text><text transform="translate(1092.6,936.0) scale(1.04,1)" font-size="30.0" font-style="italic">E</text><text transform="translate(1112.6,923.5) scale(1.04,1)" font-size="24.0">miss</text><text transform="translate(1113.2,948.2) scale(1.04,1)" font-size="24.0">T</text><text transform="translate(1169.0,936.0) scale(1.04,1)" font-size="30.0">in</text><text transform="translate(1201.6,936.0) scale(1.04,1)" font-size="30.0" font-style="italic">mu</text></g>
<g transform="translate(229.4,1002)">
<g stroke="#000" stroke-width="1.85" stroke-linejoin="miter">
<path d="M69.37 241.5 V95 H79.74 V90.3 H90.11 V100.2 H100.49 V112.3 H110.86 V123.3 H121.23 V133.1 H131.6 V142.9 H141.97 V151.6 H152.34 V159.7 H162.71 V167.8 H173.09 V174.1 H183.46 V181.3 H193.83 V192.3 H204.2 V192.8 H214.57 V193.3 H224.94 V190.6 H235.31 V228.4 H245.69 V229.9 H256.06 V237.1 H266.43 V225.8 H276.8 V206.2 H287.17 V241.5" fill="#ffffff"/>
<path d="M69.37 241.5 V98.1 H79.74 V97.5 H90.11 V108.5 H100.49 V120.1 H110.86 V131.6 H121.23 V140.3 H131.6 V150.1 H141.97 V160.5 H152.34 V164.6 H162.71 V175 H173.09 V178.4 H183.46 V186.5 H193.83 V198.2 H204.2 V195.5 H214.57 V193.8 H224.94 V190.6 H235.31 V230.6 H245.69 V241.5 H256.06 V241.5 H266.43 V226.2 H276.8 V207.3 H287.17 V241.5" fill="#b8c4ff"/>
<path d="M69.37 241.5 V98.92 H79.74 V98.52 H90.11 V109.71 H100.49 V121.43 H110.86 V133 H121.23 V141.76 H131.6 V151.44 H141.97 V161.96 H152.34 V166.32 H162.71 V176.77 H173.09 V179.42 H183.46 V188.11 H193.83 V201.5 H204.2 V196.41 H214.57 V194.6 H224.94 V191.2 H235.31 V237.8 H245.69 V241.5 H256.06 V241.5 H266.43 V227 H276.8 V207.59 H287.17 V241.5" fill="#4a5cff"/>
<path d="M69.37 241.5 V99.67 H79.74 V99.45 H90.11 V110.81 H100.49 V122.64 H110.86 V134.27 H121.23 V143.09 H131.6 V152.66 H141.97 V163.29 H152.34 V167.88 H162.71 V178.38 H173.09 V180.35 H183.46 V189.57 H193.83 V203.5 H204.2 V197.24 H214.57 V195.2 H224.94 V191.8 H235.31 V241.5 H245.69 V241.5 H256.06 V241.5 H266.43 V228 H276.8 V207.85 H287.17 V241.5" fill="#45f5ad"/>
<path d="M69.37 241.5 V100.5 H79.74 V100.48 H90.11 V112.02 H100.49 V123.97 H110.86 V135.66 H121.23 V144.56 H131.6 V154 H141.97 V164.76 H152.34 V169.59 H162.71 V180.15 H173.09 V181.38 H183.46 V191.17 H193.83 V206.5 H204.2 V198.16 H214.57 V196 H224.94 V192.4 H235.31 V241.5 H245.69 V241.5 H256.06 V241.5 H266.43 V229 H276.8 V208.13 H287.17 V241.5" fill="#1e6a06"/>
<path d="M69.37 241.5 V102.9 H79.74 V103.45 H90.11 V115.54 H100.49 V127.84 H110.86 V139.73 H121.23 V148.81 H131.6 V157.91 H141.97 V169.01 H152.34 V174.58 H162.71 V185.3 H173.09 V184.35 H183.46 V195.84 H193.83 V224.5 H204.2 V200.81 H214.57 V206.3 H224.94 V202.7 H235.31 V241.5 H245.69 V241.5 H256.06 V241.5 H266.43 V231.5 H276.8 V208.96 H287.17 V241.5" fill="#30c010"/>
<path d="M69.37 241.5 V104.7 H79.74 V105.9 H90.11 V118.6 H100.49 V131.23 H110.86 V143.28 H121.23 V152.54 H131.6 V161.32 H141.97 V172.74 H152.34 V178.95 H162.71 V189.81 H173.09 V186.8 H183.46 V199.93 H193.83 V241.5 H204.2 V202.9 H214.57 V211.5 H224.94 V206.5 H235.31 V241.5 H245.69 V241.5 H256.06 V241.5 H266.43 V233.6 H276.8 V209 H287.17 V241.5" fill="#50fa30"/>
<path d="M69.37 241.5 V104.7 H79.74 V105.9 H90.11 V118.6 H100.49 V131.3 H110.86 V143.4 H121.23 V152.7 H131.6 V161.4 H141.97 V172.9 H152.34 V179.3 H162.71 V190.2 H173.09 V186.8 H183.46 V200.2 H193.83 V241.5 H204.2 V202.9 H214.57 V214.7 H224.94 V208 H235.31 V241.5 H245.69 V241.5 H256.06 V241.5 H266.43 V235 H276.8 V209 H287.17 V241.5" fill="#22c084"/>
<path d="M69.37 241.5 V104.7 H79.74 V105.9 H90.11 V118.6 H100.49 V131.3 H110.86 V143.4 H121.23 V152.7 H131.6 V161.4 H141.97 V172.9 H152.34 V179.3 H162.71 V190.2 H173.09 V186.8 H183.46 V200.2 H193.83 V241.5 H204.2 V202.9 H214.57 V214.7 H224.94 V208 H235.31 V241.5 H245.69 V241.5 H256.06 V241.5 H266.43 V235.3 H276.8 V209 H287.17 V241.5" fill="#cacaca"/>
</g>
<g stroke="#000" stroke-width="1.5" fill="#000">
<path d="M69.36 95.2H79.76"/>
<circle cx="74.56" cy="95.2" r="2.9" stroke="none"/>
<path d="M79.73 90H90.13"/>
<circle cx="84.93" cy="90" r="2.9" stroke="none"/>
<path d="M90.1 100.2H100.5"/>
<circle cx="95.3" cy="100.2" r="2.9" stroke="none"/>
<path d="M100.47 112H110.87"/>
<circle cx="105.67" cy="112" r="2.9" stroke="none"/>
<path d="M110.84 122.6H121.24"/>
<circle cx="116.04" cy="122.6" r="2.9" stroke="none"/>
<path d="M121.21 132.6H131.61"/>
<circle cx="126.41" cy="132.6" r="2.9" stroke="none"/>
<path d="M131.59 142.6H141.99"/>
<circle cx="136.79" cy="142.6" r="2.9" stroke="none"/>
<path d="M141.96 151H152.36"/>
<circle cx="147.16" cy="151" r="2.9" stroke="none"/>
<path d="M157.53 158.99V160.45"/>
<path d="M152.33 159.7H162.73"/>
<circle cx="157.53" cy="159.7" r="2.9" stroke="none"/>
<path d="M167.9 166.57V168.5"/>
<path d="M162.7 167.5H173.1"/>
<circle cx="167.9" cy="167.5" r="2.9" stroke="none"/>
<path d="M178.27 173.03V175.48"/>
<path d="M173.07 174.2H183.47"/>
<circle cx="178.27" cy="174.2" r="2.9" stroke="none"/>
<path d="M188.64 180.37V183.62"/>
<path d="M183.44 181.9H193.84"/>
<circle cx="188.64" cy="181.9" r="2.9" stroke="none"/>
<path d="M199.01 183.49V187.15"/>
<path d="M193.81 185.2H204.21"/>
<circle cx="199.01" cy="185.2" r="2.9" stroke="none"/>
<path d="M209.39 192.16V197.31"/>
<path d="M204.19 194.5H214.59"/>
<circle cx="209.39" cy="194.5" r="2.9" stroke="none"/>
<path d="M219.76 198.29V204.89"/>
<path d="M214.56 201.2H224.96"/>
<circle cx="219.76" cy="201.2" r="2.9" stroke="none"/>
<path d="M230.13 204.29V212.8"/>
<path d="M224.93 207.9H235.33"/>
<circle cx="230.13" cy="207.9" r="2.9" stroke="none"/>
<path d="M240.5 216.26V231.18"/>
<path d="M235.3 221.8H245.7"/>
<circle cx="240.5" cy="221.8" r="2.9" stroke="none"/>
<path d="M250.87 216.26V231.18"/>
<path d="M245.67 221.8H256.07"/>
<circle cx="250.87" cy="221.8" r="2.9" stroke="none"/>
<path d="M261.24 216.26V231.18"/>
<path d="M256.04 221.8H266.44"/>
<circle cx="261.24" cy="221.8" r="2.9" stroke="none"/>
<path d="M271.61 220.95V240.33"/>
<path d="M266.41 227.5H276.81"/>
<circle cx="271.61" cy="227.5" r="2.9" stroke="none"/>
<path d="M281.99 216.26V231.18"/>
<path d="M276.79 221.8H287.19"/>
<circle cx="281.99" cy="221.8" r="2.9" stroke="none"/>
<path d="M292.36 231.89V241.5"/>
<path d="M287.16 241.5H297.56"/>
<circle cx="292.36" cy="241.5" r="2.9" stroke="none"/>
<path d="M313.1 224.24V241.5"/>
<path d="M307.9 231.6H318.3"/>
<circle cx="313.1" cy="231.6" r="2.9" stroke="none"/>
<path d="M354.59 231.89V241.5"/>
<path d="M349.39 241.5H359.79"/>
<circle cx="354.59" cy="241.5" r="2.9" stroke="none"/>
<path d="M375.33 231.89V241.5"/>
<path d="M370.13 241.5H380.53"/>
<circle cx="375.33" cy="241.5" r="2.9" stroke="none"/>
</g>
<g stroke="#000" fill="none" stroke-width="2">
<rect x="59" y="4" width="363" height="237.5" stroke-width="2.2"/>
<path d="M59 231.9h6.4 M422 231.9h-6.4 M59 226.28h6.4 M422 226.28h-6.4 M59 222.29h6.4 M422 222.29h-6.4 M59 219.19h6.4 M422 219.19h-6.4 M59 216.66h6.4 M422 216.66h-6.4 M59 214.53h6.4 M422 214.53h-6.4 M59 212.67h6.4 M422 212.67h-6.4 M59 211.04h6.4 M422 211.04h-6.4 M59 209.58h12.8 M422 209.58h-12.8 M59 199.97h6.4 M422 199.97h-6.4 M59 194.35h6.4 M422 194.35h-6.4 M59 190.36h6.4 M422 190.36h-6.4 M59 187.26h6.4 M422 187.26h-6.4 M59 184.73h6.4 M422 184.73h-6.4 M59 182.6h6.4 M422 182.6h-6.4 M59 180.74h6.4 M422 180.74h-6.4 M59 179.11h6.4 M422 179.11h-6.4 M59 177.65h12.8 M422 177.65h-12.8 M59 168.04h6.4 M422 168.04h-6.4 M59 162.42h6.4 M422 162.42h-6.4 M59 158.43h6.4 M422 158.43h-6.4 M59 155.33h6.4 M422 155.33h-6.4 M59 152.8h6.4 M422 152.8h-6.4 M59 150.67h6.4 M422 150.67h-6.4 M59 148.81h6.4 M422 148.81h-6.4 M59 147.18h6.4 M422 147.18h-6.4 M59 145.72h12.8 M422 145.72h-12.8 M59 136.11h6.4 M422 136.11h-6.4 M59 130.49h6.4 M422 130.49h-6.4 M59 126.5h6.4 M422 126.5h-6.4 M59 123.4h6.4 M422 123.4h-6.4 M59 120.87h6.4 M422 120.87h-6.4 M59 118.74h6.4 M422 118.74h-6.4 M59 116.88h6.4 M422 116.88h-6.4 M59 115.25h6.4 M422 115.25h-6.4 M59 113.79h12.8 M422 113.79h-12.8 M59 104.18h6.4 M422 104.18h-6.4 M59 98.56h6.4 M422 98.56h-6.4 M59 94.57h6.4 M422 94.57h-6.4 M59 91.47h6.4 M422 91.47h-6.4 M59 88.94h6.4 M422 88.94h-6.4 M59 86.81h6.4 M422 86.81h-6.4 M59 84.95h6.4 M422 84.95h-6.4 M59 83.32h6.4 M422 83.32h-6.4 M59 81.86h12.8 M422 81.86h-12.8 M59 72.25h6.4 M422 72.25h-6.4 M59 66.63h6.4 M422 66.63h-6.4 M59 62.64h6.4 M422 62.64h-6.4 M59 59.54h6.4 M422 59.54h-6.4 M59 57.01h6.4 M422 57.01h-6.4 M59 54.88h6.4 M422 54.88h-6.4 M59 53.02h6.4 M422 53.02h-6.4 M59 51.39h6.4 M422 51.39h-6.4 M59 49.93h12.8 M422 49.93h-12.8 M59 40.32h6.4 M422 40.32h-6.4 M59 34.7h6.4 M422 34.7h-6.4 M59 30.71h6.4 M422 30.71h-6.4 M59 27.61h6.4 M422 27.61h-6.4 M59 25.08h6.4 M422 25.08h-6.4 M59 22.95h6.4 M422 22.95h-6.4 M59 21.09h6.4 M422 21.09h-6.4 M59 19.46h6.4 M422 19.46h-6.4 M59 18h12.8 M422 18h-12.8 M59 8.39h6.4 M422 8.39h-6.4"/>
<path d="M69.37 4v3.6 M69.37 241.5v-3.6 M79.74 4v3.6 M79.74 241.5v-3.6 M90.11 4v3.6 M90.11 241.5v-3.6 M100.49 4v3.6 M100.49 241.5v-3.6 M110.86 4v7 M110.86 241.5v-7 M121.23 4v3.6 M121.23 241.5v-3.6 M131.6 4v3.6 M131.6 241.5v-3.6 M141.97 4v3.6 M141.97 241.5v-3.6 M152.34 4v3.6 M152.34 241.5v-3.6 M162.71 4v7 M162.71 241.5v-7 M173.09 4v3.6 M173.09 241.5v-3.6 M183.46 4v3.6 M183.46 241.5v-3.6 M193.83 4v3.6 M193.83 241.5v-3.6 M204.2 4v3.6 M204.2 241.5v-3.6 M214.57 4v7 M214.57 241.5v-7 M224.94 4v3.6 M224.94 241.5v-3.6 M235.31 4v3.6 M235.31 241.5v-3.6 M245.69 4v3.6 M245.69 241.5v-3.6 M256.06 4v3.6 M256.06 241.5v-3.6 M266.43 4v7 M266.43 241.5v-7 M276.8 4v3.6 M276.8 241.5v-3.6 M287.17 4v3.6 M287.17 241.5v-3.6 M297.54 4v3.6 M297.54 241.5v-3.6 M307.91 4v3.6 M307.91 241.5v-3.6 M318.29 4v7 M318.29 241.5v-7 M328.66 4v3.6 M328.66 241.5v-3.6 M339.03 4v3.6 M339.03 241.5v-3.6 M349.4 4v3.6 M349.4 241.5v-3.6 M359.77 4v3.6 M359.77 241.5v-3.6 M370.14 4v7 M370.14 241.5v-7 M380.51 4v3.6 M380.51 241.5v-3.6 M390.89 4v3.6 M390.89 241.5v-3.6 M401.26 4v3.6 M401.26 241.5v-3.6 M411.63 4v3.6 M411.63 241.5v-3.6" stroke-width="1.7"/>
</g>
<g stroke="#000" fill="none" stroke-width="2">
<path d="M59 311.9H422" stroke-dasharray="2.9 1.9" stroke-width="1.9"/>
</g>
<g stroke="#000" stroke-width="1.5" fill="#000">
<path d="M69.36 316.5H79.76"/>
<circle cx="74.56" cy="316.5" r="2.9" stroke="none"/>
<path d="M79.73 315.1H90.13"/>
<circle cx="84.93" cy="315.1" r="2.9" stroke="none"/>
<path d="M90.1 315.1H100.5"/>
<circle cx="95.3" cy="315.1" r="2.9" stroke="none"/>
<path d="M100.47 311.1H110.87"/>
<circle cx="105.67" cy="311.1" r="2.9" stroke="none"/>
<path d="M110.84 305.3H121.24"/>
<circle cx="116.04" cy="305.3" r="2.9" stroke="none"/>
<path d="M126.41 307.1V315.1"/>
<path d="M121.21 311.1H131.61"/>
<circle cx="126.41" cy="311.1" r="2.9" stroke="none"/>
<path d="M136.79 303.8V313.8"/>
<path d="M131.59 308.8H141.99"/>
<circle cx="136.79" cy="308.8" r="2.9" stroke="none"/>
<path d="M147.16 294.2V312.2"/>
<path d="M141.96 303.2H152.36"/>
<circle cx="147.16" cy="303.2" r="2.9" stroke="none"/>
<path d="M157.53 306.3V326.7"/>
<path d="M152.33 316.5H162.73"/>
<circle cx="157.53" cy="316.5" r="2.9" stroke="none"/>
<path d="M167.9 288.5V321.1"/>
<path d="M162.7 304.8H173.1"/>
<circle cx="167.9" cy="304.8" r="2.9" stroke="none"/>
<path d="M178.27 305.9V338.7"/>
<path d="M173.07 322.3H183.47"/>
<circle cx="178.27" cy="322.3" r="2.9" stroke="none"/>
<path d="M188.64 297.6V345.2"/>
<path d="M183.44 321.4H193.84"/>
<circle cx="188.64" cy="321.4" r="2.9" stroke="none"/>
<path d="M209.39 281.2V362"/>
<path d="M204.19 321.6H214.59"/>
<circle cx="209.39" cy="321.6" r="2.9" stroke="none"/>
<path d="M219.76 344V368"/>
<path d="M214.56 366.8H224.96"/>
<circle cx="219.76" cy="366.8" r="2.9" stroke="none"/>
<path d="M240.5 256.2V368"/>
<path d="M235.3 311.1H245.7"/>
<circle cx="240.5" cy="311.1" r="2.9" stroke="none"/>
<path d="M271.61 256.2V368"/>
<path d="M266.41 318.6H276.81"/>
<circle cx="271.61" cy="318.6" r="2.9" stroke="none"/>
<path d="M375.33 256.2V368"/>
<path d="M370.13 311.6H380.53"/>
<circle cx="375.33" cy="311.6" r="2.9" stroke="none"/>
</g>
<g stroke="#000" fill="none" stroke-width="2">
<rect x="59" y="256.2" width="363" height="111.8" stroke-width="2.2"/>
<path d="M69.37 256.2v2.6 M69.37 368v-2.6 M79.74 256.2v2.6 M79.74 368v-2.6 M90.11 256.2v2.6 M90.11 368v-2.6 M100.49 256.2v2.6 M100.49 368v-2.6 M110.86 256.2v4.8 M110.86 368v-4.8 M121.23 256.2v2.6 M121.23 368v-2.6 M131.6 256.2v2.6 M131.6 368v-2.6 M141.97 256.2v2.6 M141.97 368v-2.6 M152.34 256.2v2.6 M152.34 368v-2.6 M162.71 256.2v4.8 M162.71 368v-4.8 M173.09 256.2v2.6 M173.09 368v-2.6 M183.46 256.2v2.6 M183.46 368v-2.6 M193.83 256.2v2.6 M193.83 368v-2.6 M204.2 256.2v2.6 M204.2 368v-2.6 M214.57 256.2v4.8 M214.57 368v-4.8 M224.94 256.2v2.6 M224.94 368v-2.6 M235.31 256.2v2.6 M235.31 368v-2.6 M245.69 256.2v2.6 M245.69 368v-2.6 M256.06 256.2v2.6 M256.06 368v-2.6 M266.43 256.2v4.8 M266.43 368v-4.8 M276.8 256.2v2.6 M276.8 368v-2.6 M287.17 256.2v2.6 M287.17 368v-2.6 M297.54 256.2v2.6 M297.54 368v-2.6 M307.91 256.2v2.6 M307.91 368v-2.6 M318.29 256.2v4.8 M318.29 368v-4.8 M328.66 256.2v2.6 M328.66 368v-2.6 M339.03 256.2v2.6 M339.03 368v-2.6 M349.4 256.2v2.6 M349.4 368v-2.6 M359.77 256.2v2.6 M359.77 368v-2.6 M370.14 256.2v4.8 M370.14 368v-4.8 M380.51 256.2v2.6 M380.51 368v-2.6 M390.89 256.2v2.6 M390.89 368v-2.6 M401.26 256.2v2.6 M401.26 368v-2.6 M411.63 256.2v2.6 M411.63 368v-2.6" stroke-width="1.7"/>
<path d="M59 362.07h4.8 M422 362.07h-4.8 M59 356.5h9.5 M422 356.5h-9.5 M59 350.92h4.8 M422 350.92h-4.8 M59 345.35h4.8 M422 345.35h-4.8 M59 339.77h4.8 M422 339.77h-4.8 M59 334.2h9.5 M422 334.2h-9.5 M59 328.62h4.8 M422 328.62h-4.8 M59 323.05h4.8 M422 323.05h-4.8 M59 317.47h4.8 M422 317.47h-4.8 M59 311.9h9.5 M422 311.9h-9.5 M59 306.32h4.8 M422 306.32h-4.8 M59 300.75h4.8 M422 300.75h-4.8 M59 295.18h4.8 M422 295.18h-4.8 M59 289.6h9.5 M422 289.6h-9.5 M59 284.02h4.8 M422 284.02h-4.8 M59 278.45h4.8 M422 278.45h-4.8 M59 272.87h4.8 M422 272.87h-4.8 M59 267.3h9.5 M422 267.3h-9.5 M59 261.72h4.8 M422 261.72h-4.8" stroke-width="1.8"/>
</g>
<g font-family='"Liberation Sans", Arial, Helvetica, sans-serif' fill="#000" stroke="#000" stroke-width="0.22">
<text x="56.6" y="248.71" font-size="16.6" text-anchor="end">1</text>
<text x="54.4" y="216.28" font-size="16.6" text-anchor="end">10</text>
<text x="49.0" y="185.15" font-size="16.6" text-anchor="end">10</text>
<text x="48.7" y="178.55" font-size="10.8">2</text>
<text x="49.0" y="153.22" font-size="16.6" text-anchor="end">10</text>
<text x="48.7" y="146.62" font-size="10.8">3</text>
<text x="49.0" y="121.29" font-size="16.6" text-anchor="end">10</text>
<text x="48.7" y="114.69" font-size="10.8">4</text>
<text x="49.0" y="89.36" font-size="16.6" text-anchor="end">10</text>
<text x="48.7" y="82.76" font-size="10.8">5</text>
<text x="49.0" y="57.43" font-size="16.6" text-anchor="end">10</text>
<text x="48.7" y="50.83" font-size="10.8">6</text>
<text x="49.0" y="25.5" font-size="16.6" text-anchor="end">10</text>
<text x="48.7" y="18.9" font-size="10.8">7</text>
<text x="56.5" y="273.3" font-size="16.6" text-anchor="end">1.4</text>
<text x="56.5" y="295.6" font-size="16.6" text-anchor="end">1.2</text>
<text x="58.0" y="317.9" font-size="16.6" text-anchor="end">1</text>
<text x="56.5" y="340.2" font-size="16.6" text-anchor="end">0.8</text>
<text x="56.5" y="362.5" font-size="16.6" text-anchor="end">0.6</text>
<text x="59" y="388.7" font-size="16.6" text-anchor="middle">0</text>
<text x="110.86" y="388.7" font-size="16.6" text-anchor="middle">500</text>
<text x="162.71" y="388.7" font-size="16.6" text-anchor="middle">1000</text>
<text x="214.57" y="388.7" font-size="16.6" text-anchor="middle">1500</text>
<text x="266.43" y="388.7" font-size="16.6" text-anchor="middle">2000</text>
<text x="318.29" y="388.7" font-size="16.6" text-anchor="middle">2500</text>
<text x="370.14" y="388.7" font-size="16.6" text-anchor="middle">3000</text>
<text x="422" y="388.7" font-size="16.6" text-anchor="middle">3500</text>
<text transform="translate(17.7,5.4) rotate(-90)" font-size="21.2" text-anchor="end">Events</text>
<text transform="translate(19.1,252.8) rotate(-90)" font-size="21.5" text-anchor="end">Data/MC</text>
<text x="346.8" y="413.5" font-size="18.9">h</text><text x="357" y="403.6" font-size="12">had</text><text x="356.4" y="420.1" font-size="12.4">T</text><text x="431" y="413.5" font-size="18.9" text-anchor="end">[GeV]</text>
<path d="M78.7 37l1.1 -0.7l1.2 7.4" fill="none" stroke="#000" stroke-width="1.7" stroke-linejoin="bevel"/><path d="M80.9 44.2l1.5 -11.3h7.8" fill="none" stroke="#000" stroke-width="1.25"/>
<text x="84" y="43.4" font-size="11.9" textLength="106.4" lengthAdjust="spacingAndGlyphs">s = 13 TeV, 36.1 fb</text>
<text x="190.9" y="38" font-size="8.4">-1</text>
<text x="77.2" y="59.6" font-size="11.9" textLength="61.6" lengthAdjust="spacingAndGlyphs">≥4j, ≥1b, 1l</text>
<text x="78" y="75.6" font-size="11.9" textLength="140" lengthAdjust="spacingAndGlyphs">MET&lt;20, MET+MTW&lt;60</text>
<path d="M241.6 28.3H257.6" stroke="#000" stroke-width="1.4"/><circle cx="249.6" cy="28.3" r="2.9"/>
<text transform="translate(261.2,29.55) scale(1.09,1)" font-size="9.45">Data</text>
<text transform="translate(398,29.55) scale(1.09,1)" font-size="9.45" text-anchor="end">141288</text>
<rect x="242" y="33.16" width="15.2" height="7.2" fill="#ffffff" stroke="#000" stroke-width="1.5"/>
<text transform="translate(261.2,40.76) scale(1.09,1)" font-size="9.45">tt+light-jets</text>
<path d="M263.8 32.06h2.4" stroke="#000" stroke-width="1"/>
<text transform="translate(398,40.76) scale(1.09,1)" font-size="9.45" text-anchor="end">57669.09</text>
<rect x="242" y="44.37" width="15.2" height="7.2" fill="#b8c4ff" stroke="#000" stroke-width="1.5"/>
<text transform="translate(261.2,51.97) scale(1.09,1)" font-size="9.45">tt+≥1c</text>
<path d="M263.8 43.27h2.4" stroke="#000" stroke-width="1"/>
<text transform="translate(398,51.97) scale(1.09,1)" font-size="9.45" text-anchor="end">6265.98</text>
<rect x="242" y="55.58" width="15.2" height="7.2" fill="#4a5cff" stroke="#000" stroke-width="1.5"/>
<text transform="translate(261.2,63.18) scale(1.09,1)" font-size="9.45">tt+≥1b</text>
<path d="M263.8 54.48h2.4" stroke="#000" stroke-width="1"/>
<text transform="translate(398,63.18) scale(1.09,1)" font-size="9.45" text-anchor="end">2376.17</text>
<rect x="242" y="66.79" width="15.2" height="7.2" fill="#45f5ad" stroke="#000" stroke-width="1.5"/>
<text transform="translate(261.2,74.39) scale(1.09,1)" font-size="9.45">single top</text>
<text transform="translate(398,74.39) scale(1.09,1)" font-size="9.45" text-anchor="end">4626.83</text>
<rect x="242" y="78" width="15.2" height="7.2" fill="#1e6a06" stroke="#000" stroke-width="1.5"/>
<text transform="translate(261.2,85.6) scale(1.09,1)" font-size="9.45">W+jets</text>
<text transform="translate(398,85.6) scale(1.09,1)" font-size="9.45" text-anchor="end">14014.00</text>
<rect x="242" y="89.21" width="15.2" height="7.2" fill="#30c010" stroke="#000" stroke-width="1.5"/>
<text transform="translate(261.2,96.81) scale(1.09,1)" font-size="9.45">Z+jets</text>
<text transform="translate(398,96.81) scale(1.09,1)" font-size="9.45" text-anchor="end">11993.87</text>
<rect x="242" y="100.42" width="15.2" height="7.2" fill="#50fa30" stroke="#000" stroke-width="1.5"/>
<text transform="translate(261.2,108.02) scale(1.09,1)" font-size="9.45">diboson</text>
<text transform="translate(398,108.02) scale(1.09,1)" font-size="9.45" text-anchor="end">585.54</text>
<rect x="242" y="111.63" width="15.2" height="7.2" fill="#22c084" stroke="#000" stroke-width="1.5"/>
<text transform="translate(261.2,119.23) scale(1.09,1)" font-size="9.45">tt + X</text>
<text transform="translate(398,119.23) scale(1.09,1)" font-size="9.45" text-anchor="end">241.69</text>
<rect x="242" y="122.84" width="15.2" height="7.2" fill="#cacaca" stroke="#000" stroke-width="1.5"/>
<text transform="translate(261.2,130.44) scale(1.09,1)" font-size="9.45">QCD fake</text>
<text transform="translate(398,130.44) scale(1.09,1)" font-size="9.45" text-anchor="end">47182.29</text>
<text transform="translate(261.2,141.65) scale(1.09,1)" font-size="9.45">Total bg</text>
<text transform="translate(398,141.65) scale(1.09,1)" font-size="9.45" text-anchor="end">144955.45</text>
</g>
</g>
<g font-family='"Liberation Serif", "Times New Roman", Times, serif' fill="#000" stroke="#000" stroke-width="0.3"><text transform="translate(381.5,1452.9) scale(1.04,1)" font-size="30.0">(g)</text><text transform="translate(428.6,1452.9) scale(1.04,1)" font-size="30.0" font-style="italic">H</text><text transform="translate(452.6,1440.4) scale(1.04,1)" font-size="24.0">had</text><text transform="translate(453.0,1465.1) scale(1.04,1)" font-size="24.0">T</text><text transform="translate(499.6,1452.9) scale(1.04,1)" font-size="30.0">in</text><text transform="translate(532.2,1452.9) scale(1.04,1)" font-size="30.0" font-style="italic">el</text></g>
<g transform="translate(688.4,1002)">
<g stroke="#000" stroke-width="1.85" stroke-linejoin="miter">
<path d="M69.37 241.5 V100.2 H79.74 V92.1 H90.11 V101.3 H100.49 V112.9 H110.86 V123.9 H121.23 V134.3 H131.6 V144.1 H141.97 V152.2 H152.34 V161.4 H162.71 V168.4 H173.09 V176.4 H183.46 V186.6 H193.83 V190.2 H204.2 V196.4 H214.57 V203.6 H224.94 V207.8 H235.31 V218.1 H245.69 V225.3 H256.06 V236.1 H266.43 V228.9 H276.8 V234.6 H287.17 V241.5" fill="#ffffff"/>
<path d="M69.37 241.5 V107.4 H79.74 V103.3 H90.11 V113.7 H100.49 V124.7 H110.86 V135.7 H121.23 V143.8 H131.6 V152.4 H141.97 V158.2 H152.34 V170.9 H162.71 V180.2 H173.09 V183.1 H183.46 V196.3 H193.83 V196.5 H204.2 V205.3 H214.57 V209.4 H224.94 V214.1 H235.31 V227 H245.69 V234.7 H256.06 V241.5 H266.43 V231.6 H276.8 V236.4 H287.17 V241.5" fill="#b8c4ff"/>
<path d="M69.37 241.5 V108.62 H79.74 V105.6 H90.11 V116.18 H100.49 V127.4 H110.86 V138.8 H121.23 V146.5 H131.6 V154.92 H141.97 V160.5 H152.34 V173.82 H162.71 V183.51 H173.09 V185.37 H183.46 V200.6 H193.83 V199.8 H204.2 V209.2 H214.57 V211.6 H224.94 V217.2 H235.31 V230.8 H245.69 V237.6 H256.06 V241.5 H266.43 V234 H276.8 V237.6 H287.17 V241.5" fill="#4a5cff"/>
<path d="M69.37 241.5 V109.58 H79.74 V107.4 H90.11 V118.12 H100.49 V129.5 H110.86 V141.2 H121.23 V148.6 H131.6 V156.88 H141.97 V162.3 H152.34 V176.08 H162.71 V186.09 H173.09 V187.13 H183.46 V203.2 H193.83 V201.4 H204.2 V212.4 H214.57 V213.6 H224.94 V220.3 H235.31 V232.6 H245.69 V239 H256.06 V241.5 H266.43 V236.8 H276.8 V238.6 H287.17 V241.5" fill="#45f5ad"/>
<path d="M69.37 241.5 V110.8 H79.74 V109.7 H90.11 V120.6 H100.49 V132.2 H110.86 V144.3 H121.23 V151.3 H131.6 V159.4 H141.97 V164.6 H152.34 V179 H162.71 V189.4 H173.09 V189.4 H183.46 V209.4 H193.83 V202.9 H204.2 V215.1 H214.57 V215.3 H224.94 V224.4 H235.31 V234.5 H245.69 V241.5 H256.06 V241.5 H266.43 V241.5 H276.8 V239.6 H287.17 V241.5" fill="#1e6a06"/>
<path d="M69.37 241.5 V115.4 H79.74 V116 H90.11 V128.7 H100.49 V139.7 H110.86 V151.9 H121.23 V159.4 H131.6 V166.3 H141.97 V176.1 H152.34 V181.9 H162.71 V197.5 H173.09 V194.6 H183.46 V212.5 H193.83 V222.3 H204.2 V225.9 H214.57 V230 H224.94 V233.1 H235.31 V241.5 H245.69 V241.5 H256.06 V241.5 H266.43 V241.5 H276.8 V241.5 H287.17 V241.5" fill="#30c010"/>
<path d="M69.37 241.5 V118.92 H79.74 V119.07 H90.11 V131.77 H100.49 V143.15 H110.86 V155.35 H121.23 V163.3 H131.6 V169.3 H141.97 V180 H152.34 V185.35 H162.71 V202.68 H173.09 V201.12 H183.46 V215 H193.83 V226.4 H204.2 V232.6 H214.57 V234.2 H224.94 V234.6 H235.31 V241.5 H245.69 V241.5 H256.06 V241.5 H266.43 V241.5 H276.8 V241.5 H287.17 V241.5" fill="#50fa30"/>
<path d="M69.37 241.5 V119.2 H79.74 V119.2 H90.11 V131.9 H100.49 V143.4 H110.86 V155.6 H121.23 V163.7 H131.6 V169.4 H141.97 V180.4 H152.34 V185.6 H162.71 V203.5 H173.09 V202.4 H183.46 V216.6 H193.83 V229 H204.2 V233.6 H214.57 V235.6 H224.94 V236.6 H235.31 V241.5 H245.69 V241.5 H256.06 V241.5 H266.43 V241.5 H276.8 V241.5 H287.17 V241.5" fill="#22c084"/>
<path d="M69.37 241.5 V119.2 H79.74 V119.2 H90.11 V131.9 H100.49 V143.4 H110.86 V155.6 H121.23 V163.7 H131.6 V169.4 H141.97 V180.4 H152.34 V185.6 H162.71 V203.5 H173.09 V202.4 H183.46 V216.8 H193.83 V232.8 H204.2 V237.4 H214.57 V237.4 H224.94 V237.9 H235.31 V241.5 H245.69 V241.5 H256.06 V241.5 H266.43 V241.5 H276.8 V241.5 H287.17 V241.5" fill="#cacaca"/>
</g>
<g stroke="#000" stroke-width="1.5" fill="#000">
<path d="M69.36 99.3H79.76"/>
<circle cx="74.56" cy="99.3" r="2.9" stroke="none"/>
<path d="M79.73 91.5H90.13"/>
<circle cx="84.93" cy="91.5" r="2.9" stroke="none"/>
<path d="M90.1 100.7H100.5"/>
<circle cx="95.3" cy="100.7" r="2.9" stroke="none"/>
<path d="M100.47 112.2H110.87"/>
<circle cx="105.67" cy="112.2" r="2.9" stroke="none"/>
<path d="M110.84 123.5H121.24"/>
<circle cx="116.04" cy="123.5" r="2.9" stroke="none"/>
<path d="M121.21 133.7H131.61"/>
<circle cx="126.41" cy="133.7" r="2.9" stroke="none"/>
<path d="M131.59 143.2H141.99"/>
<circle cx="136.79" cy="143.2" r="2.9" stroke="none"/>
<path d="M141.96 152.2H152.36"/>
<circle cx="147.16" cy="152.2" r="2.9" stroke="none"/>
<path d="M157.53 160.3V161.94"/>
<path d="M152.33 161.1H162.73"/>
<circle cx="157.53" cy="161.1" r="2.9" stroke="none"/>
<path d="M167.9 166.51V168.57"/>
<path d="M162.7 167.5H173.1"/>
<circle cx="167.9" cy="167.5" r="2.9" stroke="none"/>
<path d="M178.27 176.78V179.78"/>
<path d="M173.07 178.2H183.47"/>
<circle cx="178.27" cy="178.2" r="2.9" stroke="none"/>
<path d="M188.64 180.95V184.47"/>
<path d="M183.44 182.6H193.84"/>
<circle cx="188.64" cy="182.6" r="2.9" stroke="none"/>
<path d="M199.01 186.3V190.63"/>
<path d="M193.81 188.3H204.21"/>
<circle cx="199.01" cy="188.3" r="2.9" stroke="none"/>
<path d="M209.39 190.86V196.01"/>
<path d="M204.19 193.2H214.59"/>
<circle cx="209.39" cy="193.2" r="2.9" stroke="none"/>
<path d="M219.76 196.99V203.57"/>
<path d="M214.56 199.9H224.96"/>
<circle cx="219.76" cy="199.9" r="2.9" stroke="none"/>
<path d="M230.13 202.47V210.72"/>
<path d="M224.93 206H235.33"/>
<circle cx="230.13" cy="206" r="2.9" stroke="none"/>
<path d="M240.5 213.5V227.03"/>
<path d="M235.3 218.7H245.7"/>
<circle cx="240.5" cy="218.7" r="2.9" stroke="none"/>
<path d="M250.87 209.39V220.56"/>
<path d="M245.67 213.9H256.07"/>
<circle cx="250.87" cy="213.9" r="2.9" stroke="none"/>
<path d="M261.24 213.5V227.03"/>
<path d="M256.04 218.7H266.44"/>
<circle cx="261.24" cy="218.7" r="2.9" stroke="none"/>
<path d="M292.36 231.72V241.5"/>
<path d="M287.16 241.5H297.56"/>
<circle cx="292.36" cy="241.5" r="2.9" stroke="none"/>
<path d="M313.1 224.08V241.5"/>
<path d="M307.9 231.6H318.3"/>
<circle cx="313.1" cy="231.6" r="2.9" stroke="none"/>
</g>
<g stroke="#000" fill="none" stroke-width="2">
<rect x="59" y="4" width="363" height="237.5" stroke-width="2.2"/>
<path d="M59 231.72h6.4 M422 231.72h-6.4 M59 225.99h6.4 M422 225.99h-6.4 M59 221.93h6.4 M422 221.93h-6.4 M59 218.78h6.4 M422 218.78h-6.4 M59 216.21h6.4 M422 216.21h-6.4 M59 214.03h6.4 M422 214.03h-6.4 M59 212.15h6.4 M422 212.15h-6.4 M59 210.49h6.4 M422 210.49h-6.4 M59 209h12.8 M422 209h-12.8 M59 199.22h6.4 M422 199.22h-6.4 M59 193.49h6.4 M422 193.49h-6.4 M59 189.43h6.4 M422 189.43h-6.4 M59 186.28h6.4 M422 186.28h-6.4 M59 183.71h6.4 M422 183.71h-6.4 M59 181.53h6.4 M422 181.53h-6.4 M59 179.65h6.4 M422 179.65h-6.4 M59 177.99h6.4 M422 177.99h-6.4 M59 176.5h12.8 M422 176.5h-12.8 M59 166.72h6.4 M422 166.72h-6.4 M59 160.99h6.4 M422 160.99h-6.4 M59 156.93h6.4 M422 156.93h-6.4 M59 153.78h6.4 M422 153.78h-6.4 M59 151.21h6.4 M422 151.21h-6.4 M59 149.03h6.4 M422 149.03h-6.4 M59 147.15h6.4 M422 147.15h-6.4 M59 145.49h6.4 M422 145.49h-6.4 M59 144h12.8 M422 144h-12.8 M59 134.22h6.4 M422 134.22h-6.4 M59 128.49h6.4 M422 128.49h-6.4 M59 124.43h6.4 M422 124.43h-6.4 M59 121.28h6.4 M422 121.28h-6.4 M59 118.71h6.4 M422 118.71h-6.4 M59 116.53h6.4 M422 116.53h-6.4 M59 114.65h6.4 M422 114.65h-6.4 M59 112.99h6.4 M422 112.99h-6.4 M59 111.5h12.8 M422 111.5h-12.8 M59 101.72h6.4 M422 101.72h-6.4 M59 95.99h6.4 M422 95.99h-6.4 M59 91.93h6.4 M422 91.93h-6.4 M59 88.78h6.4 M422 88.78h-6.4 M59 86.21h6.4 M422 86.21h-6.4 M59 84.03h6.4 M422 84.03h-6.4 M59 82.15h6.4 M422 82.15h-6.4 M59 80.49h6.4 M422 80.49h-6.4 M59 79h12.8 M422 79h-12.8 M59 69.22h6.4 M422 69.22h-6.4 M59 63.49h6.4 M422 63.49h-6.4 M59 59.43h6.4 M422 59.43h-6.4 M59 56.28h6.4 M422 56.28h-6.4 M59 53.71h6.4 M422 53.71h-6.4 M59 51.53h6.4 M422 51.53h-6.4 M59 49.65h6.4 M422 49.65h-6.4 M59 47.99h6.4 M422 47.99h-6.4 M59 46.5h12.8 M422 46.5h-12.8 M59 36.72h6.4 M422 36.72h-6.4 M59 30.99h6.4 M422 30.99h-6.4 M59 26.93h6.4 M422 26.93h-6.4 M59 23.78h6.4 M422 23.78h-6.4 M59 21.21h6.4 M422 21.21h-6.4 M59 19.03h6.4 M422 19.03h-6.4 M59 17.15h6.4 M422 17.15h-6.4 M59 15.49h6.4 M422 15.49h-6.4 M59 14h12.8 M422 14h-12.8"/>
<path d="M69.37 4v3.6 M69.37 241.5v-3.6 M79.74 4v3.6 M79.74 241.5v-3.6 M90.11 4v3.6 M90.11 241.5v-3.6 M100.49 4v3.6 M100.49 241.5v-3.6 M110.86 4v7 M110.86 241.5v-7 M121.23 4v3.6 M121.23 241.5v-3.6 M131.6 4v3.6 M131.6 241.5v-3.6 M141.97 4v3.6 M141.97 241.5v-3.6 M152.34 4v3.6 M152.34 241.5v-3.6 M162.71 4v7 M162.71 241.5v-7 M173.09 4v3.6 M173.09 241.5v-3.6 M183.46 4v3.6 M183.46 241.5v-3.6 M193.83 4v3.6 M193.83 241.5v-3.6 M204.2 4v3.6 M204.2 241.5v-3.6 M214.57 4v7 M214.57 241.5v-7 M224.94 4v3.6 M224.94 241.5v-3.6 M235.31 4v3.6 M235.31 241.5v-3.6 M245.69 4v3.6 M245.69 241.5v-3.6 M256.06 4v3.6 M256.06 241.5v-3.6 M266.43 4v7 M266.43 241.5v-7 M276.8 4v3.6 M276.8 241.5v-3.6 M287.17 4v3.6 M287.17 241.5v-3.6 M297.54 4v3.6 M297.54 241.5v-3.6 M307.91 4v3.6 M307.91 241.5v-3.6 M318.29 4v7 M318.29 241.5v-7 M328.66 4v3.6 M328.66 241.5v-3.6 M339.03 4v3.6 M339.03 241.5v-3.6 M349.4 4v3.6 M349.4 241.5v-3.6 M359.77 4v3.6 M359.77 241.5v-3.6 M370.14 4v7 M370.14 241.5v-7 M380.51 4v3.6 M380.51 241.5v-3.6 M390.89 4v3.6 M390.89 241.5v-3.6 M401.26 4v3.6 M401.26 241.5v-3.6 M411.63 4v3.6 M411.63 241.5v-3.6" stroke-width="1.7"/>
</g>
<g stroke="#000" fill="none" stroke-width="2">
<path d="M59 311.9H422" stroke-dasharray="2.9 1.9" stroke-width="1.9"/>
</g>
<g stroke="#000" stroke-width="1.5" fill="#000">
<path d="M69.36 302.7H79.76"/>
<circle cx="74.56" cy="302.7" r="2.9" stroke="none"/>
<path d="M79.73 312.5H90.13"/>
<circle cx="84.93" cy="312.5" r="2.9" stroke="none"/>
<path d="M90.1 309.5H100.5"/>
<circle cx="95.3" cy="309.5" r="2.9" stroke="none"/>
<path d="M100.47 306.4H110.87"/>
<circle cx="105.67" cy="306.4" r="2.9" stroke="none"/>
<path d="M110.84 303.9H121.24"/>
<circle cx="116.04" cy="303.9" r="2.9" stroke="none"/>
<path d="M126.41 304.4V310.4"/>
<path d="M121.21 307.4H131.61"/>
<circle cx="126.41" cy="307.4" r="2.9" stroke="none"/>
<path d="M136.79 303.3V316.5"/>
<path d="M131.59 309.9H141.99"/>
<circle cx="136.79" cy="309.9" r="2.9" stroke="none"/>
<path d="M147.16 308.2V325.6"/>
<path d="M141.96 316.9H152.36"/>
<circle cx="147.16" cy="316.9" r="2.9" stroke="none"/>
<path d="M157.53 294.1V313.7"/>
<path d="M152.33 303.9H162.73"/>
<circle cx="157.53" cy="303.9" r="2.9" stroke="none"/>
<path d="M167.9 267.3V292.9"/>
<path d="M162.7 280.1H173.1"/>
<circle cx="167.9" cy="280.1" r="2.9" stroke="none"/>
<path d="M178.27 313.6V340.8"/>
<path d="M173.07 327.2H183.47"/>
<circle cx="178.27" cy="327.2" r="2.9" stroke="none"/>
<path d="M188.64 256.2V305.2"/>
<path d="M183.44 281.2H193.84"/>
<circle cx="188.64" cy="281.2" r="2.9" stroke="none"/>
<path d="M199.01 273.1V329.1"/>
<path d="M193.81 301.1H204.21"/>
<circle cx="199.01" cy="301.1" r="2.9" stroke="none"/>
<path d="M209.39 256.2V313.7"/>
<path d="M204.19 283.3H214.59"/>
<circle cx="209.39" cy="283.3" r="2.9" stroke="none"/>
<path d="M219.76 256.2V320"/>
<path d="M214.56 278.7H224.96"/>
<circle cx="219.76" cy="278.7" r="2.9" stroke="none"/>
<path d="M230.13 256.2V334.7"/>
<path d="M224.93 294.4H235.33"/>
<circle cx="230.13" cy="294.4" r="2.9" stroke="none"/>
<path d="M240.5 258.8V368"/>
<path d="M235.3 311.8H245.7"/>
<circle cx="240.5" cy="311.8" r="2.9" stroke="none"/>
</g>
<g stroke="#000" fill="none" stroke-width="2">
<rect x="59" y="256.2" width="363" height="111.8" stroke-width="2.2"/>
<path d="M69.37 256.2v2.6 M69.37 368v-2.6 M79.74 256.2v2.6 M79.74 368v-2.6 M90.11 256.2v2.6 M90.11 368v-2.6 M100.49 256.2v2.6 M100.49 368v-2.6 M110.86 256.2v4.8 M110.86 368v-4.8 M121.23 256.2v2.6 M121.23 368v-2.6 M131.6 256.2v2.6 M131.6 368v-2.6 M141.97 256.2v2.6 M141.97 368v-2.6 M152.34 256.2v2.6 M152.34 368v-2.6 M162.71 256.2v4.8 M162.71 368v-4.8 M173.09 256.2v2.6 M173.09 368v-2.6 M183.46 256.2v2.6 M183.46 368v-2.6 M193.83 256.2v2.6 M193.83 368v-2.6 M204.2 256.2v2.6 M204.2 368v-2.6 M214.57 256.2v4.8 M214.57 368v-4.8 M224.94 256.2v2.6 M224.94 368v-2.6 M235.31 256.2v2.6 M235.31 368v-2.6 M245.69 256.2v2.6 M245.69 368v-2.6 M256.06 256.2v2.6 M256.06 368v-2.6 M266.43 256.2v4.8 M266.43 368v-4.8 M276.8 256.2v2.6 M276.8 368v-2.6 M287.17 256.2v2.6 M287.17 368v-2.6 M297.54 256.2v2.6 M297.54 368v-2.6 M307.91 256.2v2.6 M307.91 368v-2.6 M318.29 256.2v4.8 M318.29 368v-4.8 M328.66 256.2v2.6 M328.66 368v-2.6 M339.03 256.2v2.6 M339.03 368v-2.6 M349.4 256.2v2.6 M349.4 368v-2.6 M359.77 256.2v2.6 M359.77 368v-2.6 M370.14 256.2v4.8 M370.14 368v-4.8 M380.51 256.2v2.6 M380.51 368v-2.6 M390.89 256.2v2.6 M390.89 368v-2.6 M401.26 256.2v2.6 M401.26 368v-2.6 M411.63 256.2v2.6 M411.63 368v-2.6" stroke-width="1.7"/>
<path d="M59 362.07h4.8 M422 362.07h-4.8 M59 356.5h9.5 M422 356.5h-9.5 M59 350.92h4.8 M422 350.92h-4.8 M59 345.35h4.8 M422 345.35h-4.8 M59 339.77h4.8 M422 339.77h-4.8 M59 334.2h9.5 M422 334.2h-9.5 M59 328.62h4.8 M422 328.62h-4.8 M59 323.05h4.8 M422 323.05h-4.8 M59 317.47h4.8 M422 317.47h-4.8 M59 311.9h9.5 M422 311.9h-9.5 M59 306.32h4.8 M422 306.32h-4.8 M59 300.75h4.8 M422 300.75h-4.8 M59 295.18h4.8 M422 295.18h-4.8 M59 289.6h9.5 M422 289.6h-9.5 M59 284.02h4.8 M422 284.02h-4.8 M59 278.45h4.8 M422 278.45h-4.8 M59 272.87h4.8 M422 272.87h-4.8 M59 267.3h9.5 M422 267.3h-9.5 M59 261.72h4.8 M422 261.72h-4.8" stroke-width="1.8"/>
</g>
<g font-family='"Liberation Sans", Arial, Helvetica, sans-serif' fill="#000" stroke="#000" stroke-width="0.22">
<text x="56.6" y="248.7" font-size="16.6" text-anchor="end">1</text>
<text x="54.4" y="215.7" font-size="16.6" text-anchor="end">10</text>
<text x="49.0" y="184" font-size="16.6" text-anchor="end">10</text>
<text x="48.7" y="177.4" font-size="10.8">2</text>
<text x="49.0" y="151.5" font-size="16.6" text-anchor="end">10</text>
<text x="48.7" y="144.9" font-size="10.8">3</text>
<text x="49.0" y="119" font-size="16.6" text-anchor="end">10</text>
<text x="48.7" y="112.4" font-size="10.8">4</text>
<text x="49.0" y="86.5" font-size="16.6" text-anchor="end">10</text>
<text x="48.7" y="79.9" font-size="10.8">5</text>
<text x="49.0" y="54" font-size="16.6" text-anchor="end">10</text>
<text x="48.7" y="47.4" font-size="10.8">6</text>
<text x="49.0" y="21.5" font-size="16.6" text-anchor="end">10</text>
<text x="48.7" y="14.9" font-size="10.8">7</text>
<text x="56.5" y="273.3" font-size="16.6" text-anchor="end">1.4</text>
<text x="56.5" y="295.6" font-size="16.6" text-anchor="end">1.2</text>
<text x="58.0" y="317.9" font-size="16.6" text-anchor="end">1</text>
<text x="56.5" y="340.2" font-size="16.6" text-anchor="end">0.8</text>
<text x="56.5" y="362.5" font-size="16.6" text-anchor="end">0.6</text>
<text x="59" y="388.7" font-size="16.6" text-anchor="middle">0</text>
<text x="110.86" y="388.7" font-size="16.6" text-anchor="middle">500</text>
<text x="162.71" y="388.7" font-size="16.6" text-anchor="middle">1000</text>
<text x="214.57" y="388.7" font-size="16.6" text-anchor="middle">1500</text>
<text x="266.43" y="388.7" font-size="16.6" text-anchor="middle">2000</text>
<text x="318.29" y="388.7" font-size="16.6" text-anchor="middle">2500</text>
<text x="370.14" y="388.7" font-size="16.6" text-anchor="middle">3000</text>
<text x="422" y="388.7" font-size="16.6" text-anchor="middle">3500</text>
<text transform="translate(17.7,5.4) rotate(-90)" font-size="21.2" text-anchor="end">Events</text>
<text transform="translate(19.1,252.8) rotate(-90)" font-size="21.5" text-anchor="end">Data/MC</text>
<text x="346.8" y="413.5" font-size="18.9">h</text><text x="357" y="403.6" font-size="12">had</text><text x="356.4" y="420.1" font-size="12.4">T</text><text x="431" y="413.5" font-size="18.9" text-anchor="end">[GeV]</text>
<path d="M78.7 37l1.1 -0.7l1.2 7.4" fill="none" stroke="#000" stroke-width="1.7" stroke-linejoin="bevel"/><path d="M80.9 44.2l1.5 -11.3h7.8" fill="none" stroke="#000" stroke-width="1.25"/>
<text x="84" y="43.4" font-size="11.9" textLength="106.4" lengthAdjust="spacingAndGlyphs">s = 13 TeV, 36.1 fb</text>
<text x="190.9" y="38" font-size="8.4">-1</text>
<text x="77.2" y="59.6" font-size="11.9" textLength="61.6" lengthAdjust="spacingAndGlyphs">≥4j, ≥1b, 1l</text>
<text x="78" y="75.6" font-size="11.9" textLength="140" lengthAdjust="spacingAndGlyphs">MET&lt;20, MET+MTW&lt;60</text>
<path d="M241.6 28.3H257.6" stroke="#000" stroke-width="1.4"/><circle cx="249.6" cy="28.3" r="2.9"/>
<text transform="translate(261.2,29.55) scale(1.09,1)" font-size="9.45">Data</text>
<text transform="translate(398,29.55) scale(1.09,1)" font-size="9.45" text-anchor="end">103980</text>
<rect x="242" y="33.16" width="15.2" height="7.2" fill="#ffffff" stroke="#000" stroke-width="1.5"/>
<text transform="translate(261.2,40.76) scale(1.09,1)" font-size="9.45">tt+light-jets</text>
<path d="M263.8 32.06h2.4" stroke="#000" stroke-width="1"/>
<text transform="translate(398,40.76) scale(1.09,1)" font-size="9.45" text-anchor="end">55266.06</text>
<rect x="242" y="44.37" width="15.2" height="7.2" fill="#b8c4ff" stroke="#000" stroke-width="1.5"/>
<text transform="translate(261.2,51.97) scale(1.09,1)" font-size="9.45">tt+≥1c</text>
<path d="M263.8 43.27h2.4" stroke="#000" stroke-width="1"/>
<text transform="translate(398,51.97) scale(1.09,1)" font-size="9.45" text-anchor="end">5857.14</text>
<rect x="242" y="55.58" width="15.2" height="7.2" fill="#4a5cff" stroke="#000" stroke-width="1.5"/>
<text transform="translate(261.2,63.18) scale(1.09,1)" font-size="9.45">tt+≥1b</text>
<path d="M263.8 54.48h2.4" stroke="#000" stroke-width="1"/>
<text transform="translate(398,63.18) scale(1.09,1)" font-size="9.45" text-anchor="end">2226.45</text>
<rect x="242" y="66.79" width="15.2" height="7.2" fill="#45f5ad" stroke="#000" stroke-width="1.5"/>
<text transform="translate(261.2,74.39) scale(1.09,1)" font-size="9.45">single top</text>
<text transform="translate(398,74.39) scale(1.09,1)" font-size="9.45" text-anchor="end">4447.40</text>
<rect x="242" y="78" width="15.2" height="7.2" fill="#1e6a06" stroke="#000" stroke-width="1.5"/>
<text transform="translate(261.2,85.6) scale(1.09,1)" font-size="9.45">W+jets</text>
<text transform="translate(398,85.6) scale(1.09,1)" font-size="9.45" text-anchor="end">13820.28</text>
<rect x="242" y="89.21" width="15.2" height="7.2" fill="#30c010" stroke="#000" stroke-width="1.5"/>
<text transform="translate(261.2,96.81) scale(1.09,1)" font-size="9.45">Z+jets</text>
<text transform="translate(398,96.81) scale(1.09,1)" font-size="9.45" text-anchor="end">3985.38</text>
<rect x="242" y="100.42" width="15.2" height="7.2" fill="#50fa30" stroke="#000" stroke-width="1.5"/>
<text transform="translate(261.2,108.02) scale(1.09,1)" font-size="9.45">diboson</text>
<text transform="translate(398,108.02) scale(1.09,1)" font-size="9.45" text-anchor="end">429.19</text>
<rect x="242" y="111.63" width="15.2" height="7.2" fill="#22c084" stroke="#000" stroke-width="1.5"/>
<text transform="translate(261.2,119.23) scale(1.09,1)" font-size="9.45">tt + X</text>
<text transform="translate(398,119.23) scale(1.09,1)" font-size="9.45" text-anchor="end">221.96</text>
<rect x="242" y="122.84" width="15.2" height="7.2" fill="#cacaca" stroke="#000" stroke-width="1.5"/>
<text transform="translate(261.2,130.44) scale(1.09,1)" font-size="9.45">QCD fake</text>
<text transform="translate(398,130.44) scale(1.09,1)" font-size="9.45" text-anchor="end">14887.37</text>
<text transform="translate(261.2,141.65) scale(1.09,1)" font-size="9.45">Total bg</text>
<text transform="translate(398,141.65) scale(1.09,1)" font-size="9.45" text-anchor="end">101141.24</text>
</g>
</g>
<g font-family='"Liberation Serif", "Times New Roman", Times, serif' fill="#000" stroke="#000" stroke-width="0.3"><text transform="translate(833.0,1452.9) scale(1.04,1)" font-size="30.0">(h)</text><text transform="translate(880.0,1452.9) scale(1.04,1)" font-size="30.0" font-style="italic">H</text><text transform="translate(903.8,1440.4) scale(1.04,1)" font-size="24.0">had</text><text transform="translate(904.2,1465.1) scale(1.04,1)" font-size="24.0">T</text><text transform="translate(950.4,1452.9) scale(1.04,1)" font-size="30.0">in</text><text transform="translate(983.2,1452.9) scale(1.04,1)" font-size="30.0" font-style="italic">mu</text></g>
</svg>
</body></html>
